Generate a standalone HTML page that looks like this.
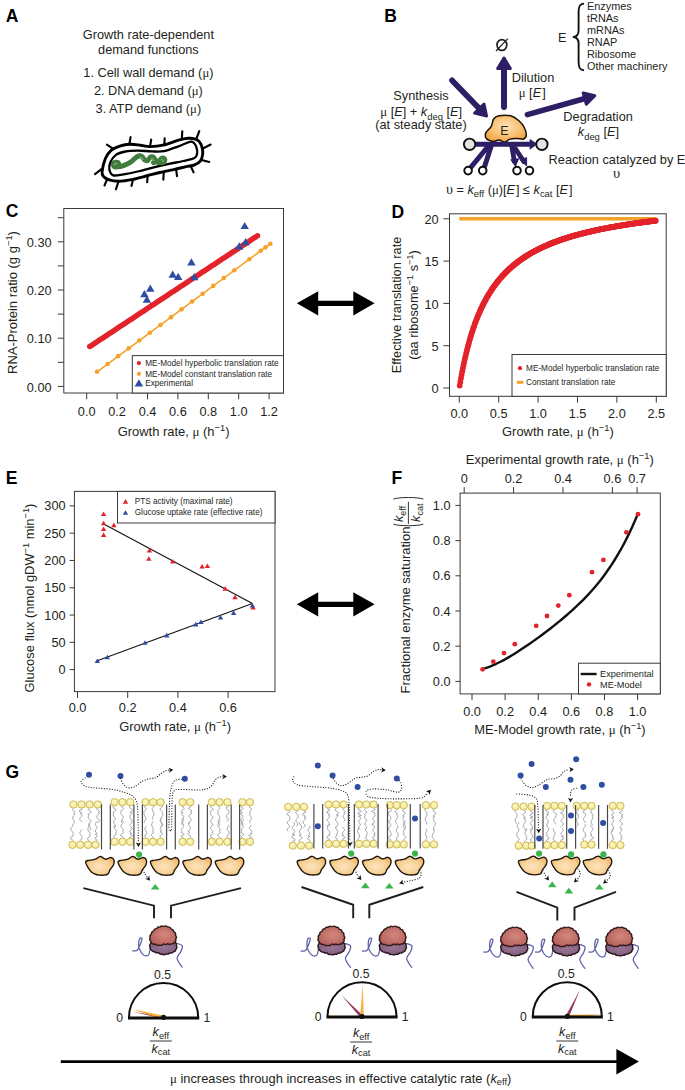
<!DOCTYPE html>
<html><head><meta charset="utf-8"><style>
html,body{margin:0;padding:0;background:#fff;}
svg{display:block;font-family:"Liberation Sans", sans-serif;}
</style></head><body>
<svg width="685" height="1090" viewBox="0 0 685 1090">
<rect width="685" height="1090" fill="#fff"/>
<text x="5.80" y="21.70" font-size="17.5" text-anchor="start" font-weight="bold" font-style="normal" fill="#000" >A</text>
<text x="384.30" y="21.50" font-size="17.5" text-anchor="start" font-weight="bold" font-style="normal" fill="#000" >B</text>
<text x="5.80" y="217.20" font-size="17.5" text-anchor="start" font-weight="bold" font-style="normal" fill="#000" >C</text>
<text x="391.60" y="218.20" font-size="17.5" text-anchor="start" font-weight="bold" font-style="normal" fill="#000" >D</text>
<text x="5.80" y="483.80" font-size="17.5" text-anchor="start" font-weight="bold" font-style="normal" fill="#000" >E</text>
<text x="391.60" y="484.30" font-size="17.5" text-anchor="start" font-weight="bold" font-style="normal" fill="#000" >F</text>
<text x="5.60" y="777.60" font-size="17.5" text-anchor="start" font-weight="bold" font-style="normal" fill="#000" >G</text>
<rect x="63.80" y="208.50" width="219.70" height="184.50" stroke="#3a3a3a" stroke-width="1" fill="none"/>
<line x1="57.80" y1="386.40" x2="63.80" y2="386.40" stroke="#3a3a3a" stroke-width="1" />
<text x="51.60" y="391.60" font-size="12.75" text-anchor="end" font-weight="normal" font-style="normal" fill="#231f20" >0.00</text>
<line x1="57.80" y1="362.30" x2="63.80" y2="362.30" stroke="#3a3a3a" stroke-width="1" />
<line x1="57.80" y1="338.20" x2="63.80" y2="338.20" stroke="#3a3a3a" stroke-width="1" />
<text x="51.60" y="343.40" font-size="12.75" text-anchor="end" font-weight="normal" font-style="normal" fill="#231f20" >0.10</text>
<line x1="57.80" y1="314.10" x2="63.80" y2="314.10" stroke="#3a3a3a" stroke-width="1" />
<line x1="57.80" y1="290.00" x2="63.80" y2="290.00" stroke="#3a3a3a" stroke-width="1" />
<text x="51.60" y="295.20" font-size="12.75" text-anchor="end" font-weight="normal" font-style="normal" fill="#231f20" >0.20</text>
<line x1="57.80" y1="265.90" x2="63.80" y2="265.90" stroke="#3a3a3a" stroke-width="1" />
<line x1="57.80" y1="241.80" x2="63.80" y2="241.80" stroke="#3a3a3a" stroke-width="1" />
<text x="51.60" y="247.00" font-size="12.75" text-anchor="end" font-weight="normal" font-style="normal" fill="#231f20" >0.30</text>
<line x1="57.80" y1="217.70" x2="63.80" y2="217.70" stroke="#3a3a3a" stroke-width="1" />
<line x1="86.70" y1="393.00" x2="86.70" y2="399.30" stroke="#3a3a3a" stroke-width="1" />
<text x="86.70" y="415.50" font-size="12.75" text-anchor="middle" font-weight="normal" font-style="normal" fill="#231f20" >0.0</text>
<line x1="117.10" y1="393.00" x2="117.10" y2="399.30" stroke="#3a3a3a" stroke-width="1" />
<text x="117.10" y="415.50" font-size="12.75" text-anchor="middle" font-weight="normal" font-style="normal" fill="#231f20" >0.2</text>
<line x1="147.50" y1="393.00" x2="147.50" y2="399.30" stroke="#3a3a3a" stroke-width="1" />
<text x="147.50" y="415.50" font-size="12.75" text-anchor="middle" font-weight="normal" font-style="normal" fill="#231f20" >0.4</text>
<line x1="177.90" y1="393.00" x2="177.90" y2="399.30" stroke="#3a3a3a" stroke-width="1" />
<text x="177.90" y="415.50" font-size="12.75" text-anchor="middle" font-weight="normal" font-style="normal" fill="#231f20" >0.6</text>
<line x1="208.30" y1="393.00" x2="208.30" y2="399.30" stroke="#3a3a3a" stroke-width="1" />
<text x="208.30" y="415.50" font-size="12.75" text-anchor="middle" font-weight="normal" font-style="normal" fill="#231f20" >0.8</text>
<line x1="238.70" y1="393.00" x2="238.70" y2="399.30" stroke="#3a3a3a" stroke-width="1" />
<text x="238.70" y="415.50" font-size="12.75" text-anchor="middle" font-weight="normal" font-style="normal" fill="#231f20" >1.0</text>
<line x1="269.10" y1="393.00" x2="269.10" y2="399.30" stroke="#3a3a3a" stroke-width="1" />
<text x="269.10" y="415.50" font-size="12.75" text-anchor="middle" font-weight="normal" font-style="normal" fill="#231f20" >1.2</text>
<text x="173.60" y="436.40" font-size="12.95" text-anchor="middle" font-weight="normal" font-style="normal" fill="#231f20" >Growth rate, <tspan font-family="Liberation Serif">μ</tspan> (h<tspan dy="-4.92" font-size="9.32">−1</tspan><tspan dy="4.92">​</tspan>)</text>
<text x="0.00" y="0.00" font-size="13.0" text-anchor="middle" font-weight="normal" font-style="normal" fill="#231f20" transform="translate(16.6,302.5) rotate(-90)">RNA-Protein ratio (g g<tspan dy="-4.94" font-size="9.36">−1</tspan><tspan dy="4.94">​</tspan>)</text>
<line x1="97.04" y1="371.77" x2="270.32" y2="243.75" stroke="#f3a22a" stroke-width="1.6" />
<circle cx="97.04" cy="371.77" r="2.3" fill="#f3a22a" stroke="none" stroke-width="0"/>
<circle cx="107.60" cy="363.97" r="2.3" fill="#f3a22a" stroke="none" stroke-width="0"/>
<circle cx="118.16" cy="356.16" r="2.3" fill="#f3a22a" stroke="none" stroke-width="0"/>
<circle cx="128.73" cy="348.36" r="2.3" fill="#f3a22a" stroke="none" stroke-width="0"/>
<circle cx="139.29" cy="340.55" r="2.3" fill="#f3a22a" stroke="none" stroke-width="0"/>
<circle cx="149.86" cy="332.75" r="2.3" fill="#f3a22a" stroke="none" stroke-width="0"/>
<circle cx="160.42" cy="324.94" r="2.3" fill="#f3a22a" stroke="none" stroke-width="0"/>
<circle cx="170.98" cy="317.14" r="2.3" fill="#f3a22a" stroke="none" stroke-width="0"/>
<circle cx="181.55" cy="309.33" r="2.3" fill="#f3a22a" stroke="none" stroke-width="0"/>
<circle cx="192.11" cy="301.53" r="2.3" fill="#f3a22a" stroke="none" stroke-width="0"/>
<circle cx="202.68" cy="293.72" r="2.3" fill="#f3a22a" stroke="none" stroke-width="0"/>
<circle cx="213.24" cy="285.92" r="2.3" fill="#f3a22a" stroke="none" stroke-width="0"/>
<circle cx="223.80" cy="278.11" r="2.3" fill="#f3a22a" stroke="none" stroke-width="0"/>
<circle cx="234.37" cy="270.31" r="2.3" fill="#f3a22a" stroke="none" stroke-width="0"/>
<circle cx="249.34" cy="259.24" r="2.3" fill="#f3a22a" stroke="none" stroke-width="0"/>
<circle cx="260.74" cy="250.82" r="2.3" fill="#f3a22a" stroke="none" stroke-width="0"/>
<circle cx="265.45" cy="247.34" r="2.3" fill="#f3a22a" stroke="none" stroke-width="0"/>
<circle cx="270.32" cy="243.75" r="2.3" fill="#f3a22a" stroke="none" stroke-width="0"/>
<circle cx="89.74" cy="346.60" r="2.75" fill="#e3232b" stroke="none" stroke-width="0"/>
<circle cx="91.56" cy="345.40" r="2.75" fill="#e3232b" stroke="none" stroke-width="0"/>
<circle cx="93.39" cy="344.19" r="2.75" fill="#e3232b" stroke="none" stroke-width="0"/>
<circle cx="95.21" cy="342.99" r="2.75" fill="#e3232b" stroke="none" stroke-width="0"/>
<circle cx="97.04" cy="341.78" r="2.75" fill="#e3232b" stroke="none" stroke-width="0"/>
<circle cx="98.86" cy="340.58" r="2.75" fill="#e3232b" stroke="none" stroke-width="0"/>
<circle cx="100.68" cy="339.37" r="2.75" fill="#e3232b" stroke="none" stroke-width="0"/>
<circle cx="102.51" cy="338.16" r="2.75" fill="#e3232b" stroke="none" stroke-width="0"/>
<circle cx="104.33" cy="336.96" r="2.75" fill="#e3232b" stroke="none" stroke-width="0"/>
<circle cx="106.16" cy="335.75" r="2.75" fill="#e3232b" stroke="none" stroke-width="0"/>
<circle cx="107.98" cy="334.55" r="2.75" fill="#e3232b" stroke="none" stroke-width="0"/>
<circle cx="109.80" cy="333.34" r="2.75" fill="#e3232b" stroke="none" stroke-width="0"/>
<circle cx="111.63" cy="332.14" r="2.75" fill="#e3232b" stroke="none" stroke-width="0"/>
<circle cx="113.45" cy="330.93" r="2.75" fill="#e3232b" stroke="none" stroke-width="0"/>
<circle cx="115.28" cy="329.73" r="2.75" fill="#e3232b" stroke="none" stroke-width="0"/>
<circle cx="117.10" cy="328.52" r="2.75" fill="#e3232b" stroke="none" stroke-width="0"/>
<circle cx="118.92" cy="327.32" r="2.75" fill="#e3232b" stroke="none" stroke-width="0"/>
<circle cx="120.75" cy="326.11" r="2.75" fill="#e3232b" stroke="none" stroke-width="0"/>
<circle cx="122.57" cy="324.91" r="2.75" fill="#e3232b" stroke="none" stroke-width="0"/>
<circle cx="124.40" cy="323.70" r="2.75" fill="#e3232b" stroke="none" stroke-width="0"/>
<circle cx="126.22" cy="322.49" r="2.75" fill="#e3232b" stroke="none" stroke-width="0"/>
<circle cx="128.04" cy="321.29" r="2.75" fill="#e3232b" stroke="none" stroke-width="0"/>
<circle cx="129.87" cy="320.08" r="2.75" fill="#e3232b" stroke="none" stroke-width="0"/>
<circle cx="131.69" cy="318.88" r="2.75" fill="#e3232b" stroke="none" stroke-width="0"/>
<circle cx="133.52" cy="317.67" r="2.75" fill="#e3232b" stroke="none" stroke-width="0"/>
<circle cx="135.34" cy="316.47" r="2.75" fill="#e3232b" stroke="none" stroke-width="0"/>
<circle cx="137.16" cy="315.26" r="2.75" fill="#e3232b" stroke="none" stroke-width="0"/>
<circle cx="138.99" cy="314.06" r="2.75" fill="#e3232b" stroke="none" stroke-width="0"/>
<circle cx="140.81" cy="312.85" r="2.75" fill="#e3232b" stroke="none" stroke-width="0"/>
<circle cx="142.64" cy="311.65" r="2.75" fill="#e3232b" stroke="none" stroke-width="0"/>
<circle cx="144.46" cy="310.44" r="2.75" fill="#e3232b" stroke="none" stroke-width="0"/>
<circle cx="146.28" cy="309.24" r="2.75" fill="#e3232b" stroke="none" stroke-width="0"/>
<circle cx="148.11" cy="308.03" r="2.75" fill="#e3232b" stroke="none" stroke-width="0"/>
<circle cx="149.93" cy="306.82" r="2.75" fill="#e3232b" stroke="none" stroke-width="0"/>
<circle cx="151.76" cy="305.62" r="2.75" fill="#e3232b" stroke="none" stroke-width="0"/>
<circle cx="153.58" cy="304.41" r="2.75" fill="#e3232b" stroke="none" stroke-width="0"/>
<circle cx="155.40" cy="303.21" r="2.75" fill="#e3232b" stroke="none" stroke-width="0"/>
<circle cx="157.23" cy="302.00" r="2.75" fill="#e3232b" stroke="none" stroke-width="0"/>
<circle cx="159.05" cy="300.80" r="2.75" fill="#e3232b" stroke="none" stroke-width="0"/>
<circle cx="160.88" cy="299.59" r="2.75" fill="#e3232b" stroke="none" stroke-width="0"/>
<circle cx="162.70" cy="298.39" r="2.75" fill="#e3232b" stroke="none" stroke-width="0"/>
<circle cx="164.52" cy="297.18" r="2.75" fill="#e3232b" stroke="none" stroke-width="0"/>
<circle cx="166.35" cy="295.98" r="2.75" fill="#e3232b" stroke="none" stroke-width="0"/>
<circle cx="168.17" cy="294.77" r="2.75" fill="#e3232b" stroke="none" stroke-width="0"/>
<circle cx="170.00" cy="293.57" r="2.75" fill="#e3232b" stroke="none" stroke-width="0"/>
<circle cx="171.82" cy="292.36" r="2.75" fill="#e3232b" stroke="none" stroke-width="0"/>
<circle cx="173.64" cy="291.15" r="2.75" fill="#e3232b" stroke="none" stroke-width="0"/>
<circle cx="175.47" cy="289.95" r="2.75" fill="#e3232b" stroke="none" stroke-width="0"/>
<circle cx="177.29" cy="288.74" r="2.75" fill="#e3232b" stroke="none" stroke-width="0"/>
<circle cx="179.12" cy="287.54" r="2.75" fill="#e3232b" stroke="none" stroke-width="0"/>
<circle cx="180.94" cy="286.33" r="2.75" fill="#e3232b" stroke="none" stroke-width="0"/>
<circle cx="182.76" cy="285.13" r="2.75" fill="#e3232b" stroke="none" stroke-width="0"/>
<circle cx="184.59" cy="283.92" r="2.75" fill="#e3232b" stroke="none" stroke-width="0"/>
<circle cx="186.41" cy="282.72" r="2.75" fill="#e3232b" stroke="none" stroke-width="0"/>
<circle cx="188.24" cy="281.51" r="2.75" fill="#e3232b" stroke="none" stroke-width="0"/>
<circle cx="190.06" cy="280.31" r="2.75" fill="#e3232b" stroke="none" stroke-width="0"/>
<circle cx="191.88" cy="279.10" r="2.75" fill="#e3232b" stroke="none" stroke-width="0"/>
<circle cx="193.71" cy="277.90" r="2.75" fill="#e3232b" stroke="none" stroke-width="0"/>
<circle cx="195.53" cy="276.69" r="2.75" fill="#e3232b" stroke="none" stroke-width="0"/>
<circle cx="197.36" cy="275.48" r="2.75" fill="#e3232b" stroke="none" stroke-width="0"/>
<circle cx="199.18" cy="274.28" r="2.75" fill="#e3232b" stroke="none" stroke-width="0"/>
<circle cx="201.00" cy="273.07" r="2.75" fill="#e3232b" stroke="none" stroke-width="0"/>
<circle cx="202.83" cy="271.87" r="2.75" fill="#e3232b" stroke="none" stroke-width="0"/>
<circle cx="204.65" cy="270.66" r="2.75" fill="#e3232b" stroke="none" stroke-width="0"/>
<circle cx="206.48" cy="269.46" r="2.75" fill="#e3232b" stroke="none" stroke-width="0"/>
<circle cx="208.30" cy="268.25" r="2.75" fill="#e3232b" stroke="none" stroke-width="0"/>
<circle cx="210.12" cy="267.05" r="2.75" fill="#e3232b" stroke="none" stroke-width="0"/>
<circle cx="211.95" cy="265.84" r="2.75" fill="#e3232b" stroke="none" stroke-width="0"/>
<circle cx="213.77" cy="264.64" r="2.75" fill="#e3232b" stroke="none" stroke-width="0"/>
<circle cx="215.60" cy="263.43" r="2.75" fill="#e3232b" stroke="none" stroke-width="0"/>
<circle cx="217.42" cy="262.23" r="2.75" fill="#e3232b" stroke="none" stroke-width="0"/>
<circle cx="219.24" cy="261.02" r="2.75" fill="#e3232b" stroke="none" stroke-width="0"/>
<circle cx="221.07" cy="259.81" r="2.75" fill="#e3232b" stroke="none" stroke-width="0"/>
<circle cx="222.89" cy="258.61" r="2.75" fill="#e3232b" stroke="none" stroke-width="0"/>
<circle cx="224.72" cy="257.40" r="2.75" fill="#e3232b" stroke="none" stroke-width="0"/>
<circle cx="226.54" cy="256.20" r="2.75" fill="#e3232b" stroke="none" stroke-width="0"/>
<circle cx="228.36" cy="254.99" r="2.75" fill="#e3232b" stroke="none" stroke-width="0"/>
<circle cx="230.19" cy="253.79" r="2.75" fill="#e3232b" stroke="none" stroke-width="0"/>
<circle cx="232.01" cy="252.58" r="2.75" fill="#e3232b" stroke="none" stroke-width="0"/>
<circle cx="233.84" cy="251.38" r="2.75" fill="#e3232b" stroke="none" stroke-width="0"/>
<circle cx="235.66" cy="250.17" r="2.75" fill="#e3232b" stroke="none" stroke-width="0"/>
<circle cx="237.48" cy="248.97" r="2.75" fill="#e3232b" stroke="none" stroke-width="0"/>
<circle cx="239.31" cy="247.76" r="2.75" fill="#e3232b" stroke="none" stroke-width="0"/>
<circle cx="241.13" cy="246.56" r="2.75" fill="#e3232b" stroke="none" stroke-width="0"/>
<circle cx="242.96" cy="245.35" r="2.75" fill="#e3232b" stroke="none" stroke-width="0"/>
<circle cx="244.78" cy="244.14" r="2.75" fill="#e3232b" stroke="none" stroke-width="0"/>
<circle cx="246.60" cy="242.94" r="2.75" fill="#e3232b" stroke="none" stroke-width="0"/>
<circle cx="248.43" cy="241.73" r="2.75" fill="#e3232b" stroke="none" stroke-width="0"/>
<circle cx="250.25" cy="240.53" r="2.75" fill="#e3232b" stroke="none" stroke-width="0"/>
<circle cx="252.08" cy="239.32" r="2.75" fill="#e3232b" stroke="none" stroke-width="0"/>
<circle cx="253.90" cy="238.12" r="2.75" fill="#e3232b" stroke="none" stroke-width="0"/>
<circle cx="255.72" cy="236.91" r="2.75" fill="#e3232b" stroke="none" stroke-width="0"/>
<circle cx="257.55" cy="235.71" r="2.75" fill="#e3232b" stroke="none" stroke-width="0"/>
<path d="M144.40,290.00L148.60,297.20L140.20,297.20Z" fill="#2f4ea3"/>
<path d="M150.30,284.50L154.50,291.70L146.10,291.70Z" fill="#2f4ea3"/>
<path d="M146.90,295.50L151.10,302.70L142.70,302.70Z" fill="#2f4ea3"/>
<path d="M172.70,270.60L176.90,277.80L168.50,277.80Z" fill="#2f4ea3"/>
<path d="M178.20,272.70L182.40,279.90L174.00,279.90Z" fill="#2f4ea3"/>
<path d="M191.40,258.30L195.60,265.50L187.20,265.50Z" fill="#2f4ea3"/>
<path d="M194.30,273.10L198.50,280.30L190.10,280.30Z" fill="#2f4ea3"/>
<path d="M239.20,242.20L243.40,249.40L235.00,249.40Z" fill="#2f4ea3"/>
<path d="M245.60,238.00L249.80,245.20L241.40,245.20Z" fill="#2f4ea3"/>
<path d="M244.70,221.90L248.90,229.10L240.50,229.10Z" fill="#2f4ea3"/>
<rect x="132.3" y="355.6" width="151.20" height="37.40" fill="#fff" stroke="#3a3a3a" stroke-width="1"/>
<circle cx="138.90" cy="363.10" r="2.1" fill="#e3232b" stroke="none" stroke-width="0"/>
<text x="145.20" y="366.00" font-size="8.2" text-anchor="start" font-weight="normal" font-style="normal" fill="#231f20" >ME-Model hyperbolic translation rate</text>
<circle cx="138.90" cy="373.80" r="2.1" fill="#f3a22a" stroke="none" stroke-width="0"/>
<text x="145.20" y="376.70" font-size="8.2" text-anchor="start" font-weight="normal" font-style="normal" fill="#231f20" >ME-Model constant translation rate</text>
<path d="M138.90,379.20L143.20,386.60L134.60,386.60Z" fill="#2f4ea3"/>
<text x="145.20" y="385.80" font-size="8.2" text-anchor="start" font-weight="normal" font-style="normal" fill="#231f20" >Experimental</text>
<rect x="449.50" y="213.80" width="216.70" height="182.50" stroke="#3a3a3a" stroke-width="1" fill="none"/>
<line x1="443.40" y1="388.00" x2="449.50" y2="388.00" stroke="#3a3a3a" stroke-width="1" />
<text x="438.70" y="393.20" font-size="12.75" text-anchor="end" font-weight="normal" font-style="normal" fill="#231f20" >0</text>
<line x1="443.40" y1="345.70" x2="449.50" y2="345.70" stroke="#3a3a3a" stroke-width="1" />
<text x="438.70" y="350.90" font-size="12.75" text-anchor="end" font-weight="normal" font-style="normal" fill="#231f20" >5</text>
<line x1="443.40" y1="303.40" x2="449.50" y2="303.40" stroke="#3a3a3a" stroke-width="1" />
<text x="438.70" y="308.60" font-size="12.75" text-anchor="end" font-weight="normal" font-style="normal" fill="#231f20" >10</text>
<line x1="443.40" y1="261.10" x2="449.50" y2="261.10" stroke="#3a3a3a" stroke-width="1" />
<text x="438.70" y="266.30" font-size="12.75" text-anchor="end" font-weight="normal" font-style="normal" fill="#231f20" >15</text>
<line x1="443.40" y1="218.80" x2="449.50" y2="218.80" stroke="#3a3a3a" stroke-width="1" />
<text x="438.70" y="224.00" font-size="12.75" text-anchor="end" font-weight="normal" font-style="normal" fill="#231f20" >20</text>
<line x1="459.30" y1="396.30" x2="459.30" y2="402.60" stroke="#3a3a3a" stroke-width="1" />
<text x="459.30" y="418.40" font-size="12.75" text-anchor="middle" font-weight="normal" font-style="normal" fill="#231f20" >0.0</text>
<line x1="498.70" y1="396.30" x2="498.70" y2="402.60" stroke="#3a3a3a" stroke-width="1" />
<text x="498.70" y="418.40" font-size="12.75" text-anchor="middle" font-weight="normal" font-style="normal" fill="#231f20" >0.5</text>
<line x1="538.10" y1="396.30" x2="538.10" y2="402.60" stroke="#3a3a3a" stroke-width="1" />
<text x="538.10" y="418.40" font-size="12.75" text-anchor="middle" font-weight="normal" font-style="normal" fill="#231f20" >1.0</text>
<line x1="577.50" y1="396.30" x2="577.50" y2="402.60" stroke="#3a3a3a" stroke-width="1" />
<text x="577.50" y="418.40" font-size="12.75" text-anchor="middle" font-weight="normal" font-style="normal" fill="#231f20" >1.5</text>
<line x1="616.90" y1="396.30" x2="616.90" y2="402.60" stroke="#3a3a3a" stroke-width="1" />
<text x="616.90" y="418.40" font-size="12.75" text-anchor="middle" font-weight="normal" font-style="normal" fill="#231f20" >2.0</text>
<line x1="656.30" y1="396.30" x2="656.30" y2="402.60" stroke="#3a3a3a" stroke-width="1" />
<text x="656.30" y="418.40" font-size="12.75" text-anchor="middle" font-weight="normal" font-style="normal" fill="#231f20" >2.5</text>
<text x="557.90" y="436.20" font-size="12.95" text-anchor="middle" font-weight="normal" font-style="normal" fill="#231f20" >Growth rate, <tspan font-family="Liberation Serif">μ</tspan> (h<tspan dy="-4.92" font-size="9.32">−1</tspan><tspan dy="4.92">​</tspan>)</text>
<text x="0.00" y="0.00" font-size="12.75" text-anchor="middle" font-weight="normal" font-style="normal" fill="#231f20" transform="translate(401.2,305) rotate(-90)">Effective translation rate</text>
<text x="0.00" y="0.00" font-size="12.75" text-anchor="middle" font-weight="normal" font-style="normal" fill="#231f20" transform="translate(418.3,305) rotate(-90)">(aa ribosome<tspan dy="-4.84" font-size="9.18">−1</tspan><tspan dy="4.84">​</tspan> s<tspan dy="-4.84" font-size="9.18">−1</tspan><tspan dy="4.84">​</tspan>)</text>
<line x1="459.30" y1="218.80" x2="656.30" y2="218.80" stroke="#f3a22a" stroke-width="3.6" />
<circle cx="459.69" cy="385.61" r="2.9" fill="#e3232b" stroke="none" stroke-width="0"/>
<circle cx="460.32" cy="381.90" r="2.9" fill="#e3232b" stroke="none" stroke-width="0"/>
<circle cx="460.95" cy="378.33" r="2.9" fill="#e3232b" stroke="none" stroke-width="0"/>
<circle cx="461.59" cy="374.90" r="2.9" fill="#e3232b" stroke="none" stroke-width="0"/>
<circle cx="462.22" cy="371.59" r="2.9" fill="#e3232b" stroke="none" stroke-width="0"/>
<circle cx="462.85" cy="368.40" r="2.9" fill="#e3232b" stroke="none" stroke-width="0"/>
<circle cx="463.48" cy="365.32" r="2.9" fill="#e3232b" stroke="none" stroke-width="0"/>
<circle cx="464.11" cy="362.35" r="2.9" fill="#e3232b" stroke="none" stroke-width="0"/>
<circle cx="464.74" cy="359.48" r="2.9" fill="#e3232b" stroke="none" stroke-width="0"/>
<circle cx="465.37" cy="356.71" r="2.9" fill="#e3232b" stroke="none" stroke-width="0"/>
<circle cx="466.00" cy="354.03" r="2.9" fill="#e3232b" stroke="none" stroke-width="0"/>
<circle cx="466.63" cy="351.43" r="2.9" fill="#e3232b" stroke="none" stroke-width="0"/>
<circle cx="467.26" cy="348.92" r="2.9" fill="#e3232b" stroke="none" stroke-width="0"/>
<circle cx="467.89" cy="346.49" r="2.9" fill="#e3232b" stroke="none" stroke-width="0"/>
<circle cx="468.52" cy="344.13" r="2.9" fill="#e3232b" stroke="none" stroke-width="0"/>
<circle cx="469.15" cy="341.84" r="2.9" fill="#e3232b" stroke="none" stroke-width="0"/>
<circle cx="469.78" cy="339.62" r="2.9" fill="#e3232b" stroke="none" stroke-width="0"/>
<circle cx="470.41" cy="337.47" r="2.9" fill="#e3232b" stroke="none" stroke-width="0"/>
<circle cx="471.04" cy="335.38" r="2.9" fill="#e3232b" stroke="none" stroke-width="0"/>
<circle cx="471.67" cy="333.35" r="2.9" fill="#e3232b" stroke="none" stroke-width="0"/>
<circle cx="472.30" cy="331.37" r="2.9" fill="#e3232b" stroke="none" stroke-width="0"/>
<circle cx="472.93" cy="329.46" r="2.9" fill="#e3232b" stroke="none" stroke-width="0"/>
<circle cx="473.56" cy="327.59" r="2.9" fill="#e3232b" stroke="none" stroke-width="0"/>
<circle cx="474.19" cy="325.78" r="2.9" fill="#e3232b" stroke="none" stroke-width="0"/>
<circle cx="474.82" cy="324.01" r="2.9" fill="#e3232b" stroke="none" stroke-width="0"/>
<circle cx="475.45" cy="322.29" r="2.9" fill="#e3232b" stroke="none" stroke-width="0"/>
<circle cx="476.08" cy="320.62" r="2.9" fill="#e3232b" stroke="none" stroke-width="0"/>
<circle cx="476.71" cy="318.98" r="2.9" fill="#e3232b" stroke="none" stroke-width="0"/>
<circle cx="477.35" cy="317.39" r="2.9" fill="#e3232b" stroke="none" stroke-width="0"/>
<circle cx="477.98" cy="315.84" r="2.9" fill="#e3232b" stroke="none" stroke-width="0"/>
<circle cx="478.61" cy="314.33" r="2.9" fill="#e3232b" stroke="none" stroke-width="0"/>
<circle cx="479.24" cy="312.86" r="2.9" fill="#e3232b" stroke="none" stroke-width="0"/>
<circle cx="479.87" cy="311.42" r="2.9" fill="#e3232b" stroke="none" stroke-width="0"/>
<circle cx="480.50" cy="310.01" r="2.9" fill="#e3232b" stroke="none" stroke-width="0"/>
<circle cx="481.13" cy="308.64" r="2.9" fill="#e3232b" stroke="none" stroke-width="0"/>
<circle cx="481.76" cy="307.30" r="2.9" fill="#e3232b" stroke="none" stroke-width="0"/>
<circle cx="482.39" cy="305.99" r="2.9" fill="#e3232b" stroke="none" stroke-width="0"/>
<circle cx="483.02" cy="304.71" r="2.9" fill="#e3232b" stroke="none" stroke-width="0"/>
<circle cx="483.65" cy="303.46" r="2.9" fill="#e3232b" stroke="none" stroke-width="0"/>
<circle cx="484.28" cy="302.24" r="2.9" fill="#e3232b" stroke="none" stroke-width="0"/>
<circle cx="484.91" cy="301.05" r="2.9" fill="#e3232b" stroke="none" stroke-width="0"/>
<circle cx="485.54" cy="299.88" r="2.9" fill="#e3232b" stroke="none" stroke-width="0"/>
<circle cx="486.17" cy="298.73" r="2.9" fill="#e3232b" stroke="none" stroke-width="0"/>
<circle cx="486.80" cy="297.61" r="2.9" fill="#e3232b" stroke="none" stroke-width="0"/>
<circle cx="487.43" cy="296.52" r="2.9" fill="#e3232b" stroke="none" stroke-width="0"/>
<circle cx="488.06" cy="295.44" r="2.9" fill="#e3232b" stroke="none" stroke-width="0"/>
<circle cx="488.69" cy="294.39" r="2.9" fill="#e3232b" stroke="none" stroke-width="0"/>
<circle cx="489.32" cy="293.36" r="2.9" fill="#e3232b" stroke="none" stroke-width="0"/>
<circle cx="489.95" cy="292.35" r="2.9" fill="#e3232b" stroke="none" stroke-width="0"/>
<circle cx="490.58" cy="291.37" r="2.9" fill="#e3232b" stroke="none" stroke-width="0"/>
<circle cx="491.21" cy="290.40" r="2.9" fill="#e3232b" stroke="none" stroke-width="0"/>
<circle cx="491.84" cy="289.45" r="2.9" fill="#e3232b" stroke="none" stroke-width="0"/>
<circle cx="492.47" cy="288.52" r="2.9" fill="#e3232b" stroke="none" stroke-width="0"/>
<circle cx="493.11" cy="287.60" r="2.9" fill="#e3232b" stroke="none" stroke-width="0"/>
<circle cx="493.74" cy="286.71" r="2.9" fill="#e3232b" stroke="none" stroke-width="0"/>
<circle cx="494.37" cy="285.83" r="2.9" fill="#e3232b" stroke="none" stroke-width="0"/>
<circle cx="495.00" cy="284.97" r="2.9" fill="#e3232b" stroke="none" stroke-width="0"/>
<circle cx="495.63" cy="284.12" r="2.9" fill="#e3232b" stroke="none" stroke-width="0"/>
<circle cx="496.26" cy="283.29" r="2.9" fill="#e3232b" stroke="none" stroke-width="0"/>
<circle cx="496.89" cy="282.47" r="2.9" fill="#e3232b" stroke="none" stroke-width="0"/>
<circle cx="497.52" cy="281.67" r="2.9" fill="#e3232b" stroke="none" stroke-width="0"/>
<circle cx="498.15" cy="280.88" r="2.9" fill="#e3232b" stroke="none" stroke-width="0"/>
<circle cx="498.78" cy="280.11" r="2.9" fill="#e3232b" stroke="none" stroke-width="0"/>
<circle cx="499.41" cy="279.35" r="2.9" fill="#e3232b" stroke="none" stroke-width="0"/>
<circle cx="500.04" cy="278.61" r="2.9" fill="#e3232b" stroke="none" stroke-width="0"/>
<circle cx="500.67" cy="277.87" r="2.9" fill="#e3232b" stroke="none" stroke-width="0"/>
<circle cx="501.30" cy="277.15" r="2.9" fill="#e3232b" stroke="none" stroke-width="0"/>
<circle cx="501.93" cy="276.45" r="2.9" fill="#e3232b" stroke="none" stroke-width="0"/>
<circle cx="502.56" cy="275.75" r="2.9" fill="#e3232b" stroke="none" stroke-width="0"/>
<circle cx="503.19" cy="275.06" r="2.9" fill="#e3232b" stroke="none" stroke-width="0"/>
<circle cx="503.82" cy="274.39" r="2.9" fill="#e3232b" stroke="none" stroke-width="0"/>
<circle cx="504.45" cy="273.73" r="2.9" fill="#e3232b" stroke="none" stroke-width="0"/>
<circle cx="505.08" cy="273.08" r="2.9" fill="#e3232b" stroke="none" stroke-width="0"/>
<circle cx="505.71" cy="272.44" r="2.9" fill="#e3232b" stroke="none" stroke-width="0"/>
<circle cx="506.34" cy="271.81" r="2.9" fill="#e3232b" stroke="none" stroke-width="0"/>
<circle cx="506.97" cy="271.18" r="2.9" fill="#e3232b" stroke="none" stroke-width="0"/>
<circle cx="507.60" cy="270.57" r="2.9" fill="#e3232b" stroke="none" stroke-width="0"/>
<circle cx="508.23" cy="269.97" r="2.9" fill="#e3232b" stroke="none" stroke-width="0"/>
<circle cx="508.87" cy="269.38" r="2.9" fill="#e3232b" stroke="none" stroke-width="0"/>
<circle cx="509.50" cy="268.80" r="2.9" fill="#e3232b" stroke="none" stroke-width="0"/>
<circle cx="510.13" cy="268.22" r="2.9" fill="#e3232b" stroke="none" stroke-width="0"/>
<circle cx="510.76" cy="267.66" r="2.9" fill="#e3232b" stroke="none" stroke-width="0"/>
<circle cx="511.39" cy="267.10" r="2.9" fill="#e3232b" stroke="none" stroke-width="0"/>
<circle cx="512.02" cy="266.55" r="2.9" fill="#e3232b" stroke="none" stroke-width="0"/>
<circle cx="512.65" cy="266.01" r="2.9" fill="#e3232b" stroke="none" stroke-width="0"/>
<circle cx="513.28" cy="265.48" r="2.9" fill="#e3232b" stroke="none" stroke-width="0"/>
<circle cx="513.91" cy="264.96" r="2.9" fill="#e3232b" stroke="none" stroke-width="0"/>
<circle cx="514.54" cy="264.44" r="2.9" fill="#e3232b" stroke="none" stroke-width="0"/>
<circle cx="515.17" cy="263.93" r="2.9" fill="#e3232b" stroke="none" stroke-width="0"/>
<circle cx="515.80" cy="263.43" r="2.9" fill="#e3232b" stroke="none" stroke-width="0"/>
<circle cx="516.43" cy="262.93" r="2.9" fill="#e3232b" stroke="none" stroke-width="0"/>
<circle cx="517.06" cy="262.45" r="2.9" fill="#e3232b" stroke="none" stroke-width="0"/>
<circle cx="517.69" cy="261.96" r="2.9" fill="#e3232b" stroke="none" stroke-width="0"/>
<circle cx="518.32" cy="261.49" r="2.9" fill="#e3232b" stroke="none" stroke-width="0"/>
<circle cx="518.95" cy="261.02" r="2.9" fill="#e3232b" stroke="none" stroke-width="0"/>
<circle cx="519.58" cy="260.56" r="2.9" fill="#e3232b" stroke="none" stroke-width="0"/>
<circle cx="520.21" cy="260.10" r="2.9" fill="#e3232b" stroke="none" stroke-width="0"/>
<circle cx="520.84" cy="259.66" r="2.9" fill="#e3232b" stroke="none" stroke-width="0"/>
<circle cx="521.47" cy="259.21" r="2.9" fill="#e3232b" stroke="none" stroke-width="0"/>
<circle cx="522.10" cy="258.78" r="2.9" fill="#e3232b" stroke="none" stroke-width="0"/>
<circle cx="522.73" cy="258.34" r="2.9" fill="#e3232b" stroke="none" stroke-width="0"/>
<circle cx="523.36" cy="257.92" r="2.9" fill="#e3232b" stroke="none" stroke-width="0"/>
<circle cx="523.99" cy="257.50" r="2.9" fill="#e3232b" stroke="none" stroke-width="0"/>
<circle cx="524.63" cy="257.08" r="2.9" fill="#e3232b" stroke="none" stroke-width="0"/>
<circle cx="525.26" cy="256.68" r="2.9" fill="#e3232b" stroke="none" stroke-width="0"/>
<circle cx="525.89" cy="256.27" r="2.9" fill="#e3232b" stroke="none" stroke-width="0"/>
<circle cx="526.52" cy="255.87" r="2.9" fill="#e3232b" stroke="none" stroke-width="0"/>
<circle cx="527.15" cy="255.48" r="2.9" fill="#e3232b" stroke="none" stroke-width="0"/>
<circle cx="527.78" cy="255.09" r="2.9" fill="#e3232b" stroke="none" stroke-width="0"/>
<circle cx="528.41" cy="254.71" r="2.9" fill="#e3232b" stroke="none" stroke-width="0"/>
<circle cx="529.04" cy="254.33" r="2.9" fill="#e3232b" stroke="none" stroke-width="0"/>
<circle cx="529.67" cy="253.95" r="2.9" fill="#e3232b" stroke="none" stroke-width="0"/>
<circle cx="530.30" cy="253.58" r="2.9" fill="#e3232b" stroke="none" stroke-width="0"/>
<circle cx="530.93" cy="253.22" r="2.9" fill="#e3232b" stroke="none" stroke-width="0"/>
<circle cx="531.56" cy="252.86" r="2.9" fill="#e3232b" stroke="none" stroke-width="0"/>
<circle cx="532.19" cy="252.50" r="2.9" fill="#e3232b" stroke="none" stroke-width="0"/>
<circle cx="532.82" cy="252.15" r="2.9" fill="#e3232b" stroke="none" stroke-width="0"/>
<circle cx="533.45" cy="251.80" r="2.9" fill="#e3232b" stroke="none" stroke-width="0"/>
<circle cx="534.08" cy="251.46" r="2.9" fill="#e3232b" stroke="none" stroke-width="0"/>
<circle cx="534.71" cy="251.12" r="2.9" fill="#e3232b" stroke="none" stroke-width="0"/>
<circle cx="535.34" cy="250.78" r="2.9" fill="#e3232b" stroke="none" stroke-width="0"/>
<circle cx="535.97" cy="250.45" r="2.9" fill="#e3232b" stroke="none" stroke-width="0"/>
<circle cx="536.60" cy="250.12" r="2.9" fill="#e3232b" stroke="none" stroke-width="0"/>
<circle cx="537.23" cy="249.80" r="2.9" fill="#e3232b" stroke="none" stroke-width="0"/>
<circle cx="537.86" cy="249.47" r="2.9" fill="#e3232b" stroke="none" stroke-width="0"/>
<circle cx="538.49" cy="249.16" r="2.9" fill="#e3232b" stroke="none" stroke-width="0"/>
<circle cx="539.12" cy="248.84" r="2.9" fill="#e3232b" stroke="none" stroke-width="0"/>
<circle cx="539.75" cy="248.53" r="2.9" fill="#e3232b" stroke="none" stroke-width="0"/>
<circle cx="540.39" cy="248.23" r="2.9" fill="#e3232b" stroke="none" stroke-width="0"/>
<circle cx="541.02" cy="247.92" r="2.9" fill="#e3232b" stroke="none" stroke-width="0"/>
<circle cx="541.65" cy="247.62" r="2.9" fill="#e3232b" stroke="none" stroke-width="0"/>
<circle cx="542.28" cy="247.33" r="2.9" fill="#e3232b" stroke="none" stroke-width="0"/>
<circle cx="542.91" cy="247.04" r="2.9" fill="#e3232b" stroke="none" stroke-width="0"/>
<circle cx="543.54" cy="246.75" r="2.9" fill="#e3232b" stroke="none" stroke-width="0"/>
<circle cx="544.17" cy="246.46" r="2.9" fill="#e3232b" stroke="none" stroke-width="0"/>
<circle cx="544.80" cy="246.17" r="2.9" fill="#e3232b" stroke="none" stroke-width="0"/>
<circle cx="545.43" cy="245.89" r="2.9" fill="#e3232b" stroke="none" stroke-width="0"/>
<circle cx="546.06" cy="245.62" r="2.9" fill="#e3232b" stroke="none" stroke-width="0"/>
<circle cx="546.69" cy="245.34" r="2.9" fill="#e3232b" stroke="none" stroke-width="0"/>
<circle cx="547.32" cy="245.07" r="2.9" fill="#e3232b" stroke="none" stroke-width="0"/>
<circle cx="547.95" cy="244.80" r="2.9" fill="#e3232b" stroke="none" stroke-width="0"/>
<circle cx="548.58" cy="244.53" r="2.9" fill="#e3232b" stroke="none" stroke-width="0"/>
<circle cx="549.21" cy="244.27" r="2.9" fill="#e3232b" stroke="none" stroke-width="0"/>
<circle cx="549.84" cy="244.01" r="2.9" fill="#e3232b" stroke="none" stroke-width="0"/>
<circle cx="550.47" cy="243.75" r="2.9" fill="#e3232b" stroke="none" stroke-width="0"/>
<circle cx="551.10" cy="243.50" r="2.9" fill="#e3232b" stroke="none" stroke-width="0"/>
<circle cx="551.73" cy="243.24" r="2.9" fill="#e3232b" stroke="none" stroke-width="0"/>
<circle cx="552.36" cy="242.99" r="2.9" fill="#e3232b" stroke="none" stroke-width="0"/>
<circle cx="552.99" cy="242.75" r="2.9" fill="#e3232b" stroke="none" stroke-width="0"/>
<circle cx="553.62" cy="242.50" r="2.9" fill="#e3232b" stroke="none" stroke-width="0"/>
<circle cx="554.25" cy="242.26" r="2.9" fill="#e3232b" stroke="none" stroke-width="0"/>
<circle cx="554.88" cy="242.02" r="2.9" fill="#e3232b" stroke="none" stroke-width="0"/>
<circle cx="555.51" cy="241.78" r="2.9" fill="#e3232b" stroke="none" stroke-width="0"/>
<circle cx="556.15" cy="241.54" r="2.9" fill="#e3232b" stroke="none" stroke-width="0"/>
<circle cx="556.78" cy="241.31" r="2.9" fill="#e3232b" stroke="none" stroke-width="0"/>
<circle cx="557.41" cy="241.08" r="2.9" fill="#e3232b" stroke="none" stroke-width="0"/>
<circle cx="558.04" cy="240.85" r="2.9" fill="#e3232b" stroke="none" stroke-width="0"/>
<circle cx="558.67" cy="240.62" r="2.9" fill="#e3232b" stroke="none" stroke-width="0"/>
<circle cx="559.30" cy="240.40" r="2.9" fill="#e3232b" stroke="none" stroke-width="0"/>
<circle cx="559.93" cy="240.18" r="2.9" fill="#e3232b" stroke="none" stroke-width="0"/>
<circle cx="560.56" cy="239.96" r="2.9" fill="#e3232b" stroke="none" stroke-width="0"/>
<circle cx="561.19" cy="239.74" r="2.9" fill="#e3232b" stroke="none" stroke-width="0"/>
<circle cx="561.82" cy="239.52" r="2.9" fill="#e3232b" stroke="none" stroke-width="0"/>
<circle cx="562.45" cy="239.31" r="2.9" fill="#e3232b" stroke="none" stroke-width="0"/>
<circle cx="563.08" cy="239.10" r="2.9" fill="#e3232b" stroke="none" stroke-width="0"/>
<circle cx="563.71" cy="238.89" r="2.9" fill="#e3232b" stroke="none" stroke-width="0"/>
<circle cx="564.34" cy="238.68" r="2.9" fill="#e3232b" stroke="none" stroke-width="0"/>
<circle cx="564.97" cy="238.47" r="2.9" fill="#e3232b" stroke="none" stroke-width="0"/>
<circle cx="565.60" cy="238.27" r="2.9" fill="#e3232b" stroke="none" stroke-width="0"/>
<circle cx="566.23" cy="238.06" r="2.9" fill="#e3232b" stroke="none" stroke-width="0"/>
<circle cx="566.86" cy="237.86" r="2.9" fill="#e3232b" stroke="none" stroke-width="0"/>
<circle cx="567.49" cy="237.67" r="2.9" fill="#e3232b" stroke="none" stroke-width="0"/>
<circle cx="568.12" cy="237.47" r="2.9" fill="#e3232b" stroke="none" stroke-width="0"/>
<circle cx="568.75" cy="237.27" r="2.9" fill="#e3232b" stroke="none" stroke-width="0"/>
<circle cx="569.38" cy="237.08" r="2.9" fill="#e3232b" stroke="none" stroke-width="0"/>
<circle cx="570.01" cy="236.89" r="2.9" fill="#e3232b" stroke="none" stroke-width="0"/>
<circle cx="570.64" cy="236.70" r="2.9" fill="#e3232b" stroke="none" stroke-width="0"/>
<circle cx="571.27" cy="236.51" r="2.9" fill="#e3232b" stroke="none" stroke-width="0"/>
<circle cx="571.91" cy="236.32" r="2.9" fill="#e3232b" stroke="none" stroke-width="0"/>
<circle cx="572.54" cy="236.14" r="2.9" fill="#e3232b" stroke="none" stroke-width="0"/>
<circle cx="573.17" cy="235.95" r="2.9" fill="#e3232b" stroke="none" stroke-width="0"/>
<circle cx="573.80" cy="235.77" r="2.9" fill="#e3232b" stroke="none" stroke-width="0"/>
<circle cx="574.43" cy="235.59" r="2.9" fill="#e3232b" stroke="none" stroke-width="0"/>
<circle cx="575.06" cy="235.41" r="2.9" fill="#e3232b" stroke="none" stroke-width="0"/>
<circle cx="575.69" cy="235.23" r="2.9" fill="#e3232b" stroke="none" stroke-width="0"/>
<circle cx="576.32" cy="235.06" r="2.9" fill="#e3232b" stroke="none" stroke-width="0"/>
<circle cx="576.95" cy="234.88" r="2.9" fill="#e3232b" stroke="none" stroke-width="0"/>
<circle cx="577.58" cy="234.71" r="2.9" fill="#e3232b" stroke="none" stroke-width="0"/>
<circle cx="578.21" cy="234.54" r="2.9" fill="#e3232b" stroke="none" stroke-width="0"/>
<circle cx="578.84" cy="234.37" r="2.9" fill="#e3232b" stroke="none" stroke-width="0"/>
<circle cx="579.47" cy="234.20" r="2.9" fill="#e3232b" stroke="none" stroke-width="0"/>
<circle cx="580.10" cy="234.03" r="2.9" fill="#e3232b" stroke="none" stroke-width="0"/>
<circle cx="580.73" cy="233.87" r="2.9" fill="#e3232b" stroke="none" stroke-width="0"/>
<circle cx="581.36" cy="233.70" r="2.9" fill="#e3232b" stroke="none" stroke-width="0"/>
<circle cx="581.99" cy="233.54" r="2.9" fill="#e3232b" stroke="none" stroke-width="0"/>
<circle cx="582.62" cy="233.38" r="2.9" fill="#e3232b" stroke="none" stroke-width="0"/>
<circle cx="583.25" cy="233.22" r="2.9" fill="#e3232b" stroke="none" stroke-width="0"/>
<circle cx="583.88" cy="233.06" r="2.9" fill="#e3232b" stroke="none" stroke-width="0"/>
<circle cx="584.51" cy="232.90" r="2.9" fill="#e3232b" stroke="none" stroke-width="0"/>
<circle cx="585.14" cy="232.74" r="2.9" fill="#e3232b" stroke="none" stroke-width="0"/>
<circle cx="585.77" cy="232.59" r="2.9" fill="#e3232b" stroke="none" stroke-width="0"/>
<circle cx="586.40" cy="232.43" r="2.9" fill="#e3232b" stroke="none" stroke-width="0"/>
<circle cx="587.03" cy="232.28" r="2.9" fill="#e3232b" stroke="none" stroke-width="0"/>
<circle cx="587.67" cy="232.13" r="2.9" fill="#e3232b" stroke="none" stroke-width="0"/>
<circle cx="588.30" cy="231.98" r="2.9" fill="#e3232b" stroke="none" stroke-width="0"/>
<circle cx="588.93" cy="231.83" r="2.9" fill="#e3232b" stroke="none" stroke-width="0"/>
<circle cx="589.56" cy="231.68" r="2.9" fill="#e3232b" stroke="none" stroke-width="0"/>
<circle cx="590.19" cy="231.53" r="2.9" fill="#e3232b" stroke="none" stroke-width="0"/>
<circle cx="590.82" cy="231.39" r="2.9" fill="#e3232b" stroke="none" stroke-width="0"/>
<circle cx="591.45" cy="231.24" r="2.9" fill="#e3232b" stroke="none" stroke-width="0"/>
<circle cx="592.08" cy="231.10" r="2.9" fill="#e3232b" stroke="none" stroke-width="0"/>
<circle cx="592.71" cy="230.96" r="2.9" fill="#e3232b" stroke="none" stroke-width="0"/>
<circle cx="593.34" cy="230.81" r="2.9" fill="#e3232b" stroke="none" stroke-width="0"/>
<circle cx="593.97" cy="230.67" r="2.9" fill="#e3232b" stroke="none" stroke-width="0"/>
<circle cx="594.60" cy="230.53" r="2.9" fill="#e3232b" stroke="none" stroke-width="0"/>
<circle cx="595.23" cy="230.40" r="2.9" fill="#e3232b" stroke="none" stroke-width="0"/>
<circle cx="595.86" cy="230.26" r="2.9" fill="#e3232b" stroke="none" stroke-width="0"/>
<circle cx="596.49" cy="230.12" r="2.9" fill="#e3232b" stroke="none" stroke-width="0"/>
<circle cx="597.12" cy="229.99" r="2.9" fill="#e3232b" stroke="none" stroke-width="0"/>
<circle cx="597.75" cy="229.85" r="2.9" fill="#e3232b" stroke="none" stroke-width="0"/>
<circle cx="598.38" cy="229.72" r="2.9" fill="#e3232b" stroke="none" stroke-width="0"/>
<circle cx="599.01" cy="229.59" r="2.9" fill="#e3232b" stroke="none" stroke-width="0"/>
<circle cx="599.64" cy="229.46" r="2.9" fill="#e3232b" stroke="none" stroke-width="0"/>
<circle cx="600.27" cy="229.33" r="2.9" fill="#e3232b" stroke="none" stroke-width="0"/>
<circle cx="600.90" cy="229.20" r="2.9" fill="#e3232b" stroke="none" stroke-width="0"/>
<circle cx="601.53" cy="229.07" r="2.9" fill="#e3232b" stroke="none" stroke-width="0"/>
<circle cx="602.16" cy="228.94" r="2.9" fill="#e3232b" stroke="none" stroke-width="0"/>
<circle cx="602.79" cy="228.81" r="2.9" fill="#e3232b" stroke="none" stroke-width="0"/>
<circle cx="603.43" cy="228.69" r="2.9" fill="#e3232b" stroke="none" stroke-width="0"/>
<circle cx="604.06" cy="228.56" r="2.9" fill="#e3232b" stroke="none" stroke-width="0"/>
<circle cx="604.69" cy="228.44" r="2.9" fill="#e3232b" stroke="none" stroke-width="0"/>
<circle cx="605.32" cy="228.32" r="2.9" fill="#e3232b" stroke="none" stroke-width="0"/>
<circle cx="605.95" cy="228.19" r="2.9" fill="#e3232b" stroke="none" stroke-width="0"/>
<circle cx="606.58" cy="228.07" r="2.9" fill="#e3232b" stroke="none" stroke-width="0"/>
<circle cx="607.21" cy="227.95" r="2.9" fill="#e3232b" stroke="none" stroke-width="0"/>
<circle cx="607.84" cy="227.83" r="2.9" fill="#e3232b" stroke="none" stroke-width="0"/>
<circle cx="608.47" cy="227.71" r="2.9" fill="#e3232b" stroke="none" stroke-width="0"/>
<circle cx="609.10" cy="227.59" r="2.9" fill="#e3232b" stroke="none" stroke-width="0"/>
<circle cx="609.73" cy="227.48" r="2.9" fill="#e3232b" stroke="none" stroke-width="0"/>
<circle cx="610.36" cy="227.36" r="2.9" fill="#e3232b" stroke="none" stroke-width="0"/>
<circle cx="610.99" cy="227.25" r="2.9" fill="#e3232b" stroke="none" stroke-width="0"/>
<circle cx="611.62" cy="227.13" r="2.9" fill="#e3232b" stroke="none" stroke-width="0"/>
<circle cx="612.25" cy="227.02" r="2.9" fill="#e3232b" stroke="none" stroke-width="0"/>
<circle cx="612.88" cy="226.90" r="2.9" fill="#e3232b" stroke="none" stroke-width="0"/>
<circle cx="613.51" cy="226.79" r="2.9" fill="#e3232b" stroke="none" stroke-width="0"/>
<circle cx="614.14" cy="226.68" r="2.9" fill="#e3232b" stroke="none" stroke-width="0"/>
<circle cx="614.77" cy="226.57" r="2.9" fill="#e3232b" stroke="none" stroke-width="0"/>
<circle cx="615.40" cy="226.46" r="2.9" fill="#e3232b" stroke="none" stroke-width="0"/>
<circle cx="616.03" cy="226.35" r="2.9" fill="#e3232b" stroke="none" stroke-width="0"/>
<circle cx="616.66" cy="226.24" r="2.9" fill="#e3232b" stroke="none" stroke-width="0"/>
<circle cx="617.29" cy="226.13" r="2.9" fill="#e3232b" stroke="none" stroke-width="0"/>
<circle cx="617.92" cy="226.02" r="2.9" fill="#e3232b" stroke="none" stroke-width="0"/>
<circle cx="618.55" cy="225.92" r="2.9" fill="#e3232b" stroke="none" stroke-width="0"/>
<circle cx="619.19" cy="225.81" r="2.9" fill="#e3232b" stroke="none" stroke-width="0"/>
<circle cx="619.82" cy="225.71" r="2.9" fill="#e3232b" stroke="none" stroke-width="0"/>
<circle cx="620.45" cy="225.60" r="2.9" fill="#e3232b" stroke="none" stroke-width="0"/>
<circle cx="621.08" cy="225.50" r="2.9" fill="#e3232b" stroke="none" stroke-width="0"/>
<circle cx="621.71" cy="225.40" r="2.9" fill="#e3232b" stroke="none" stroke-width="0"/>
<circle cx="622.34" cy="225.29" r="2.9" fill="#e3232b" stroke="none" stroke-width="0"/>
<circle cx="622.97" cy="225.19" r="2.9" fill="#e3232b" stroke="none" stroke-width="0"/>
<circle cx="623.60" cy="225.09" r="2.9" fill="#e3232b" stroke="none" stroke-width="0"/>
<circle cx="624.23" cy="224.99" r="2.9" fill="#e3232b" stroke="none" stroke-width="0"/>
<circle cx="624.86" cy="224.89" r="2.9" fill="#e3232b" stroke="none" stroke-width="0"/>
<circle cx="625.49" cy="224.79" r="2.9" fill="#e3232b" stroke="none" stroke-width="0"/>
<circle cx="626.12" cy="224.69" r="2.9" fill="#e3232b" stroke="none" stroke-width="0"/>
<circle cx="626.75" cy="224.59" r="2.9" fill="#e3232b" stroke="none" stroke-width="0"/>
<circle cx="627.38" cy="224.50" r="2.9" fill="#e3232b" stroke="none" stroke-width="0"/>
<circle cx="628.01" cy="224.40" r="2.9" fill="#e3232b" stroke="none" stroke-width="0"/>
<circle cx="628.64" cy="224.30" r="2.9" fill="#e3232b" stroke="none" stroke-width="0"/>
<circle cx="629.27" cy="224.21" r="2.9" fill="#e3232b" stroke="none" stroke-width="0"/>
<circle cx="629.90" cy="224.11" r="2.9" fill="#e3232b" stroke="none" stroke-width="0"/>
<circle cx="630.53" cy="224.02" r="2.9" fill="#e3232b" stroke="none" stroke-width="0"/>
<circle cx="631.16" cy="223.93" r="2.9" fill="#e3232b" stroke="none" stroke-width="0"/>
<circle cx="631.79" cy="223.83" r="2.9" fill="#e3232b" stroke="none" stroke-width="0"/>
<circle cx="632.42" cy="223.74" r="2.9" fill="#e3232b" stroke="none" stroke-width="0"/>
<circle cx="633.05" cy="223.65" r="2.9" fill="#e3232b" stroke="none" stroke-width="0"/>
<circle cx="633.68" cy="223.56" r="2.9" fill="#e3232b" stroke="none" stroke-width="0"/>
<circle cx="634.31" cy="223.47" r="2.9" fill="#e3232b" stroke="none" stroke-width="0"/>
<circle cx="634.95" cy="223.37" r="2.9" fill="#e3232b" stroke="none" stroke-width="0"/>
<circle cx="635.58" cy="223.28" r="2.9" fill="#e3232b" stroke="none" stroke-width="0"/>
<circle cx="636.21" cy="223.20" r="2.9" fill="#e3232b" stroke="none" stroke-width="0"/>
<circle cx="636.84" cy="223.11" r="2.9" fill="#e3232b" stroke="none" stroke-width="0"/>
<circle cx="637.47" cy="223.02" r="2.9" fill="#e3232b" stroke="none" stroke-width="0"/>
<circle cx="638.10" cy="222.93" r="2.9" fill="#e3232b" stroke="none" stroke-width="0"/>
<circle cx="638.73" cy="222.84" r="2.9" fill="#e3232b" stroke="none" stroke-width="0"/>
<circle cx="639.36" cy="222.76" r="2.9" fill="#e3232b" stroke="none" stroke-width="0"/>
<circle cx="639.99" cy="222.67" r="2.9" fill="#e3232b" stroke="none" stroke-width="0"/>
<circle cx="640.62" cy="222.59" r="2.9" fill="#e3232b" stroke="none" stroke-width="0"/>
<circle cx="641.25" cy="222.50" r="2.9" fill="#e3232b" stroke="none" stroke-width="0"/>
<circle cx="641.88" cy="222.42" r="2.9" fill="#e3232b" stroke="none" stroke-width="0"/>
<circle cx="642.51" cy="222.33" r="2.9" fill="#e3232b" stroke="none" stroke-width="0"/>
<circle cx="643.14" cy="222.25" r="2.9" fill="#e3232b" stroke="none" stroke-width="0"/>
<circle cx="643.77" cy="222.16" r="2.9" fill="#e3232b" stroke="none" stroke-width="0"/>
<circle cx="644.40" cy="222.08" r="2.9" fill="#e3232b" stroke="none" stroke-width="0"/>
<circle cx="645.03" cy="222.00" r="2.9" fill="#e3232b" stroke="none" stroke-width="0"/>
<circle cx="645.66" cy="221.92" r="2.9" fill="#e3232b" stroke="none" stroke-width="0"/>
<circle cx="646.29" cy="221.84" r="2.9" fill="#e3232b" stroke="none" stroke-width="0"/>
<circle cx="646.92" cy="221.76" r="2.9" fill="#e3232b" stroke="none" stroke-width="0"/>
<circle cx="647.55" cy="221.68" r="2.9" fill="#e3232b" stroke="none" stroke-width="0"/>
<circle cx="648.18" cy="221.60" r="2.9" fill="#e3232b" stroke="none" stroke-width="0"/>
<circle cx="648.81" cy="221.52" r="2.9" fill="#e3232b" stroke="none" stroke-width="0"/>
<circle cx="649.44" cy="221.44" r="2.9" fill="#e3232b" stroke="none" stroke-width="0"/>
<circle cx="650.07" cy="221.36" r="2.9" fill="#e3232b" stroke="none" stroke-width="0"/>
<circle cx="650.71" cy="221.28" r="2.9" fill="#e3232b" stroke="none" stroke-width="0"/>
<circle cx="651.34" cy="221.20" r="2.9" fill="#e3232b" stroke="none" stroke-width="0"/>
<circle cx="651.97" cy="221.13" r="2.9" fill="#e3232b" stroke="none" stroke-width="0"/>
<circle cx="652.60" cy="221.05" r="2.9" fill="#e3232b" stroke="none" stroke-width="0"/>
<circle cx="653.23" cy="220.97" r="2.9" fill="#e3232b" stroke="none" stroke-width="0"/>
<circle cx="653.86" cy="220.90" r="2.9" fill="#e3232b" stroke="none" stroke-width="0"/>
<circle cx="654.49" cy="220.82" r="2.9" fill="#e3232b" stroke="none" stroke-width="0"/>
<circle cx="655.12" cy="220.75" r="2.9" fill="#e3232b" stroke="none" stroke-width="0"/>
<circle cx="655.75" cy="220.67" r="2.9" fill="#e3232b" stroke="none" stroke-width="0"/>
<rect x="512" y="354.5" width="154.20" height="41.80" fill="#fff" stroke="#3a3a3a" stroke-width="1"/>
<circle cx="520.00" cy="368.20" r="2.1" fill="#e3232b" stroke="none" stroke-width="0"/>
<text x="526.10" y="371.10" font-size="8.2" text-anchor="start" font-weight="normal" font-style="normal" fill="#231f20" >ME-Model hyperbolic translation rate</text>
<line x1="516.80" y1="382.30" x2="523.40" y2="382.30" stroke="#f3a22a" stroke-width="3" />
<text x="526.10" y="385.20" font-size="8.2" text-anchor="start" font-weight="normal" font-style="normal" fill="#231f20" >Constant translation rate</text>
<rect x="74.40" y="491.40" width="200.60" height="200.20" stroke="#3a3a3a" stroke-width="1" fill="none"/>
<line x1="69.60" y1="669.60" x2="74.40" y2="669.60" stroke="#3a3a3a" stroke-width="1" />
<text x="65.60" y="674.10" font-size="12.75" text-anchor="end" font-weight="normal" font-style="normal" fill="#231f20" >0</text>
<line x1="69.60" y1="642.32" x2="74.40" y2="642.32" stroke="#3a3a3a" stroke-width="1" />
<text x="65.60" y="646.82" font-size="12.75" text-anchor="end" font-weight="normal" font-style="normal" fill="#231f20" >50</text>
<line x1="69.60" y1="615.03" x2="74.40" y2="615.03" stroke="#3a3a3a" stroke-width="1" />
<text x="65.60" y="619.53" font-size="12.75" text-anchor="end" font-weight="normal" font-style="normal" fill="#231f20" >100</text>
<line x1="69.60" y1="587.75" x2="74.40" y2="587.75" stroke="#3a3a3a" stroke-width="1" />
<text x="65.60" y="592.25" font-size="12.75" text-anchor="end" font-weight="normal" font-style="normal" fill="#231f20" >150</text>
<line x1="69.60" y1="560.46" x2="74.40" y2="560.46" stroke="#3a3a3a" stroke-width="1" />
<text x="65.60" y="564.96" font-size="12.75" text-anchor="end" font-weight="normal" font-style="normal" fill="#231f20" >200</text>
<line x1="69.60" y1="533.18" x2="74.40" y2="533.18" stroke="#3a3a3a" stroke-width="1" />
<text x="65.60" y="537.68" font-size="12.75" text-anchor="end" font-weight="normal" font-style="normal" fill="#231f20" >250</text>
<line x1="69.60" y1="505.89" x2="74.40" y2="505.89" stroke="#3a3a3a" stroke-width="1" />
<text x="65.60" y="510.39" font-size="12.75" text-anchor="end" font-weight="normal" font-style="normal" fill="#231f20" >300</text>
<line x1="77.50" y1="691.60" x2="77.50" y2="697.90" stroke="#3a3a3a" stroke-width="1" />
<text x="77.50" y="711.80" font-size="12.75" text-anchor="middle" font-weight="normal" font-style="normal" fill="#231f20" >0.0</text>
<line x1="127.70" y1="691.60" x2="127.70" y2="697.90" stroke="#3a3a3a" stroke-width="1" />
<text x="127.70" y="711.80" font-size="12.75" text-anchor="middle" font-weight="normal" font-style="normal" fill="#231f20" >0.2</text>
<line x1="177.90" y1="691.60" x2="177.90" y2="697.90" stroke="#3a3a3a" stroke-width="1" />
<text x="177.90" y="711.80" font-size="12.75" text-anchor="middle" font-weight="normal" font-style="normal" fill="#231f20" >0.4</text>
<line x1="228.10" y1="691.60" x2="228.10" y2="697.90" stroke="#3a3a3a" stroke-width="1" />
<text x="228.10" y="711.80" font-size="12.75" text-anchor="middle" font-weight="normal" font-style="normal" fill="#231f20" >0.6</text>
<text x="175.10" y="731.40" font-size="12.95" text-anchor="middle" font-weight="normal" font-style="normal" fill="#231f20" >Growth rate, <tspan font-family="Liberation Serif">μ</tspan> (h<tspan dy="-4.92" font-size="9.32">−1</tspan><tspan dy="4.92">​</tspan>)</text>
<text x="0.00" y="0.00" font-size="12.9" text-anchor="middle" font-weight="normal" font-style="normal" fill="#231f20" transform="translate(33.6,598) rotate(-90)">Glucose flux (nmol gDW<tspan dy="-4.90" font-size="9.29">−1</tspan><tspan dy="4.90">​</tspan> min<tspan dy="-4.90" font-size="9.29">−1</tspan><tspan dy="4.90">​</tspan>)</text>
<line x1="105.10" y1="524.80" x2="252.40" y2="603.60" stroke="#111" stroke-width="1.1" />
<line x1="97.30" y1="660.70" x2="252.40" y2="603.60" stroke="#111" stroke-width="1.1" />
<path d="M103.60,511.50L106.30,516.10L100.90,516.10Z" fill="#e3232b"/>
<path d="M103.60,520.70L106.30,525.30L100.90,525.30Z" fill="#e3232b"/>
<path d="M103.60,526.50L106.30,531.10L100.90,531.10Z" fill="#e3232b"/>
<path d="M103.60,532.30L106.30,536.90L100.90,536.90Z" fill="#e3232b"/>
<path d="M113.90,522.60L116.60,527.20L111.20,527.20Z" fill="#e3232b"/>
<path d="M149.40,547.90L152.10,552.50L146.70,552.50Z" fill="#e3232b"/>
<path d="M148.80,556.20L151.50,560.80L146.10,560.80Z" fill="#e3232b"/>
<path d="M172.70,559.00L175.40,563.60L170.00,563.60Z" fill="#e3232b"/>
<path d="M202.10,564.00L204.80,568.60L199.40,568.60Z" fill="#e3232b"/>
<path d="M207.40,563.40L210.10,568.00L204.70,568.00Z" fill="#e3232b"/>
<path d="M225.20,586.10L227.90,590.70L222.50,590.70Z" fill="#e3232b"/>
<path d="M235.00,594.70L237.70,599.30L232.30,599.30Z" fill="#e3232b"/>
<path d="M253.10,605.00L255.80,609.60L250.40,609.60Z" fill="#e3232b"/>
<path d="M97.30,658.40L100.00,663.00L94.60,663.00Z" fill="#2f4ea3"/>
<path d="M107.30,654.70L110.00,659.30L104.60,659.30Z" fill="#2f4ea3"/>
<path d="M145.00,640.20L147.70,644.80L142.30,644.80Z" fill="#2f4ea3"/>
<path d="M166.80,632.80L169.50,637.40L164.10,637.40Z" fill="#2f4ea3"/>
<path d="M195.70,621.80L198.40,626.40L193.00,626.40Z" fill="#2f4ea3"/>
<path d="M201.00,619.40L203.70,624.00L198.30,624.00Z" fill="#2f4ea3"/>
<path d="M220.50,615.00L223.20,619.60L217.80,619.60Z" fill="#2f4ea3"/>
<path d="M233.60,610.30L236.30,614.90L230.90,614.90Z" fill="#2f4ea3"/>
<path d="M252.40,603.00L255.10,607.60L249.70,607.60Z" fill="#2f4ea3"/>
<rect x="117.5" y="491.4" width="157.50" height="31.60" fill="#fff" stroke="#3a3a3a" stroke-width="1"/>
<path d="M125.50,499.10L128.20,503.70L122.80,503.70Z" fill="#e3232b"/>
<text x="134.70" y="504.30" font-size="8.2" text-anchor="start" font-weight="normal" font-style="normal" fill="#231f20" >PTS activity (maximal rate)</text>
<path d="M125.50,510.20L128.20,514.80L122.80,514.80Z" fill="#2f4ea3"/>
<text x="134.70" y="515.40" font-size="8.2" text-anchor="start" font-weight="normal" font-style="normal" fill="#231f20" >Glucose uptake rate (effective rate)</text>
<rect x="460.10" y="493.10" width="200.20" height="200.80" stroke="#3a3a3a" stroke-width="1" fill="none"/>
<line x1="455.40" y1="681.40" x2="460.10" y2="681.40" stroke="#3a3a3a" stroke-width="1" />
<text x="450.60" y="685.90" font-size="12.75" text-anchor="end" font-weight="normal" font-style="normal" fill="#231f20" >0.0</text>
<line x1="472.00" y1="693.90" x2="472.00" y2="700.20" stroke="#3a3a3a" stroke-width="1" />
<text x="472.00" y="715.50" font-size="12.75" text-anchor="middle" font-weight="normal" font-style="normal" fill="#231f20" >0.0</text>
<line x1="455.40" y1="646.20" x2="460.10" y2="646.20" stroke="#3a3a3a" stroke-width="1" />
<text x="450.60" y="650.70" font-size="12.75" text-anchor="end" font-weight="normal" font-style="normal" fill="#231f20" >0.2</text>
<line x1="505.12" y1="693.90" x2="505.12" y2="700.20" stroke="#3a3a3a" stroke-width="1" />
<text x="505.12" y="715.50" font-size="12.75" text-anchor="middle" font-weight="normal" font-style="normal" fill="#231f20" >0.2</text>
<line x1="455.40" y1="611.00" x2="460.10" y2="611.00" stroke="#3a3a3a" stroke-width="1" />
<text x="450.60" y="615.50" font-size="12.75" text-anchor="end" font-weight="normal" font-style="normal" fill="#231f20" >0.4</text>
<line x1="538.24" y1="693.90" x2="538.24" y2="700.20" stroke="#3a3a3a" stroke-width="1" />
<text x="538.24" y="715.50" font-size="12.75" text-anchor="middle" font-weight="normal" font-style="normal" fill="#231f20" >0.4</text>
<line x1="455.40" y1="575.80" x2="460.10" y2="575.80" stroke="#3a3a3a" stroke-width="1" />
<text x="450.60" y="580.30" font-size="12.75" text-anchor="end" font-weight="normal" font-style="normal" fill="#231f20" >0.6</text>
<line x1="571.36" y1="693.90" x2="571.36" y2="700.20" stroke="#3a3a3a" stroke-width="1" />
<text x="571.36" y="715.50" font-size="12.75" text-anchor="middle" font-weight="normal" font-style="normal" fill="#231f20" >0.6</text>
<line x1="455.40" y1="540.60" x2="460.10" y2="540.60" stroke="#3a3a3a" stroke-width="1" />
<text x="450.60" y="545.10" font-size="12.75" text-anchor="end" font-weight="normal" font-style="normal" fill="#231f20" >0.8</text>
<line x1="604.48" y1="693.90" x2="604.48" y2="700.20" stroke="#3a3a3a" stroke-width="1" />
<text x="604.48" y="715.50" font-size="12.75" text-anchor="middle" font-weight="normal" font-style="normal" fill="#231f20" >0.8</text>
<line x1="455.40" y1="505.40" x2="460.10" y2="505.40" stroke="#3a3a3a" stroke-width="1" />
<text x="450.60" y="509.90" font-size="12.75" text-anchor="end" font-weight="normal" font-style="normal" fill="#231f20" >1.0</text>
<line x1="637.60" y1="693.90" x2="637.60" y2="700.20" stroke="#3a3a3a" stroke-width="1" />
<text x="637.60" y="715.50" font-size="12.75" text-anchor="middle" font-weight="normal" font-style="normal" fill="#231f20" >1.0</text>
<line x1="464.20" y1="493.10" x2="464.20" y2="487.10" stroke="#3a3a3a" stroke-width="1" />
<text x="464.20" y="483.00" font-size="12.75" text-anchor="middle" font-weight="normal" font-style="normal" fill="#231f20" >0</text>
<line x1="513.60" y1="493.10" x2="513.60" y2="487.10" stroke="#3a3a3a" stroke-width="1" />
<text x="513.60" y="483.00" font-size="12.75" text-anchor="middle" font-weight="normal" font-style="normal" fill="#231f20" >0.2</text>
<line x1="563.00" y1="493.10" x2="563.00" y2="487.10" stroke="#3a3a3a" stroke-width="1" />
<text x="563.00" y="483.00" font-size="12.75" text-anchor="middle" font-weight="normal" font-style="normal" fill="#231f20" >0.4</text>
<line x1="612.40" y1="493.10" x2="612.40" y2="487.10" stroke="#3a3a3a" stroke-width="1" />
<text x="612.40" y="483.00" font-size="12.75" text-anchor="middle" font-weight="normal" font-style="normal" fill="#231f20" >0.6</text>
<line x1="637.10" y1="493.10" x2="637.10" y2="487.10" stroke="#3a3a3a" stroke-width="1" />
<text x="637.10" y="483.00" font-size="12.75" text-anchor="middle" font-weight="normal" font-style="normal" fill="#231f20" >0.7</text>
<text x="559.80" y="463.70" font-size="12.95" text-anchor="middle" font-weight="normal" font-style="normal" fill="#231f20" >Experimental growth rate, <tspan font-family="Liberation Serif">μ</tspan> (h<tspan dy="-4.92" font-size="9.32">−1</tspan><tspan dy="4.92">​</tspan>)</text>
<text x="559.90" y="734.10" font-size="12.95" text-anchor="middle" font-weight="normal" font-style="normal" fill="#231f20" >ME-Model growth rate, <tspan font-family="Liberation Serif">μ</tspan> (h<tspan dy="-4.92" font-size="9.32">−1</tspan><tspan dy="4.92">​</tspan>)</text>
<text x="0.00" y="0.00" font-size="13.0" text-anchor="middle" font-weight="normal" font-style="normal" fill="#231f20" transform="translate(410.4,610) rotate(-90)">Fractional enzyme saturation</text>
<g transform="translate(408.6,512.5) rotate(-90)">
<text x="-1.4" y="-5.7" font-size="12.75" fill="#231f20" text-anchor="middle"><tspan font-style="italic">k</tspan><tspan font-size="9.0" dy="3.3">eff</tspan></text>
<line x1="-11.5" y1="-0.2" x2="10.7" y2="-0.2" stroke="#231f20" stroke-width="0.9"/>
<text x="-0.3" y="11.4" font-size="12.75" fill="#231f20" text-anchor="middle"><tspan font-style="italic">k</tspan><tspan font-size="9.0" dy="3.3">cat</tspan></text>
<path d="M-11.7,-15.2 C-13.7,-9 -13.7,8.4 -11.7,14.7 M13.5,-15.2 C15.5,-9 15.5,8.4 13.5,14.7" fill="none" stroke="#231f20" stroke-width="0.95"/>
</g>
<path d="M482.60,668.95 L485.23,668.17 L487.87,667.28 L490.50,666.29 L493.14,665.21 L495.77,664.04 L498.40,662.79 L501.04,661.46 L503.67,660.07 L506.31,658.62 L508.94,657.11 L511.57,655.55 L514.21,653.94 L516.84,652.29 L519.47,650.59 L522.11,648.86 L524.74,647.10 L527.38,645.31 L530.01,643.48 L532.64,641.63 L535.28,639.75 L537.91,637.85 L540.55,635.92 L543.18,633.97 L545.81,631.98 L548.45,629.98 L551.08,627.94 L553.72,625.88 L556.35,623.78 L558.98,621.65 L561.62,619.48 L564.25,617.27 L566.88,615.02 L569.52,612.72 L572.15,610.37 L574.79,607.96 L577.42,605.49 L580.05,602.96 L582.69,600.35 L585.32,597.65 L587.96,594.88 L590.59,592.00 L593.22,589.03 L595.86,585.94 L598.49,582.74 L601.13,579.41 L603.76,575.95 L606.39,572.33 L609.03,568.56 L611.66,564.63 L614.29,560.52 L616.93,556.22 L619.56,551.72 L622.20,547.00 L624.83,542.07 L627.46,536.89 L630.10,531.47 L632.73,525.78 L635.37,519.81 L638.00,513.55" fill="none" stroke="#111" stroke-width="2.4" stroke-linejoin="round"/>
<circle cx="482.60" cy="669.30" r="2.4" fill="#e3232b" stroke="none" stroke-width="0"/>
<circle cx="493.30" cy="661.70" r="2.4" fill="#e3232b" stroke="none" stroke-width="0"/>
<circle cx="504.00" cy="653.10" r="2.4" fill="#e3232b" stroke="none" stroke-width="0"/>
<circle cx="514.80" cy="644.20" r="2.4" fill="#e3232b" stroke="none" stroke-width="0"/>
<circle cx="536.20" cy="625.80" r="2.4" fill="#e3232b" stroke="none" stroke-width="0"/>
<circle cx="547.00" cy="616.00" r="2.4" fill="#e3232b" stroke="none" stroke-width="0"/>
<circle cx="558.30" cy="605.60" r="2.4" fill="#e3232b" stroke="none" stroke-width="0"/>
<circle cx="569.30" cy="595.20" r="2.4" fill="#e3232b" stroke="none" stroke-width="0"/>
<circle cx="592.00" cy="572.20" r="2.4" fill="#e3232b" stroke="none" stroke-width="0"/>
<circle cx="603.40" cy="559.90" r="2.4" fill="#e3232b" stroke="none" stroke-width="0"/>
<circle cx="626.40" cy="532.30" r="2.4" fill="#e3232b" stroke="none" stroke-width="0"/>
<circle cx="638.00" cy="514.20" r="2.4" fill="#e3232b" stroke="none" stroke-width="0"/>
<rect x="578.5" y="663.2" width="81.80" height="30.70" fill="#fff" stroke="#3a3a3a" stroke-width="1"/>
<line x1="580.70" y1="674.00" x2="596.60" y2="674.00" stroke="#111" stroke-width="2.4" />
<text x="600.00" y="677.30" font-size="9.2" text-anchor="start" font-weight="normal" font-style="normal" fill="#231f20" >Experimental</text>
<circle cx="589.00" cy="684.40" r="2.2" fill="#e3232b" stroke="none" stroke-width="0"/>
<text x="600.00" y="687.70" font-size="9.2" text-anchor="start" font-weight="normal" font-style="normal" fill="#231f20" >ME-Model</text>
<path d="M296.8,303.3 L318.2,291.2 L318.2,300.7 L353.3,300.7 L353.3,291.2 L374.6,303.3 L353.3,315.40000000000003 L353.3,305.90000000000003 L318.2,305.90000000000003 L318.2,315.40000000000003 Z" fill="#000"/>
<path d="M296.8,604.3 L318.2,592.1999999999999 L318.2,601.6999999999999 L353.3,601.6999999999999 L353.3,592.1999999999999 L374.6,604.3 L353.3,616.4 L353.3,606.9 L318.2,606.9 L318.2,616.4 Z" fill="#000"/>
<text x="148.40" y="39.30" font-size="12.75" text-anchor="middle" font-weight="normal" font-style="normal" fill="#231f20" >Growth rate-dependent</text>
<text x="148.40" y="54.40" font-size="12.75" text-anchor="middle" font-weight="normal" font-style="normal" fill="#231f20" >demand functions</text>
<text x="148.40" y="76.50" font-size="12.75" text-anchor="middle" font-weight="normal" font-style="normal" fill="#231f20" >1. Cell wall demand (<tspan font-family="Liberation Serif">μ</tspan>)</text>
<text x="148.40" y="94.60" font-size="12.75" text-anchor="middle" font-weight="normal" font-style="normal" fill="#231f20" >2. DNA demand (<tspan font-family="Liberation Serif">μ</tspan>)</text>
<text x="148.40" y="113.00" font-size="12.75" text-anchor="middle" font-weight="normal" font-style="normal" fill="#231f20" >3. ATP demand (<tspan font-family="Liberation Serif">μ</tspan>)</text>
<path d="M102.10,171.70 C102.42,168.70 103.90,162.05 105.40,158.50 C106.90,154.95 108.72,152.47 111.10,150.40 C113.48,148.33 116.53,147.13 119.70,146.10 C122.87,145.07 126.63,144.35 130.10,144.20 C133.57,144.05 137.18,144.80 140.50,145.20 C143.82,145.60 146.05,146.65 150.00,146.60 C153.95,146.55 159.45,145.97 164.20,144.90 C168.95,143.83 174.53,141.30 178.50,140.20 C182.47,139.10 185.32,138.53 188.00,138.30 C190.68,138.07 192.72,138.25 194.60,138.80 C196.48,139.35 198.03,140.10 199.30,141.60 C200.57,143.10 201.63,145.67 202.20,147.80 C202.77,149.93 203.02,152.18 202.70,154.40 C202.38,156.62 201.65,159.37 200.30,161.10 C198.95,162.83 196.97,163.87 194.60,164.80 C192.23,165.73 189.58,165.90 186.10,166.70 C182.62,167.50 178.05,168.63 173.70,169.60 C169.35,170.57 164.28,171.52 160.00,172.50 C155.72,173.48 152.50,174.37 148.00,175.50 C143.50,176.63 137.88,178.35 133.00,179.30 C128.12,180.25 122.67,181.12 118.70,181.20 C114.73,181.28 111.73,180.58 109.20,179.80 C106.67,179.02 104.68,177.85 103.50,176.50 C102.32,175.15 101.78,174.70 102.10,171.70Z" fill="#fff" stroke="#000" stroke-width="2.9"/>
<path d="M109.40,169.80 C108.93,167.63 109.32,164.78 110.40,162.30 C111.48,159.82 113.40,156.70 115.90,154.90 C118.40,153.10 121.77,152.22 125.40,151.50 C129.03,150.78 133.28,150.62 137.70,150.60 C142.12,150.58 147.48,151.32 151.90,151.40 C156.32,151.48 159.77,151.95 164.20,151.10 C168.63,150.25 174.27,147.85 178.50,146.30 C182.73,144.75 187.08,142.42 189.60,141.80 C192.12,141.18 192.48,141.77 193.60,142.60 C194.72,143.43 195.70,145.02 196.30,146.80 C196.90,148.58 197.52,151.43 197.20,153.30 C196.88,155.17 196.73,156.72 194.40,158.00 C192.07,159.28 187.43,160.02 183.20,161.00 C178.97,161.98 174.22,162.77 169.00,163.90 C163.78,165.03 157.12,166.53 151.90,167.80 C146.68,169.07 142.43,170.42 137.70,171.50 C132.97,172.58 127.58,173.67 123.50,174.30 C119.42,174.93 115.55,176.05 113.20,175.30 C110.85,174.55 109.87,171.97 109.40,169.80Z" fill="#fff" stroke="#000" stroke-width="2.3" stroke-linejoin="round"/>
<line x1="106.9" y1="144.7" x2="112.2" y2="148.2" stroke="#000" stroke-width="2.1" stroke-linecap="round"/>
<line x1="130.6" y1="137.1" x2="129.4" y2="143.8" stroke="#000" stroke-width="2.1" stroke-linecap="round"/>
<line x1="151.2" y1="139.5" x2="150.1" y2="146.1" stroke="#000" stroke-width="2.1" stroke-linecap="round"/>
<line x1="164.7" y1="138.3" x2="164.2" y2="145.2" stroke="#000" stroke-width="2.1" stroke-linecap="round"/>
<line x1="182.3" y1="131.2" x2="181.8" y2="139.3" stroke="#000" stroke-width="2.1" stroke-linecap="round"/>
<line x1="199.3" y1="131.2" x2="196.5" y2="138.5" stroke="#000" stroke-width="2.1" stroke-linecap="round"/>
<line x1="210.7" y1="144.5" x2="202.5" y2="148.7" stroke="#000" stroke-width="2.1" stroke-linecap="round"/>
<line x1="209.3" y1="162.0" x2="201.5" y2="160.1" stroke="#000" stroke-width="2.1" stroke-linecap="round"/>
<line x1="193.6" y1="172.4" x2="190.8" y2="166.2" stroke="#000" stroke-width="2.1" stroke-linecap="round"/>
<line x1="177.0" y1="176.2" x2="176.1" y2="169.4" stroke="#000" stroke-width="2.1" stroke-linecap="round"/>
<line x1="163.3" y1="179.6" x2="163.8" y2="172.0" stroke="#000" stroke-width="2.1" stroke-linecap="round"/>
<line x1="147.2" y1="182.2" x2="147.6" y2="176.0" stroke="#000" stroke-width="2.1" stroke-linecap="round"/>
<line x1="131.5" y1="186.0" x2="133.0" y2="179.5" stroke="#000" stroke-width="2.1" stroke-linecap="round"/>
<line x1="115.9" y1="189.3" x2="118.5" y2="181.5" stroke="#000" stroke-width="2.1" stroke-linecap="round"/>
<line x1="104.5" y1="185.5" x2="106.9" y2="179.8" stroke="#000" stroke-width="2.1" stroke-linecap="round"/>
<line x1="95.0" y1="174.1" x2="101.8" y2="168.9" stroke="#000" stroke-width="2.1" stroke-linecap="round"/>
<path d="M116.0,167.0 C112.6,167.2 112.4,162.4 116.0,162.2 C119.4,162.0 119.6,166.2 116.8,166.6 C121.5,167.0 126.5,164.6 131.0,161.8 C134.2,159.6 136.0,156.0 139.8,155.8 C143.4,155.6 143.2,160.6 146.4,160.8 C149.2,161.0 148.6,156.6 152.0,156.8 C155.4,157.0 154.2,161.6 157.6,161.6 C160.6,161.6 160.0,157.4 163.0,158.0 C166.0,158.8 165.0,162.6 161.6,162.8 C158.6,163.0 156.0,161.0 153.6,162.6" fill="none" stroke="#3f7c3d" stroke-width="5.0" stroke-linecap="round" stroke-linejoin="round"/>
<path d="M114.6,164.8 C114.4,163.4 116.0,162.9 117.0,163.6 M140.4,157.2 C141.8,157.4 142.4,158.6 142.8,159.6 M151.8,158.4 C153.2,158.6 153.6,159.8 153.8,160.6 M161.8,159.4 C163.0,159.6 163.4,160.6 163.2,161.4" fill="none" stroke="#a9d4a5" stroke-width="0.9" stroke-linecap="round"/>
<line x1="504.00" y1="107.00" x2="504.00" y2="68.30" stroke="#2d1e66" stroke-width="6.0" stroke-linecap="round"/>
<path d="M504.00,58.08 L510.30,68.50 L497.70,68.50 Z" fill="#2d1e66" stroke="#2d1e66" stroke-width="3.0" stroke-linejoin="round"/>
<line x1="452.10" y1="80.40" x2="479.46" y2="108.75" stroke="#2d1e66" stroke-width="5.8" stroke-linecap="round"/>
<path d="M486.56,116.10 L474.64,113.12 L484.00,104.09 Z" fill="#2d1e66" stroke="#2d1e66" stroke-width="3.0" stroke-linejoin="round"/>
<line x1="527.40" y1="114.60" x2="584.95" y2="98.51" stroke="#2d1e66" stroke-width="5.6" stroke-linecap="round"/>
<path d="M594.80,95.76 L586.35,104.25 L583.17,92.88 Z" fill="#2d1e66" stroke="#2d1e66" stroke-width="3.0" stroke-linejoin="round"/>
<ellipse cx="501.9" cy="45.0" rx="4.9" ry="5.4" fill="none" stroke="#231f20" stroke-width="1.7"/><line x1="496.0" y1="51.0" x2="507.8" y2="38.6" stroke="#231f20" stroke-width="1.2"/>
<defs><radialGradient id="eg" cx="0.5" cy="0.42" r="0.6"><stop offset="0" stop-color="#fde3b5"/><stop offset="0.55" stop-color="#f8c47a"/><stop offset="1" stop-color="#f1a43f"/></radialGradient></defs>
<path d="M486.40,138.50 C485.22,137.03 485.10,134.62 485.90,132.60 C486.70,130.58 489.92,128.67 491.20,126.40 C492.48,124.13 492.33,120.77 493.60,119.00 C494.87,117.23 495.98,116.33 498.80,115.80 C501.62,115.27 507.10,114.93 510.50,115.80 C513.90,116.67 516.90,119.05 519.20,121.00 C521.50,122.95 523.12,125.17 524.30,127.50 C525.48,129.83 526.42,133.08 526.30,135.00 C526.18,136.92 525.27,138.42 523.60,139.00 C521.93,139.58 518.67,138.43 516.30,138.50 C513.93,138.57 511.32,138.78 509.40,139.40 C507.48,140.02 506.53,142.10 504.80,142.20 C503.07,142.30 500.97,140.13 499.00,140.00 C497.03,139.87 495.10,141.65 493.00,141.40 C490.90,141.15 487.58,139.97 486.40,138.50Z" fill="url(#eg)" stroke="#1a1209" stroke-width="1.5"/>
<text x="504.30" y="134.60" font-size="12.4" text-anchor="middle" font-weight="normal" font-style="normal" fill="#2a2218" >E</text>
<path d="M471.2,166.8 L488.4,146.0 M484.6,166.6 L491.2,146.0" stroke="#2d1e66" stroke-width="5.0" stroke-linecap="round"/>
<line x1="476" y1="144.3" x2="531.5" y2="144.3" stroke="#2d1e66" stroke-width="5.0"/>
<path d="M530.2,139.8 L536.2,144.3 L530.2,148.8 Z" fill="#2d1e66" stroke="#2d1e66" stroke-width="1.2" stroke-linejoin="round"/>
<path d="M511.8,146 L514.4,161.5 M513.6,146 L523.9,161.6" stroke="#2d1e66" stroke-width="4.8" stroke-linecap="round"/>
<path d="M510.9,159.8 L515.4,166.2 L518.6,158.8 Z M520.6,159.9 L526.6,166.0 L526.6,157.6 Z" fill="#2d1e66" stroke="#2d1e66" stroke-width="1" stroke-linejoin="round"/>
<circle cx="469.60" cy="144.30" r="5.7" fill="#e4e4e4" stroke="#111" stroke-width="1.9"/>
<circle cx="541.90" cy="144.30" r="5.7" fill="#e4e4e4" stroke="#111" stroke-width="1.9"/>
<circle cx="468.10" cy="170.60" r="3.8" fill="#fff" stroke="#111" stroke-width="2.0"/>
<circle cx="482.70" cy="170.60" r="3.8" fill="#fff" stroke="#111" stroke-width="2.0"/>
<circle cx="517.00" cy="170.60" r="3.8" fill="#fff" stroke="#111" stroke-width="2.0"/>
<circle cx="529.50" cy="170.60" r="3.8" fill="#fff" stroke="#111" stroke-width="2.0"/>
<text x="421.00" y="99.60" font-size="12.75" text-anchor="middle" font-weight="normal" font-style="normal" fill="#231f20" >Synthesis</text>
<text x="421.20" y="115.80" font-size="12.75" text-anchor="middle" font-weight="normal" font-style="normal" fill="#231f20" ><tspan font-family="Liberation Serif">μ</tspan> [<tspan font-style="italic">E</tspan>] + <tspan font-style="italic">k</tspan><tspan dy="3.82" font-size="9.44">deg</tspan><tspan dy="-3.82">​</tspan> [<tspan font-style="italic">E</tspan>]</text>
<text x="421.00" y="129.40" font-size="12.75" text-anchor="middle" font-weight="normal" font-style="normal" fill="#231f20" >(at steady state)</text>
<text x="533.00" y="81.70" font-size="12.75" text-anchor="middle" font-weight="normal" font-style="normal" fill="#231f20" >Dilution</text>
<text x="532.20" y="97.40" font-size="12.75" text-anchor="middle" font-weight="normal" font-style="normal" fill="#231f20" ><tspan font-family="Liberation Serif">μ</tspan> [<tspan font-style="italic">E</tspan><tspan dx="1">]</tspan></text>
<text x="598.10" y="120.50" font-size="12.75" text-anchor="middle" font-weight="normal" font-style="normal" fill="#231f20" >Degradation</text>
<text x="598.40" y="136.00" font-size="12.75" text-anchor="middle" font-weight="normal" font-style="normal" fill="#231f20" ><tspan font-style="italic">k</tspan><tspan dy="3.82" font-size="9.44">deg</tspan><tspan dy="-3.82">​</tspan> [<tspan font-style="italic">E</tspan>]</text>
<text x="548.60" y="163.60" font-size="12.75" text-anchor="start" font-weight="normal" font-style="normal" fill="#231f20" >Reaction catalyzed by E</text>
<text x="616.60" y="178.40" font-size="14.5" text-anchor="middle" font-weight="normal" font-style="normal" fill="#231f20" font-family="Liberation Serif">υ</text>
<text x="509.20" y="193.50" font-size="12.75" text-anchor="middle" font-weight="normal" font-style="normal" fill="#231f20" ><tspan font-family="Liberation Serif" font-size="14">υ</tspan> = <tspan font-style="italic">k</tspan><tspan dy="3.82" font-size="9.44">eff</tspan><tspan dy="-3.82">​</tspan> (<tspan font-family="Liberation Serif">μ</tspan>)[<tspan font-style="italic">E</tspan><tspan dx="0.8">]</tspan> ≤ <tspan font-style="italic">k</tspan><tspan dy="3.82" font-size="9.44">cat</tspan><tspan dy="-3.82">​</tspan> [<tspan font-style="italic">E</tspan><tspan dx="0.8">]</tspan></text>
<text x="562.30" y="42.40" font-size="12.8" text-anchor="middle" font-weight="normal" font-style="normal" fill="#231f20" >E</text>
<path d="M584.0,3.6 C579.6,3.6 578.6,6.5 578.6,12.0 L578.6,30.5 C578.6,34.6 577.4,36.4 573.6,37.0 C577.4,37.6 578.6,39.4 578.6,43.5 L578.6,62.0 C578.6,67.5 579.6,70.2 584.0,70.2" fill="none" stroke="#111" stroke-width="1.9" stroke-linejoin="round"/>
<text x="587.00" y="9.60" font-size="10.9" text-anchor="start" font-weight="normal" font-style="normal" fill="#231f20" >Enzymes</text>
<text x="587.00" y="21.68" font-size="10.9" text-anchor="start" font-weight="normal" font-style="normal" fill="#231f20" >tRNAs</text>
<text x="587.00" y="33.76" font-size="10.9" text-anchor="start" font-weight="normal" font-style="normal" fill="#231f20" >mRNAs</text>
<text x="587.00" y="45.84" font-size="10.9" text-anchor="start" font-weight="normal" font-style="normal" fill="#231f20" >RNAP</text>
<text x="587.00" y="57.92" font-size="10.9" text-anchor="start" font-weight="normal" font-style="normal" fill="#231f20" >Ribosome</text>
<text x="587.00" y="70.00" font-size="10.9" text-anchor="start" font-weight="normal" font-style="normal" fill="#231f20" >Other machinery</text>
<defs><radialGradient id="enzg" cx="0.48" cy="0.55" r="0.62"><stop offset="0" stop-color="#fde5c0"/><stop offset="0.6" stop-color="#f7cf93"/><stop offset="1" stop-color="#eeb061"/></radialGradient><radialGradient id="ribL" cx="0.55" cy="0.45" r="0.6"><stop offset="0" stop-color="#d4877b"/><stop offset="1" stop-color="#b4605d"/></radialGradient><radialGradient id="headg" cx="0.45" cy="0.4" r="0.6"><stop offset="0" stop-color="#fdf8cf"/><stop offset="1" stop-color="#f3e68c"/></radialGradient><radialGradient id="ribS" cx="0.5" cy="0.4" r="0.65"><stop offset="0" stop-color="#9a7596"/><stop offset="1" stop-color="#7f5d7b"/></radialGradient></defs>
<path d="M72.79,808.50 L72.23,809.22 L72.48,809.94 L73.39,810.66 L74.41,811.38 L74.92,812.11 L74.62,812.83 L73.69,813.55 L74.84,814.27 L74.39,814.99 L73.65,815.71 L73.14,816.43 L72.76,817.15 L72.62,817.87 L72.77,818.59 L73.17,819.32 L73.69,820.04 L74.17,820.76 L74.47,821.48 L74.50,822.20 L74.24,822.92 L73.79,823.64 M82.48,808.50 L82.04,809.22 L80.61,809.93 L79.36,810.65 L79.28,811.36 L80.44,812.08 L81.91,812.79 L80.29,813.51 L81.36,814.22 L81.80,814.94 L82.00,815.65 L81.72,816.37 L81.07,817.08 L80.32,817.80 L79.77,818.51 L79.66,819.23 L80.02,819.94 L80.70,820.66 L81.44,821.37 L81.92,822.09 M88.58,808.50 L87.97,809.21 L88.45,809.92 L89.72,810.63 L90.94,811.33 L91.32,812.04 L90.62,812.75 L89.29,813.46 L88.20,814.17 L88.04,814.88 L88.94,815.58 L88.45,816.29 L88.00,817.00 L88.09,817.71 L88.98,818.42 L89.62,819.13 L90.28,819.83 L90.72,820.54 L90.82,821.25 L90.53,821.96 L89.96,822.67 L89.28,823.38 L88.73,824.09 L88.48,824.79 L88.61,825.50 L89.08,826.21 L89.75,826.92 L90.38,827.63 L90.77,828.34 L90.80,829.04 L90.45,829.75 L89.84,830.46 M96.37,808.50 L96.57,809.22 L97.69,809.94 L99.03,810.65 L99.71,811.37 L99.31,812.09 L98.09,812.81 L99.40,813.52 L98.63,814.24 L97.77,814.96 L97.17,815.68 L96.85,816.40 L96.90,817.11 L97.31,817.83 L97.95,818.55 L98.61,819.27 L99.08,819.98 L99.21,820.70 L98.95,821.42 L98.39,822.14 L97.71,822.86 M73.39,840.80 L72.65,840.09 L71.41,839.38 L70.40,838.67 L70.22,837.96 L70.98,837.25 L72.23,836.54 L73.22,835.83 L73.37,835.12 L72.59,834.41 L73.22,833.70 L72.94,832.99 L72.75,832.28 L72.28,831.57 L71.66,830.86 L71.09,830.15 L70.73,829.44 L70.69,828.73 L70.98,828.02 L71.52,827.31 L72.14,826.60 L72.66,825.89 L72.93,825.18 L72.86,824.47 L72.47,823.76 M79.67,840.80 L80.51,840.10 L81.54,839.39 L82.23,838.69 L82.21,837.98 L81.49,837.28 L82.11,836.57 L81.58,835.87 L80.88,835.16 L80.38,834.46 L80.02,833.75 L79.88,833.05 L80.01,832.34 L80.38,831.64 L80.87,830.93 L81.37,830.23 L81.74,829.52 M89.40,840.80 L88.41,840.07 L87.61,839.35 L87.42,838.62 L87.94,837.90 L88.89,837.17 L89.79,836.44 L90.15,835.72 L89.79,834.99 L89.97,834.26 L90.15,833.54 L89.61,832.81 L89.27,832.09 L88.79,831.36 L88.31,830.63 L87.95,829.91 L87.81,829.18 L87.92,828.46 L88.25,827.73 L88.72,827.00 L89.21,826.28 L89.58,825.55 L89.74,824.83 L89.64,824.10 L89.32,823.37 M97.23,840.80 L96.98,840.08 L95.93,839.36 L95.04,838.64 L95.13,837.92 L96.11,837.20 L97.09,836.48 L97.17,835.77 L96.28,835.05 L95.23,834.33 L97.17,833.61 L96.61,832.89 L95.82,832.17 L95.44,831.45 L95.29,830.73 L95.52,830.01 L96.03,829.29 L96.57,828.57 L96.89,827.85 L96.85,827.13 L96.46,826.41 L95.90,825.70 L95.44,824.98 L95.29,824.26 L95.52,823.54 L96.02,822.82 L96.57,822.10 L96.89,821.38" fill="none" stroke="#8a8a94" stroke-width="0.8" stroke-linejoin="round"/>
<circle cx="73.50" cy="804.50" r="3.7" fill="url(#headg)" stroke="#c8b44c" stroke-width="0.9"/>
<circle cx="81.60" cy="804.50" r="3.7" fill="url(#headg)" stroke="#c8b44c" stroke-width="0.9"/>
<circle cx="89.70" cy="804.50" r="3.7" fill="url(#headg)" stroke="#c8b44c" stroke-width="0.9"/>
<circle cx="97.80" cy="804.50" r="3.7" fill="url(#headg)" stroke="#c8b44c" stroke-width="0.9"/>
<circle cx="72.50" cy="844.80" r="3.7" fill="url(#headg)" stroke="#c8b44c" stroke-width="0.9"/>
<circle cx="80.30" cy="844.80" r="3.7" fill="url(#headg)" stroke="#c8b44c" stroke-width="0.9"/>
<circle cx="88.10" cy="844.80" r="3.7" fill="url(#headg)" stroke="#c8b44c" stroke-width="0.9"/>
<circle cx="95.50" cy="844.80" r="3.7" fill="url(#headg)" stroke="#c8b44c" stroke-width="0.9"/>
<path d="M114.65,806.20 L113.37,806.92 L112.98,807.65 L113.79,808.37 L115.15,809.09 L116.00,809.81 L115.67,810.54 L114.41,811.26 L113.22,811.98 L113.04,812.71 L114.01,813.43 L113.50,814.15 L113.00,814.88 L113.09,815.60 L113.98,816.32 L114.65,817.04 L115.26,817.77 L115.56,818.49 L115.44,819.21 L114.95,819.94 L114.27,820.66 L113.68,821.38 L113.42,822.11 L113.60,822.83 L114.13,823.55 L114.81,824.27 L115.37,825.00 L115.57,825.72 L115.35,826.44 L114.79,827.17 L114.11,827.89 M121.12,806.20 L122.17,806.92 L123.28,807.63 L123.77,808.35 L123.35,809.06 L122.27,809.78 L121.18,810.50 L120.75,811.21 L121.23,811.93 L120.96,812.65 L120.75,813.36 L121.38,814.08 L121.82,814.79 L122.40,815.51 L122.93,816.23 L123.26,816.94 L123.29,817.66 L123.00,818.38 L122.49,819.09 L121.90,819.81 L121.43,820.52 L121.21,821.24 L121.31,821.96 L121.70,822.67 M129.67,806.20 L129.29,806.91 L129.64,807.62 L130.58,808.33 L131.70,809.04 L132.50,809.74 L132.65,810.45 L132.07,811.16 L131.02,811.87 L129.96,812.58 L132.07,813.29 L131.36,814.00 L130.57,814.71 L130.20,815.41 L129.88,816.12 L129.80,816.83 L129.98,817.54 L130.37,818.25 L130.90,818.96 L131.45,819.67 L131.89,820.38 L132.14,821.08 L132.14,821.79 L131.89,822.50 L131.44,823.21 L130.89,823.92 L130.37,824.63 L129.97,825.34 M114.70,837.80 L113.69,837.07 L113.42,836.33 L114.01,835.60 L115.18,834.87 L116.35,834.13 L115.44,833.40 L116.25,832.67 L116.31,831.93 L116.42,831.20 L116.21,830.47 L115.75,829.73 L115.15,829.00 L114.55,828.27 L114.11,827.53 L113.94,826.80 L114.06,826.07 L114.47,825.33 M123.70,837.80 L123.01,837.07 L121.71,836.35 L120.61,835.62 L120.41,834.90 L121.23,834.17 L122.55,833.44 L123.55,832.72 L123.61,831.99 L122.92,831.27 L123.55,830.54 L123.21,829.81 L122.94,829.09 L122.40,828.36 L121.73,827.64 L121.17,826.91 L120.88,826.18 L120.95,825.46 L121.37,824.73 L122.00,824.01 L122.64,823.28 L123.09,822.55 L123.21,821.83 L122.96,821.10 L122.41,820.38 M129.08,837.80 L130.09,837.08 L131.85,836.35 L132.66,835.63 L131.74,834.91 L129.97,834.18 L131.40,833.46 L130.14,832.74 L129.73,832.01 L129.66,831.29 L130.20,830.57 L131.06,829.84 L131.83,829.12 L132.12,828.40 L131.79,827.68 L130.99,826.95 L130.14,826.23" fill="none" stroke="#8a8a94" stroke-width="0.8" stroke-linejoin="round"/>
<circle cx="114.60" cy="802.20" r="3.7" fill="url(#headg)" stroke="#c8b44c" stroke-width="0.9"/>
<circle cx="122.50" cy="802.20" r="3.7" fill="url(#headg)" stroke="#c8b44c" stroke-width="0.9"/>
<circle cx="130.30" cy="802.20" r="3.7" fill="url(#headg)" stroke="#c8b44c" stroke-width="0.9"/>
<circle cx="114.60" cy="841.80" r="3.7" fill="url(#headg)" stroke="#c8b44c" stroke-width="0.9"/>
<circle cx="122.50" cy="841.80" r="3.7" fill="url(#headg)" stroke="#c8b44c" stroke-width="0.9"/>
<circle cx="130.30" cy="841.80" r="3.7" fill="url(#headg)" stroke="#c8b44c" stroke-width="0.9"/>
<path d="M143.81,806.20 L144.56,806.93 L145.51,807.65 L146.16,808.38 L146.15,809.10 L145.50,809.83 L144.54,810.55 L143.80,811.28 L143.67,812.01 L144.28,812.73 L143.80,813.46 L144.03,814.18 L144.16,814.91 L144.50,815.64 L144.96,816.36 L145.41,817.09 L145.74,817.81 L145.86,818.54 L145.72,819.26 L145.38,819.99 L144.92,820.72 L144.46,821.44 L144.14,822.17 L144.03,822.89 M154.22,806.20 L153.64,806.91 L152.82,807.61 L152.19,808.32 L152.09,809.02 L152.56,809.73 L153.37,810.43 L152.49,811.14 L153.03,811.84 L153.48,812.55 L153.81,813.25 L153.97,813.96 L153.92,814.66 L153.68,815.37 L153.30,816.07 L152.90,816.78 L152.57,817.48 L152.40,818.19 L152.44,818.89 L152.68,819.60 M162.76,806.20 L162.19,806.92 L161.25,807.64 L160.36,808.36 L159.93,809.09 L160.13,809.81 L160.90,810.53 L161.87,811.25 L162.62,811.97 L162.81,812.69 L162.35,813.42 L162.44,814.14 L162.77,814.86 L162.79,815.58 L162.15,816.30 L161.77,817.02 L161.29,817.75 L160.84,818.47 L160.50,819.19 L160.35,819.91 L160.44,820.63 L160.73,821.35 L161.16,822.08 L161.65,822.80 L162.06,823.52 L162.33,824.24 L162.38,824.96 L162.20,825.68 L161.84,826.41 L161.37,827.13 M146.38,837.80 L145.34,837.07 L144.59,836.34 L144.78,835.61 L145.76,834.88 L146.64,834.15 L145.97,833.42 L146.58,832.68 L146.44,831.95 L146.22,831.22 L145.75,830.49 L145.23,829.76 L144.91,829.03 L144.93,828.30 L145.28,827.57 L145.80,826.84 L146.26,826.11 M153.53,837.80 L153.04,837.08 L152.26,836.37 L151.58,835.65 L151.32,834.93 L151.61,834.21 L152.31,833.50 L153.07,832.78 L153.54,832.06 L152.55,831.35 L153.07,830.63 L153.15,829.91 L153.24,829.19 L153.14,828.48 L152.87,827.76 L152.50,827.04 L152.12,826.33 L151.81,825.61 L151.67,824.89 L151.71,824.17 L151.93,823.46 L152.28,822.74 L152.67,822.02 L153.01,821.31 M161.26,837.80 L160.25,837.10 L159.87,836.40 L160.37,835.70 L161.43,835.00 L162.36,834.30 L162.56,833.59 L161.91,832.89 L160.82,832.19 L160.00,831.49 L161.91,830.79 L161.15,830.09 L160.42,829.39 L160.34,828.69 L160.30,827.99 L160.57,827.29 L161.06,826.58 L161.60,825.88 L162.02,825.18 L162.19,824.48 L162.05,823.78 L161.64,823.08 L161.10,822.38 L160.60,821.68 L160.31,820.98 L160.32,820.28 L160.63,819.57 L161.13,818.87 L161.67,818.17" fill="none" stroke="#8a8a94" stroke-width="0.8" stroke-linejoin="round"/>
<circle cx="145.50" cy="802.20" r="3.7" fill="url(#headg)" stroke="#c8b44c" stroke-width="0.9"/>
<circle cx="153.00" cy="802.20" r="3.7" fill="url(#headg)" stroke="#c8b44c" stroke-width="0.9"/>
<circle cx="160.60" cy="802.20" r="3.7" fill="url(#headg)" stroke="#c8b44c" stroke-width="0.9"/>
<circle cx="145.50" cy="841.80" r="3.7" fill="url(#headg)" stroke="#c8b44c" stroke-width="0.9"/>
<circle cx="153.00" cy="841.80" r="3.7" fill="url(#headg)" stroke="#c8b44c" stroke-width="0.9"/>
<circle cx="160.60" cy="841.80" r="3.7" fill="url(#headg)" stroke="#c8b44c" stroke-width="0.9"/>
<path d="M181.86,806.20 L182.98,806.92 L183.97,807.65 L184.22,808.37 L183.60,809.09 L182.47,809.81 L181.51,810.54 L181.29,811.26 L181.95,811.98 L183.09,812.71 L181.29,813.43 L181.68,814.15 L182.49,814.87 L183.07,815.60 L183.54,816.32 L183.78,817.04 L183.71,817.77 L183.35,818.49 L182.81,819.21 L182.25,819.93 L181.85,820.66 L181.71,821.38 L181.89,822.10 L182.33,822.83 L182.89,823.55 L183.42,824.27 L183.74,824.99 M191.65,806.20 L190.73,806.90 L189.31,807.61 L188.50,808.31 L188.96,809.01 L190.31,809.71 L191.49,810.42 L191.56,811.12 L190.46,811.82 L191.65,812.52 L191.56,813.23 L190.87,813.93 L189.94,814.63 L189.30,815.33 L188.98,816.04 L189.11,816.74 L189.63,817.44 L190.34,818.14 L190.95,818.85 L191.21,819.55 L191.02,820.25 L190.46,820.95 L189.74,821.66 L189.17,822.36 L188.97,823.06 L189.22,823.76 M183.53,837.80 L182.06,837.09 L181.16,836.39 L181.75,835.68 L183.23,834.97 L184.11,834.26 L183.51,833.56 L182.03,832.85 L181.16,832.14 L181.77,831.44 L182.03,830.73 L181.27,830.02 L181.23,829.31 L182.12,828.61 L182.86,827.90 L183.48,827.19 L183.66,826.49 L183.31,825.78 L182.61,825.07 L181.92,824.36 L181.60,823.66 L181.81,822.95 L182.45,822.24 L183.19,821.54 L183.63,820.83 L183.56,820.12 L183.01,819.41 L182.27,818.71 L181.71,818.00 M189.97,837.80 L190.82,837.09 L190.88,836.39 L190.12,835.68 L188.98,834.98 L188.09,834.27 L187.96,833.57 L188.66,832.86 L189.80,832.16 L188.09,831.45 L188.66,830.75 L189.45,830.04 L189.99,829.34 L190.38,828.63 L190.50,827.93 L190.32,827.22 L189.88,826.52 L189.32,825.81 L188.79,825.11 L188.44,824.40 L188.37,823.70 L188.61,822.99 L189.08,822.29 L189.65,821.58" fill="none" stroke="#8a8a94" stroke-width="0.8" stroke-linejoin="round"/>
<circle cx="182.60" cy="802.20" r="3.7" fill="url(#headg)" stroke="#c8b44c" stroke-width="0.9"/>
<circle cx="190.20" cy="802.20" r="3.7" fill="url(#headg)" stroke="#c8b44c" stroke-width="0.9"/>
<circle cx="182.60" cy="841.80" r="3.7" fill="url(#headg)" stroke="#c8b44c" stroke-width="0.9"/>
<circle cx="190.20" cy="841.80" r="3.7" fill="url(#headg)" stroke="#c8b44c" stroke-width="0.9"/>
<path d="M210.34,806.20 L210.31,806.92 L211.34,807.63 L212.67,808.35 L213.32,809.07 L212.80,809.79 L211.50,810.50 L210.38,811.22 L210.27,811.94 L211.26,812.65 L210.38,813.37 L210.18,814.09 L210.92,814.81 L211.50,815.52 L212.17,816.24 L212.69,816.96 L212.85,817.67 L212.59,818.39 L212.02,819.11 L211.35,819.83 L210.82,820.54 L210.64,821.26 L210.88,821.98 L211.44,822.69 L212.12,823.41 L212.65,824.13 L212.85,824.85 M218.28,806.20 L219.12,806.90 L219.80,807.60 L219.96,808.30 L219.51,809.01 L218.70,809.71 L217.96,810.41 L217.69,811.11 L218.04,811.81 L218.82,812.51 L217.69,813.22 L217.88,813.92 L218.32,814.62 L218.89,815.32 L219.28,816.02 L219.55,816.72 L219.63,817.42 L219.50,818.13 L219.18,818.83 L218.77,819.53 L218.38,820.23 L218.11,820.93 L218.04,821.63 L218.18,822.33 L218.51,823.04 L218.92,823.74 L219.31,824.44 L219.57,825.14 L219.63,825.84 M228.57,806.20 L227.39,806.93 L226.17,807.65 L225.85,808.38 L226.69,809.11 L228.03,809.83 L228.82,810.56 L228.45,811.29 L228.63,812.01 L228.84,812.74 L228.11,813.47 L227.53,814.19 L226.87,814.92 L226.39,815.65 L226.28,816.37 L226.60,817.10 L227.20,817.83 L227.86,818.55 L228.30,819.28 L228.36,820.01 L228.01,820.73 L227.39,821.46 M212.76,837.80 L211.52,837.07 L210.34,836.35 L210.15,835.62 L211.12,834.89 L212.46,834.16 L213.11,833.44 L212.34,832.71 L212.98,831.98 L212.62,831.26 L212.26,830.53 L211.63,829.80 L210.98,829.08 L210.58,828.35 L210.59,827.62 L211.00,826.89 L211.66,826.17 L212.28,825.44 L212.63,824.71 L212.55,823.99 M220.28,837.80 L219.60,837.08 L218.51,836.36 L217.60,835.65 L217.36,834.93 L217.92,834.21 L218.97,833.49 L219.96,832.77 L220.34,832.06 L219.30,831.34 L219.96,830.62 L220.31,829.90 L219.84,829.18 L219.54,828.47 L219.05,827.75 L218.50,827.03 L218.05,826.31 L217.81,825.59 L217.85,824.88 L218.16,824.16 L218.65,823.44 L219.20,822.72 L219.65,822.00 L219.88,821.29 L219.83,820.57 L219.51,819.85 M228.53,837.80 L227.34,837.08 L226.63,836.36 L227.02,835.63 L228.17,834.91 L229.07,834.19 L228.93,833.47 L229.02,832.74 L229.12,832.02 L228.44,831.30 L227.88,830.58 L227.32,829.85 L227.02,829.13 L227.10,828.41 L227.53,827.69 L228.13,826.96 L228.61,826.24 L228.77,825.52 L228.54,824.80" fill="none" stroke="#8a8a94" stroke-width="0.8" stroke-linejoin="round"/>
<circle cx="211.80" cy="802.20" r="3.7" fill="url(#headg)" stroke="#c8b44c" stroke-width="0.9"/>
<circle cx="219.60" cy="802.20" r="3.7" fill="url(#headg)" stroke="#c8b44c" stroke-width="0.9"/>
<circle cx="227.40" cy="802.20" r="3.7" fill="url(#headg)" stroke="#c8b44c" stroke-width="0.9"/>
<circle cx="211.80" cy="841.80" r="3.7" fill="url(#headg)" stroke="#c8b44c" stroke-width="0.9"/>
<circle cx="219.60" cy="841.80" r="3.7" fill="url(#headg)" stroke="#c8b44c" stroke-width="0.9"/>
<circle cx="227.40" cy="841.80" r="3.7" fill="url(#headg)" stroke="#c8b44c" stroke-width="0.9"/>
<path d="M240.59,806.20 L241.36,806.91 L242.51,807.63 L243.17,808.34 L242.86,809.06 L241.80,809.77 L240.79,810.49 L240.58,811.20 L241.33,811.91 L242.48,812.63 L240.58,813.34 L241.03,814.06 L241.79,814.77 L242.37,815.48 L242.73,816.20 L242.76,816.91 L242.45,817.63 L241.92,818.34 L241.37,819.06 L241.00,819.77 L240.96,820.48 L241.26,821.20 L241.79,821.91 L242.35,822.63 L242.72,823.34 L242.77,824.05 L242.47,824.77 L241.94,825.48 M249.73,806.20 L249.35,806.91 L249.86,807.61 L250.89,808.32 L251.68,809.02 L251.66,809.73 L250.84,810.44 L249.82,811.14 L249.35,811.85 L250.52,812.55 L249.82,813.26 L249.75,813.97 L249.76,814.67 L250.07,815.38 L250.56,816.09 L251.05,816.79 L251.37,817.50 L251.39,818.20 L251.11,818.91 L250.62,819.62 L250.12,820.32 L249.78,821.03 L249.74,821.73 L250.00,822.44 L250.47,823.15 M242.38,837.80 L241.35,837.10 L241.28,836.40 L242.22,835.69 L243.34,834.99 L243.65,834.29 L242.86,833.59 L241.69,832.88 L241.16,832.18 L241.76,831.48 L241.69,830.78 L241.21,830.07 L241.28,829.37 L242.03,828.67 L242.62,827.97 L243.12,827.26 L243.30,826.56 L243.08,825.86 L242.56,825.16 L241.98,824.45 L241.60,823.75 L241.59,823.05 L241.96,822.35 L242.54,821.65 L243.06,820.94 L243.30,820.24 L243.14,819.54 L242.65,818.84 M252.17,837.80 L251.32,837.09 L249.77,836.39 L248.83,835.68 L249.29,834.97 L250.76,834.27 L252.01,833.56 L250.60,832.85 L251.62,832.15 L251.66,831.44 L251.53,830.73 L250.95,830.03 L250.18,829.32 L249.54,828.62 L249.31,827.91 L249.59,827.20 L250.25,826.50 L251.02,825.79 L251.56,825.08" fill="none" stroke="#8a8a94" stroke-width="0.8" stroke-linejoin="round"/>
<circle cx="242.50" cy="802.20" r="3.7" fill="url(#headg)" stroke="#c8b44c" stroke-width="0.9"/>
<circle cx="250.00" cy="802.20" r="3.7" fill="url(#headg)" stroke="#c8b44c" stroke-width="0.9"/>
<circle cx="242.50" cy="841.80" r="3.7" fill="url(#headg)" stroke="#c8b44c" stroke-width="0.9"/>
<circle cx="250.00" cy="841.80" r="3.7" fill="url(#headg)" stroke="#c8b44c" stroke-width="0.9"/>
<line x1="101.50" y1="804.50" x2="101.50" y2="849.50" stroke="#4a4a4a" stroke-width="1.2" />
<line x1="110.30" y1="804.50" x2="110.30" y2="849.50" stroke="#4a4a4a" stroke-width="1.2" />
<line x1="133.90" y1="804.50" x2="133.90" y2="849.50" stroke="#4a4a4a" stroke-width="1.2" />
<line x1="142.40" y1="804.50" x2="142.40" y2="849.50" stroke="#4a4a4a" stroke-width="1.2" />
<line x1="166.60" y1="804.50" x2="166.60" y2="849.50" stroke="#4a4a4a" stroke-width="1.2" />
<line x1="175.30" y1="804.50" x2="175.30" y2="849.50" stroke="#4a4a4a" stroke-width="1.2" />
<line x1="198.70" y1="804.50" x2="198.70" y2="849.50" stroke="#4a4a4a" stroke-width="1.2" />
<line x1="207.40" y1="804.50" x2="207.40" y2="849.50" stroke="#4a4a4a" stroke-width="1.2" />
<line x1="231.20" y1="804.50" x2="231.20" y2="849.50" stroke="#4a4a4a" stroke-width="1.2" />
<line x1="239.60" y1="804.50" x2="239.60" y2="849.50" stroke="#4a4a4a" stroke-width="1.2" />
<path d="M85.70,861.50 C86.05,860.88 87.17,860.67 88.30,860.40 C89.43,860.13 91.18,860.17 92.50,859.90 C93.82,859.63 95.15,859.28 96.20,858.80 C97.25,858.32 98.05,857.38 98.80,857.00 C99.55,856.62 100.08,856.45 100.70,856.50 C101.32,856.55 101.93,856.95 102.50,857.30 C103.07,857.65 103.48,858.30 104.10,858.60 C104.72,858.90 105.50,859.15 106.20,859.10 C106.90,859.05 107.57,858.57 108.30,858.30 C109.03,858.03 109.82,857.45 110.60,857.50 C111.38,857.55 112.42,858.03 113.00,858.60 C113.58,859.17 113.97,859.98 114.10,860.90 C114.23,861.82 114.15,863.05 113.80,864.10 C113.45,865.15 112.65,866.23 112.00,867.20 C111.35,868.17 110.38,869.10 109.90,869.90 C109.42,870.70 109.47,871.30 109.10,872.00 C108.73,872.70 108.53,873.58 107.70,874.10 C106.87,874.62 105.50,874.93 104.10,875.10 C102.70,875.27 100.80,875.27 99.30,875.10 C97.80,874.93 96.50,874.72 95.10,874.10 C93.70,873.48 92.12,872.55 90.90,871.40 C89.68,870.25 88.58,868.42 87.80,867.20 C87.02,865.98 86.55,865.05 86.20,864.10 C85.85,863.15 85.35,862.12 85.70,861.50Z" fill="url(#enzg)" stroke="#1b140c" stroke-width="1.35" stroke-linejoin="round"/>
<path d="M118.10,861.50 C118.45,860.88 119.57,860.67 120.70,860.40 C121.83,860.13 123.58,860.17 124.90,859.90 C126.22,859.63 127.55,859.28 128.60,858.80 C129.65,858.32 130.45,857.38 131.20,857.00 C131.95,856.62 132.48,856.45 133.10,856.50 C133.72,856.55 134.33,856.95 134.90,857.30 C135.47,857.65 135.88,858.30 136.50,858.60 C137.12,858.90 137.90,859.15 138.60,859.10 C139.30,859.05 139.97,858.57 140.70,858.30 C141.43,858.03 142.22,857.45 143.00,857.50 C143.78,857.55 144.82,858.03 145.40,858.60 C145.98,859.17 146.37,859.98 146.50,860.90 C146.63,861.82 146.55,863.05 146.20,864.10 C145.85,865.15 145.05,866.23 144.40,867.20 C143.75,868.17 142.78,869.10 142.30,869.90 C141.82,870.70 141.87,871.30 141.50,872.00 C141.13,872.70 140.93,873.58 140.10,874.10 C139.27,874.62 137.90,874.93 136.50,875.10 C135.10,875.27 133.20,875.27 131.70,875.10 C130.20,874.93 128.90,874.72 127.50,874.10 C126.10,873.48 124.52,872.55 123.30,871.40 C122.08,870.25 120.98,868.42 120.20,867.20 C119.42,865.98 118.95,865.05 118.60,864.10 C118.25,863.15 117.75,862.12 118.10,861.50Z" fill="url(#enzg)" stroke="#1b140c" stroke-width="1.35" stroke-linejoin="round"/>
<path d="M150.50,861.50 C150.85,860.88 151.97,860.67 153.10,860.40 C154.23,860.13 155.98,860.17 157.30,859.90 C158.62,859.63 159.95,859.28 161.00,858.80 C162.05,858.32 162.85,857.38 163.60,857.00 C164.35,856.62 164.88,856.45 165.50,856.50 C166.12,856.55 166.73,856.95 167.30,857.30 C167.87,857.65 168.28,858.30 168.90,858.60 C169.52,858.90 170.30,859.15 171.00,859.10 C171.70,859.05 172.37,858.57 173.10,858.30 C173.83,858.03 174.62,857.45 175.40,857.50 C176.18,857.55 177.22,858.03 177.80,858.60 C178.38,859.17 178.77,859.98 178.90,860.90 C179.03,861.82 178.95,863.05 178.60,864.10 C178.25,865.15 177.45,866.23 176.80,867.20 C176.15,868.17 175.18,869.10 174.70,869.90 C174.22,870.70 174.27,871.30 173.90,872.00 C173.53,872.70 173.33,873.58 172.50,874.10 C171.67,874.62 170.30,874.93 168.90,875.10 C167.50,875.27 165.60,875.27 164.10,875.10 C162.60,874.93 161.30,874.72 159.90,874.10 C158.50,873.48 156.92,872.55 155.70,871.40 C154.48,870.25 153.38,868.42 152.60,867.20 C151.82,865.98 151.35,865.05 151.00,864.10 C150.65,863.15 150.15,862.12 150.50,861.50Z" fill="url(#enzg)" stroke="#1b140c" stroke-width="1.35" stroke-linejoin="round"/>
<path d="M182.90,861.50 C183.25,860.88 184.37,860.67 185.50,860.40 C186.63,860.13 188.38,860.17 189.70,859.90 C191.02,859.63 192.35,859.28 193.40,858.80 C194.45,858.32 195.25,857.38 196.00,857.00 C196.75,856.62 197.28,856.45 197.90,856.50 C198.52,856.55 199.13,856.95 199.70,857.30 C200.27,857.65 200.68,858.30 201.30,858.60 C201.92,858.90 202.70,859.15 203.40,859.10 C204.10,859.05 204.77,858.57 205.50,858.30 C206.23,858.03 207.02,857.45 207.80,857.50 C208.58,857.55 209.62,858.03 210.20,858.60 C210.78,859.17 211.17,859.98 211.30,860.90 C211.43,861.82 211.35,863.05 211.00,864.10 C210.65,865.15 209.85,866.23 209.20,867.20 C208.55,868.17 207.58,869.10 207.10,869.90 C206.62,870.70 206.67,871.30 206.30,872.00 C205.93,872.70 205.73,873.58 204.90,874.10 C204.07,874.62 202.70,874.93 201.30,875.10 C199.90,875.27 198.00,875.27 196.50,875.10 C195.00,874.93 193.70,874.72 192.30,874.10 C190.90,873.48 189.32,872.55 188.10,871.40 C186.88,870.25 185.78,868.42 185.00,867.20 C184.22,865.98 183.75,865.05 183.40,864.10 C183.05,863.15 182.55,862.12 182.90,861.50Z" fill="url(#enzg)" stroke="#1b140c" stroke-width="1.35" stroke-linejoin="round"/>
<path d="M215.30,861.50 C215.65,860.88 216.77,860.67 217.90,860.40 C219.03,860.13 220.78,860.17 222.10,859.90 C223.42,859.63 224.75,859.28 225.80,858.80 C226.85,858.32 227.65,857.38 228.40,857.00 C229.15,856.62 229.68,856.45 230.30,856.50 C230.92,856.55 231.53,856.95 232.10,857.30 C232.67,857.65 233.08,858.30 233.70,858.60 C234.32,858.90 235.10,859.15 235.80,859.10 C236.50,859.05 237.17,858.57 237.90,858.30 C238.63,858.03 239.42,857.45 240.20,857.50 C240.98,857.55 242.02,858.03 242.60,858.60 C243.18,859.17 243.57,859.98 243.70,860.90 C243.83,861.82 243.75,863.05 243.40,864.10 C243.05,865.15 242.25,866.23 241.60,867.20 C240.95,868.17 239.98,869.10 239.50,869.90 C239.02,870.70 239.07,871.30 238.70,872.00 C238.33,872.70 238.13,873.58 237.30,874.10 C236.47,874.62 235.10,874.93 233.70,875.10 C232.30,875.27 230.40,875.27 228.90,875.10 C227.40,874.93 226.10,874.72 224.70,874.10 C223.30,873.48 221.72,872.55 220.50,871.40 C219.28,870.25 218.18,868.42 217.40,867.20 C216.62,865.98 216.15,865.05 215.80,864.10 C215.45,863.15 214.95,862.12 215.30,861.50Z" fill="url(#enzg)" stroke="#1b140c" stroke-width="1.35" stroke-linejoin="round"/>
<circle cx="89.00" cy="774.70" r="3.0" fill="#2f4ea3" stroke="none" stroke-width="0"/>
<circle cx="120.50" cy="775.90" r="3.0" fill="#2f4ea3" stroke="none" stroke-width="0"/>
<circle cx="184.80" cy="778.70" r="3.0" fill="#2f4ea3" stroke="none" stroke-width="0"/>
<path d="M85.50,777.60 C84.78,778.25 81.35,780.12 81.20,781.50 C81.05,782.88 82.52,784.85 84.60,785.90 C86.68,786.95 89.07,787.22 93.70,787.80 C98.33,788.38 107.35,788.63 112.40,789.40 C117.45,790.17 120.82,791.43 124.00,792.40 C127.18,793.37 129.47,793.78 131.50,795.20 C133.53,796.62 135.15,798.20 136.20,800.90 C137.25,803.60 137.47,806.55 137.80,811.40 C138.13,816.25 138.10,824.90 138.20,830.00 C138.30,835.10 138.37,840.00 138.40,842.00" fill="none" stroke="#1a1a1a" stroke-width="1.05" stroke-dasharray="1.1 1.5" stroke-linecap="butt"/>
<path d="M138.40,847.00 L135.80,842.40 L138.40,843.60 L141.00,842.40 Z" fill="#111"/>
<path d="M120.50,778.20 C120.90,779.07 121.72,781.83 122.90,783.40 C124.08,784.97 125.65,787.05 127.60,787.60 C129.55,788.15 132.08,787.80 134.60,786.70 C137.12,785.60 140.18,782.33 142.70,781.00 C145.22,779.67 147.55,779.23 149.70,778.70 C151.85,778.17 153.83,778.55 155.60,777.80 C157.37,777.05 158.73,775.33 160.30,774.20 C161.87,773.07 163.47,771.68 165.00,771.00 C166.53,770.32 168.75,770.25 169.50,770.10" fill="none" stroke="#1a1a1a" stroke-width="1.05" stroke-dasharray="1.1 1.5" stroke-linecap="butt"/>
<path d="M173.30,769.80 L168.96,772.82 L169.92,770.12 L168.48,767.64 Z" fill="#111"/>
<path d="M182.00,779.20 C180.90,779.37 177.08,779.12 175.40,780.20 C173.72,781.28 172.83,782.83 171.90,785.70 C170.97,788.57 170.28,790.40 169.80,797.40 C169.32,804.40 168.90,822.17 169.00,827.70 C169.10,833.23 169.97,830.60 170.40,830.60 C170.83,830.60 171.30,833.23 171.60,827.70 C171.90,822.17 171.72,803.58 172.20,797.40 C172.68,791.22 173.18,791.93 174.50,790.60 C175.82,789.27 175.67,789.52 180.10,789.40 C184.53,789.28 196.03,790.32 201.10,789.90 C206.17,789.48 208.15,788.57 210.50,786.90 C212.85,785.23 213.65,781.55 215.20,779.90 C216.75,778.25 218.50,777.55 219.80,777.00 C221.10,776.45 222.47,776.67 223.00,776.60" fill="none" stroke="#1a1a1a" stroke-width="1.05" stroke-dasharray="1.1 1.5" stroke-linecap="butt"/>
<path d="M226.90,776.40 L222.39,779.15 L223.50,776.52 L222.21,773.96 Z" fill="#111"/>
<circle cx="139.10" cy="854.60" r="3.1" fill="#3bb54a" stroke="none" stroke-width="0"/>
<path d="M142.60,869.60 C143.00,870.33 144.17,872.63 145.00,874.00 C145.83,875.37 147.17,877.17 147.60,877.80" fill="none" stroke="#1a1a1a" stroke-width="1.05" stroke-dasharray="1.1 1.5" stroke-linecap="butt"/>
<path d="M150.00,880.80 L145.10,878.83 L147.88,878.15 L149.16,875.58 Z" fill="#111"/>
<path d="M155.20,884.00 L159.50,889.60 L150.90,889.60 Z" fill="#3bb54a"/>
<path d="M83.4,888.2 L154.0,905.7 L154.0,918.2 M241.0,888.2 L171.0,905.7 L171.0,918.2" fill="none" stroke="#1e1e1e" stroke-width="1.9"/>
<path d="M132.70,950.80 C133.47,950.72 136.05,951.35 137.30,950.30 C138.55,949.25 139.42,946.47 140.20,944.50 C140.98,942.53 142.10,939.48 142.00,938.50 C141.90,937.52 140.17,937.68 139.60,938.60 C139.03,939.52 138.65,942.32 138.60,944.00 C138.55,945.68 138.50,946.88 139.30,948.70 C140.10,950.52 141.87,953.87 143.40,954.90 C144.93,955.93 147.32,956.10 148.50,954.90 C149.68,953.70 150.17,948.90 150.50,947.70" fill="none" stroke="#5d60a8" stroke-width="1.25" stroke-linecap="round"/>
<path d="M175.60,943.10 C176.70,943.53 181.35,944.25 182.20,945.70 C183.05,947.15 181.55,949.77 180.70,951.80 C179.85,953.83 177.35,956.03 177.10,957.90 C176.85,959.77 178.35,961.47 179.20,963.00 C180.05,964.53 181.70,966.42 182.20,967.10" fill="none" stroke="#5d60a8" stroke-width="1.25" stroke-linecap="round"/>
<path d="M150.70,943.40 C150.47,943.82 149.82,944.52 149.72,945.15 C149.62,945.79 150.01,946.58 150.10,947.20 C150.19,947.82 149.97,948.31 150.25,948.85 C150.53,949.38 151.37,949.97 151.80,950.40 C152.23,950.83 152.27,951.16 152.84,951.42 C153.40,951.69 154.61,951.77 155.20,952.00 C155.79,952.23 155.80,952.68 156.38,952.81 C156.97,952.95 158.07,952.58 158.70,952.80 C159.33,953.02 159.57,953.90 160.16,954.14 C160.74,954.37 161.50,954.09 162.20,954.20 C162.90,954.31 163.67,954.82 164.34,954.79 C165.00,954.75 165.53,954.13 166.20,954.00 C166.87,953.87 167.80,954.19 168.37,954.02 C168.93,953.86 168.99,953.20 169.60,953.00 C170.21,952.80 171.42,953.00 172.02,952.83 C172.62,952.66 172.66,952.33 173.20,952.00 C173.74,951.67 174.78,951.29 175.23,950.86 C175.68,950.43 175.63,949.96 175.90,949.40 C176.17,948.84 176.77,948.11 176.85,947.47 C176.93,946.84 176.46,946.20 176.40,945.60 C176.34,945.00 176.67,944.40 176.47,943.90 C176.27,943.40 175.66,942.84 175.20,942.60 C174.74,942.36 174.42,942.38 173.72,942.43 C173.02,942.48 171.66,942.90 171.00,942.90 C170.34,942.90 170.34,942.42 169.74,942.40 C169.14,942.39 168.04,942.83 167.40,942.80 C166.76,942.77 166.52,942.21 165.92,942.23 C165.32,942.24 164.52,942.88 163.80,942.90 C163.08,942.92 162.26,942.32 161.58,942.37 C160.90,942.42 160.43,943.19 159.70,943.20 C158.97,943.21 157.86,942.51 157.20,942.41 C156.53,942.31 156.29,942.65 155.70,942.60 C155.11,942.55 154.14,942.16 153.66,942.13 C153.17,942.09 153.22,942.32 152.80,942.40 C152.38,942.48 151.46,942.44 151.11,942.61 C150.76,942.78 150.93,942.98 150.70,943.40Z" fill="url(#ribS)" stroke="#2a161c" stroke-width="1.45" stroke-linejoin="round"/>
<path d="M163.30,926.40 C162.57,926.41 162.01,925.84 161.43,925.96 C160.84,926.08 160.40,926.91 159.80,927.10 C159.20,927.29 158.37,926.87 157.85,927.11 C157.33,927.34 157.25,928.13 156.70,928.50 C156.15,928.87 155.04,928.87 154.52,929.30 C154.01,929.74 154.06,930.60 153.60,931.10 C153.14,931.60 152.11,931.82 151.74,932.30 C151.37,932.78 151.70,933.42 151.40,934.00 C151.10,934.58 150.17,935.19 149.95,935.79 C149.73,936.39 150.15,936.95 150.10,937.60 C150.05,938.25 149.56,939.08 149.68,939.71 C149.80,940.35 150.56,940.87 150.80,941.40 C151.04,941.93 150.77,942.53 151.11,942.90 C151.44,943.27 152.38,943.34 152.80,943.60 C153.22,943.86 153.17,944.34 153.66,944.44 C154.14,944.54 155.10,944.04 155.70,944.20 C156.30,944.36 156.62,945.22 157.28,945.38 C157.95,945.55 158.97,945.21 159.70,945.20 C160.43,945.19 160.95,945.56 161.63,945.34 C162.32,945.12 163.10,944.02 163.80,943.90 C164.50,943.78 165.25,944.63 165.85,944.61 C166.45,944.59 166.76,943.82 167.40,943.80 C168.04,943.78 169.10,944.46 169.70,944.48 C170.30,944.49 170.41,944.02 171.00,943.90 C171.59,943.78 172.71,943.95 173.24,943.73 C173.77,943.52 173.78,943.04 174.20,942.60 C174.62,942.16 175.48,941.70 175.74,941.10 C176.01,940.50 175.67,939.65 175.80,939.00 C175.93,938.35 176.53,937.80 176.50,937.17 C176.46,936.54 175.77,935.85 175.60,935.20 C175.43,934.55 175.78,933.86 175.48,933.28 C175.18,932.70 174.20,932.26 173.80,931.70 C173.40,931.14 173.55,930.39 173.09,929.94 C172.62,929.49 171.52,929.43 171.00,929.00 C170.48,928.57 170.47,927.71 169.95,927.38 C169.44,927.04 168.59,927.24 167.90,927.00 C167.21,926.76 166.58,926.03 165.82,925.93 C165.05,925.83 164.03,926.39 163.30,926.40Z" fill="url(#ribL)" stroke="#33191a" stroke-width="1.45" stroke-linejoin="round"/>
<path d="M129.00,1017.60 A34.6,34.6 0 0 1 198.20,1017.60" fill="none" stroke="#0d0d0d" stroke-width="2.0"/>
<path d="M163.82,1016.42 L132.60,1011.80 L163.38,1018.78 Z" fill="#9b3a5c"/>
<path d="M164.09,1015.77 L133.20,1009.40 L163.11,1019.43 Z" fill="#f3a22a"/>
<path d="M163.80,1016.93 L134.20,1008.60 L163.40,1018.27 Z" fill="#f6c64a"/>
<line x1="128.00" y1="1017.90" x2="199.20" y2="1017.90" stroke="#0d0d0d" stroke-width="3.0" />
<circle cx="163.60" cy="1017.30" r="2.6" fill="#111" stroke="none" stroke-width="0"/>
<text x="162.60" y="978.80" font-size="12.2" text-anchor="middle" font-weight="normal" font-style="normal" fill="#231f20" >0.5</text>
<text x="119.60" y="1022.00" font-size="12.2" text-anchor="middle" font-weight="normal" font-style="normal" fill="#231f20" >0</text>
<text x="206.80" y="1022.00" font-size="12.2" text-anchor="middle" font-weight="normal" font-style="normal" fill="#231f20" >1</text>
<text x="160.80" y="1036.00" font-size="12.6" text-anchor="middle" fill="#231f20"><tspan font-style="italic">k</tspan><tspan font-size="9.2" dy="2.6">eff</tspan></text>
<line x1="149.80" y1="1041.00" x2="171.80" y2="1041.00" stroke="#231f20" stroke-width="0.9" />
<text x="160.80" y="1052.60" font-size="12.6" text-anchor="middle" fill="#231f20"><tspan font-style="italic">k</tspan><tspan font-size="9.2" dy="2.6">cat</tspan></text>
<path d="M289.60,810.90 L290.08,811.62 L289.31,812.35 L287.87,813.07 L286.85,813.80 L287.03,814.52 L288.26,815.24 L289.63,815.97 L290.08,816.69 L289.28,817.41 L289.63,818.14 L290.08,818.86 L289.89,819.59 L288.93,820.31 L288.21,821.03 L287.58,821.76 L287.27,822.48 L287.41,823.20 L287.94,823.93 L288.66,824.65 L289.29,825.38 L289.58,826.10 L289.44,826.82 L288.90,827.55 L288.18,828.27 L287.56,828.99 L287.27,829.72 L287.42,830.44 L287.97,831.17 M297.64,810.90 L296.56,811.61 L295.70,812.32 L295.70,813.03 L296.56,813.74 L297.64,814.45 L298.16,815.16 L297.74,815.87 L298.06,816.58 L298.13,817.29 L297.48,818.00 L296.97,818.71 L296.44,819.42 L296.06,820.13 L295.98,820.84 L296.23,821.56 L296.72,822.27 L297.27,822.98 L297.66,823.69 L297.77,824.40 L297.54,825.11 L297.06,825.82 L296.51,826.53 M304.00,810.90 L305.45,811.63 L305.52,812.36 L304.15,813.09 L302.60,813.82 L302.30,814.55 L303.52,815.28 L305.14,816.01 L305.67,816.74 L304.04,817.47 L305.14,818.19 L305.17,818.92 L304.98,819.65 L304.31,820.38 L303.47,821.11 L302.86,821.84 L302.77,822.57 L303.23,823.30 L304.03,824.03 L304.80,824.76 L305.17,825.49 L304.97,826.22 L304.29,826.95 L303.45,827.68 M292.42,841.60 L293.90,840.88 L295.04,840.16 L295.03,839.43 L293.90,838.71 L292.42,837.99 L291.63,837.27 L292.08,836.55 L293.46,835.83 L294.80,835.10 L292.08,834.38 L293.00,833.66 L294.06,832.94 L294.45,832.22 L294.66,831.49 L294.44,830.77 L293.85,830.05 L293.10,829.33 L292.47,828.61 L292.16,827.89 L292.30,827.16 L292.83,826.44 L293.56,825.72 L294.24,825.00 L294.62,824.28 L294.58,823.55 L294.13,822.83 L293.42,822.11 M299.35,841.60 L298.93,840.88 L299.32,840.17 L300.32,839.45 L301.44,838.73 L302.12,838.02 L302.02,837.30 L301.19,836.58 L300.05,835.87 L299.16,835.15 L301.19,834.43 L300.39,833.72 L299.63,833.00 L299.54,832.29 L299.42,831.57 L299.59,830.85 L299.99,830.14 L300.54,829.42 L301.09,828.70 L301.51,827.99 L301.69,827.27 L301.59,826.55 L301.23,825.84 L300.71,825.12 L300.14,824.40 L299.68,823.69 L299.44,822.97 L299.48,822.25 M309.39,841.60 L310.17,840.89 L309.87,840.18 L308.74,839.46 L307.71,838.75 L307.63,838.04 L308.56,837.33 L309.74,836.61 L308.10,835.90 L308.93,835.19 L309.47,834.48 L309.78,833.76 L309.70,833.05 L309.27,832.34 L308.67,831.63 L308.15,830.92 L307.93,830.20 L308.09,829.49 L308.58,828.78 L309.19,828.07 L309.66,827.35 L309.79,826.64 L309.54,825.93" fill="none" stroke="#8a8a94" stroke-width="0.8" stroke-linejoin="round"/>
<circle cx="288.20" cy="806.90" r="3.7" fill="url(#headg)" stroke="#c8b44c" stroke-width="0.9"/>
<circle cx="296.40" cy="806.90" r="3.7" fill="url(#headg)" stroke="#c8b44c" stroke-width="0.9"/>
<circle cx="304.10" cy="806.90" r="3.7" fill="url(#headg)" stroke="#c8b44c" stroke-width="0.9"/>
<circle cx="292.80" cy="845.60" r="3.7" fill="url(#headg)" stroke="#c8b44c" stroke-width="0.9"/>
<circle cx="301.00" cy="845.60" r="3.7" fill="url(#headg)" stroke="#c8b44c" stroke-width="0.9"/>
<circle cx="309.20" cy="845.60" r="3.7" fill="url(#headg)" stroke="#c8b44c" stroke-width="0.9"/>
<path d="M326.99,808.50 L328.53,809.20 L329.81,809.91 L329.59,810.61 L328.09,811.32 L326.75,812.02 L326.87,812.72 L328.32,813.43 L329.72,814.13 L329.71,814.83 L328.32,815.54 L329.40,816.24 L329.42,816.95 L329.21,817.65 L328.53,818.35 L327.71,819.06 L327.17,819.76 L327.16,820.46 L327.70,821.17 L328.51,821.87 L329.20,822.58 L329.42,823.28 L329.07,823.98 L328.32,824.69 L327.54,825.39 L327.11,826.09 L327.25,826.80 M336.23,808.50 L335.31,809.21 L335.07,809.93 L335.63,810.64 L336.74,811.35 L337.86,812.06 L338.47,812.78 L338.29,813.49 L337.40,814.20 L336.22,814.91 L338.29,815.63 L337.72,816.34 L336.93,817.05 L336.31,817.77 L335.84,818.48 L335.59,819.19 L335.62,819.90 L335.92,820.62 L336.43,821.33 L337.01,822.04 L337.54,822.75 L337.89,823.47 L337.98,824.18 L337.79,824.89 L337.36,825.61 L336.79,826.32 L336.22,827.03 L335.78,827.74 M342.99,808.50 L342.69,809.23 L343.36,809.96 L344.45,810.69 L345.10,811.42 L344.77,812.14 L343.75,812.87 L344.85,813.60 L344.20,814.33 L343.56,815.06 L343.15,815.79 L343.05,816.52 L343.28,817.25 L343.77,817.97 L344.31,818.70 L344.67,819.43 L344.72,820.16 L344.43,820.89 L343.93,821.62 M330.02,839.80 L328.99,839.09 L327.65,838.37 L326.78,837.66 L326.91,836.94 L327.95,836.23 L329.29,835.51 L330.15,834.80 L328.77,834.08 L329.63,833.37 L329.64,832.65 L329.65,831.94 L329.31,831.22 L328.71,830.51 L328.05,829.79 L327.50,829.08 L327.24,828.36 L327.34,827.65 L327.78,826.93 L328.41,826.22 L329.07,825.50 L329.54,824.79 L329.69,824.08 M337.91,839.80 L337.07,839.06 L336.01,838.33 L335.32,837.59 L335.37,836.85 L336.14,836.11 L337.20,835.38 L336.04,834.64 L336.78,833.90 L337.25,833.16 L337.59,832.43 L337.68,831.69 L337.50,830.95 L337.09,830.21 L336.57,829.48 L336.08,828.74 L335.75,828.00 L335.68,827.27 L335.88,826.53 M341.88,839.80 L342.66,839.09 L344.20,838.38 L345.19,837.67 L344.77,836.96 L343.30,836.25 L342.05,835.54 L343.46,834.83 L342.44,834.12 L342.40,833.41 L342.54,832.70 L343.12,831.99 L343.89,831.28 L344.52,830.57 L344.72,829.86 L344.41,829.15 L343.73,828.44 L342.96,827.73 L342.46,827.02" fill="none" stroke="#8a8a94" stroke-width="0.8" stroke-linejoin="round"/>
<circle cx="328.60" cy="804.50" r="3.7" fill="url(#headg)" stroke="#c8b44c" stroke-width="0.9"/>
<circle cx="336.10" cy="804.50" r="3.7" fill="url(#headg)" stroke="#c8b44c" stroke-width="0.9"/>
<circle cx="343.50" cy="804.50" r="3.7" fill="url(#headg)" stroke="#c8b44c" stroke-width="0.9"/>
<circle cx="328.60" cy="843.80" r="3.7" fill="url(#headg)" stroke="#c8b44c" stroke-width="0.9"/>
<circle cx="336.10" cy="843.80" r="3.7" fill="url(#headg)" stroke="#c8b44c" stroke-width="0.9"/>
<circle cx="343.50" cy="843.80" r="3.7" fill="url(#headg)" stroke="#c8b44c" stroke-width="0.9"/>
<path d="M358.50,808.50 L357.82,809.21 L358.84,809.92 L360.52,810.63 L361.15,811.34 L360.09,812.05 L358.42,812.76 L357.84,813.47 L358.94,814.18 L360.60,814.89 L361.13,815.60 L358.47,816.31 L359.64,817.02 L360.72,817.73 L360.66,818.44 L360.36,819.15 L359.60,819.86 L358.78,820.57 L358.34,821.28 L358.49,821.99 L359.17,822.70 L360.02,823.41 L360.59,824.12 L360.58,824.83 L360.01,825.54 L359.16,826.25 L358.49,826.96 L358.34,827.67 L358.79,828.38 L359.61,829.09 L360.37,829.80 M365.65,808.50 L364.63,809.22 L364.45,809.93 L365.25,810.65 L366.39,811.36 L366.97,812.08 L366.52,812.80 L365.40,813.51 L364.50,814.23 L364.55,814.94 L365.50,815.66 L364.69,816.38 L364.39,817.09 L364.61,817.81 L365.39,818.52 L365.96,819.24 L366.42,819.96 L366.58,820.67 L366.37,821.39 L365.88,822.10 L365.31,822.82 L364.89,823.54 L364.79,824.25 L365.05,824.97 L365.56,825.68 L366.13,826.40 L366.51,827.12 L366.56,827.83 L366.25,828.55 L365.71,829.26 M374.09,808.50 L375.17,809.20 L374.64,809.90 L373.03,810.60 L371.94,811.30 L372.47,812.00 L374.08,812.70 L375.17,813.40 L374.64,814.10 L374.54,814.80 L375.17,815.50 L374.55,816.20 L373.90,816.90 L373.08,817.60 L372.50,818.30 L372.47,819.00 L372.99,819.70 L373.80,820.40 L374.49,821.11 L374.70,821.81 L374.32,822.51 L373.55,823.21 L372.78,823.91 L372.41,824.61 L372.63,825.31 M357.35,839.80 L357.87,839.09 L358.63,838.37 L359.29,837.66 L359.55,836.94 L359.29,836.23 L359.54,835.51 L359.34,834.80 L358.77,834.09 L358.40,833.37 L358.04,832.66 L357.75,831.94 L357.60,831.23 L357.64,830.52 L357.84,829.80 L358.17,829.09 L358.55,828.37 L358.90,827.66 M367.54,839.80 L366.54,839.06 L365.43,838.33 L365.11,837.59 L365.82,836.86 L367.01,836.12 L366.05,835.38 L366.90,834.65 L367.20,833.91 L367.32,833.18 L367.07,832.44 L366.55,831.70 L365.96,830.97 L365.56,830.23 L365.50,829.50 L365.81,828.76 L366.37,828.02 M374.98,839.80 L374.04,839.10 L372.85,838.40 L372.39,837.70 L373.05,837.00 L374.27,836.30 L375.06,835.59 L374.75,834.89 L373.61,834.19 L375.09,833.49 L374.75,832.79 L373.92,832.09 L373.31,831.39 L372.88,830.69 L372.82,829.99 L373.14,829.29 L373.71,828.59 L374.30,827.88 L374.65,827.18 L374.62,826.48 L374.22,825.78 L373.61,825.08 L373.06,824.38 L372.80,823.68 L372.93,822.98" fill="none" stroke="#8a8a94" stroke-width="0.8" stroke-linejoin="round"/>
<circle cx="359.00" cy="804.50" r="3.7" fill="url(#headg)" stroke="#c8b44c" stroke-width="0.9"/>
<circle cx="366.40" cy="804.50" r="3.7" fill="url(#headg)" stroke="#c8b44c" stroke-width="0.9"/>
<circle cx="373.60" cy="804.50" r="3.7" fill="url(#headg)" stroke="#c8b44c" stroke-width="0.9"/>
<circle cx="359.00" cy="843.80" r="3.7" fill="url(#headg)" stroke="#c8b44c" stroke-width="0.9"/>
<circle cx="366.40" cy="843.80" r="3.7" fill="url(#headg)" stroke="#c8b44c" stroke-width="0.9"/>
<circle cx="373.60" cy="843.80" r="3.7" fill="url(#headg)" stroke="#c8b44c" stroke-width="0.9"/>
<path d="M390.63,809.20 L391.45,809.91 L391.18,810.61 L390.00,811.32 L388.75,812.02 L388.29,812.73 L388.96,813.43 L388.29,814.14 L388.57,814.85 L389.49,815.55 L390.16,816.26 L390.73,816.96 L391.00,817.67 L390.88,818.37 L390.40,819.08 L389.75,819.79 L389.14,820.49 L388.80,821.20 L388.84,821.90 L389.26,822.61 L389.90,823.31 M397.75,809.20 L396.76,809.93 L395.69,810.66 L395.10,811.39 L395.31,812.12 L396.22,812.85 L397.33,813.58 L396.11,814.31 L396.90,815.04 L397.30,815.77 L397.61,816.50 L397.64,817.23 L397.39,817.96 L396.93,818.69 L396.38,819.42 L395.88,820.16 L395.58,820.89 L395.56,821.62 L395.81,822.35 L396.27,823.08 L396.83,823.81 M404.23,809.20 L403.07,809.92 L402.60,810.64 L403.15,811.37 L404.33,812.09 L405.26,812.81 L405.26,813.53 L404.33,814.25 L403.15,814.97 L402.60,815.70 L404.33,816.42 L403.47,817.14 L402.81,817.86 L403.02,818.58 L403.23,819.31 L403.73,820.03 L404.33,820.75 L404.80,821.47 L404.98,822.19 L404.79,822.91 L404.30,823.64 L403.70,824.36 L403.21,825.08 L403.02,825.80 L403.19,826.52 L403.66,827.25 L404.26,827.97 L404.76,828.69 L404.98,829.41 M391.25,840.40 L390.83,839.68 L389.62,838.96 L388.45,838.23 L388.11,837.51 L388.83,836.79 L390.13,836.07 L391.12,835.35 L391.12,834.62 L390.50,833.90 L391.12,833.18 L390.77,832.46 L390.47,831.74 L389.90,831.02 L389.25,830.29 L388.75,829.57 L388.56,828.85 L388.76,828.13 L389.27,827.41 L389.92,826.68 L390.48,825.96 L390.77,825.24 L390.68,824.52 L390.24,823.80 L389.60,823.07 M397.75,840.40 L396.80,839.68 L396.07,838.96 L396.07,838.24 L396.80,837.52 L397.75,836.80 L398.25,836.08 L397.96,835.37 L398.14,834.65 L398.25,833.93 L397.71,833.21 L397.30,832.49 L396.82,831.77 L396.45,831.05 L396.31,830.33 L396.45,829.61 L396.83,828.89 L397.31,828.17 L397.72,827.45 L397.91,826.74 L397.82,826.02 L397.48,825.30 L397.01,824.58 M403.14,840.40 L403.48,839.70 L404.28,839.00 L405.18,838.30 L405.77,837.60 L405.79,836.90 L405.21,836.20 L404.31,835.50 L403.50,834.79 L403.14,834.09 L404.31,833.39 L403.71,832.69 L403.29,831.99 L403.55,831.29 L403.66,830.59 L403.96,829.89 L404.39,829.19 L404.84,828.49 L405.21,827.79 L405.42,827.09 L405.42,826.39 L405.22,825.69 L404.84,824.99 L404.39,824.29 L403.96,823.58 L403.66,822.88 L403.55,822.18 L403.65,821.48" fill="none" stroke="#8a8a94" stroke-width="0.8" stroke-linejoin="round"/>
<circle cx="389.80" cy="805.20" r="3.7" fill="url(#headg)" stroke="#c8b44c" stroke-width="0.9"/>
<circle cx="396.80" cy="805.20" r="3.7" fill="url(#headg)" stroke="#c8b44c" stroke-width="0.9"/>
<circle cx="403.80" cy="805.20" r="3.7" fill="url(#headg)" stroke="#c8b44c" stroke-width="0.9"/>
<circle cx="389.80" cy="844.40" r="3.7" fill="url(#headg)" stroke="#c8b44c" stroke-width="0.9"/>
<circle cx="396.80" cy="844.40" r="3.7" fill="url(#headg)" stroke="#c8b44c" stroke-width="0.9"/>
<circle cx="403.80" cy="844.40" r="3.7" fill="url(#headg)" stroke="#c8b44c" stroke-width="0.9"/>
<path d="M425.07,809.20 L424.76,809.93 L425.07,810.66 L425.84,811.39 L426.67,812.13 L427.11,812.86 L426.94,813.59 L426.24,814.32 L427.08,815.05 L426.77,815.78 L426.15,816.51 L425.73,817.25 L425.36,817.98 L425.14,818.71 L425.14,819.44 L425.35,820.17 L425.71,820.90 L426.14,821.63 L426.51,822.37 L426.74,823.10 L426.75,823.83 L426.55,824.56 M434.09,809.20 L433.15,809.92 L432.93,810.65 L433.55,811.37 L434.67,812.09 L435.69,812.82 L436.03,813.54 L435.52,814.27 L434.43,814.99 L433.36,815.71 L432.90,816.44 L434.79,817.16 L433.97,817.88 L433.28,818.61 L433.39,819.33 L433.44,820.05 L433.77,820.78 L434.29,821.50 L434.86,822.23 L435.33,822.95 L435.55,823.67 L435.48,824.40 L435.13,825.12 L434.60,825.84 L434.03,826.57 L433.58,827.29 L433.38,828.02 L433.47,828.74 L433.84,829.46 L434.38,830.19 M425.04,840.40 L425.46,839.70 L426.47,839.00 L427.19,838.30 L427.01,837.59 L426.07,836.89 L426.86,836.19 L426.18,835.49 L425.68,834.79 L425.39,834.09 L425.44,833.38 L425.80,832.68 L426.31,831.98 L426.74,831.28 L426.91,830.58 L426.74,829.88 L426.30,829.17 L425.79,828.47 M434.38,840.40 L434.49,839.69 L434.06,838.98 L433.29,838.26 L432.55,837.55 L432.19,836.84 L432.44,836.13 L432.20,835.41 L432.57,834.70 L432.78,833.99 L433.12,833.28 L433.52,832.56 L433.88,831.85 L434.11,831.14 L434.16,830.43 L434.02,829.71 L433.71,829.00" fill="none" stroke="#8a8a94" stroke-width="0.8" stroke-linejoin="round"/>
<circle cx="426.00" cy="805.20" r="3.7" fill="url(#headg)" stroke="#c8b44c" stroke-width="0.9"/>
<circle cx="434.00" cy="805.20" r="3.7" fill="url(#headg)" stroke="#c8b44c" stroke-width="0.9"/>
<circle cx="426.00" cy="844.40" r="3.7" fill="url(#headg)" stroke="#c8b44c" stroke-width="0.9"/>
<circle cx="434.00" cy="844.40" r="3.7" fill="url(#headg)" stroke="#c8b44c" stroke-width="0.9"/>
<line x1="313.90" y1="804.00" x2="313.90" y2="848.40" stroke="#4a4a4a" stroke-width="1.2" />
<line x1="322.70" y1="804.00" x2="322.70" y2="848.40" stroke="#4a4a4a" stroke-width="1.2" />
<line x1="348.40" y1="804.00" x2="348.40" y2="848.40" stroke="#4a4a4a" stroke-width="1.2" />
<line x1="354.30" y1="804.00" x2="354.30" y2="848.40" stroke="#4a4a4a" stroke-width="1.2" />
<line x1="378.10" y1="804.00" x2="378.10" y2="848.40" stroke="#4a4a4a" stroke-width="1.2" />
<line x1="387.50" y1="804.00" x2="387.50" y2="848.40" stroke="#4a4a4a" stroke-width="1.2" />
<line x1="410.30" y1="804.00" x2="410.30" y2="848.40" stroke="#4a4a4a" stroke-width="1.2" />
<line x1="420.20" y1="804.00" x2="420.20" y2="848.40" stroke="#4a4a4a" stroke-width="1.2" />
<path d="M297.20,861.30 C297.55,860.68 298.67,860.47 299.80,860.20 C300.93,859.93 302.68,859.97 304.00,859.70 C305.32,859.43 306.65,859.08 307.70,858.60 C308.75,858.12 309.55,857.18 310.30,856.80 C311.05,856.42 311.58,856.25 312.20,856.30 C312.82,856.35 313.43,856.75 314.00,857.10 C314.57,857.45 314.98,858.10 315.60,858.40 C316.22,858.70 317.00,858.95 317.70,858.90 C318.40,858.85 319.07,858.37 319.80,858.10 C320.53,857.83 321.32,857.25 322.10,857.30 C322.88,857.35 323.92,857.83 324.50,858.40 C325.08,858.97 325.47,859.78 325.60,860.70 C325.73,861.62 325.65,862.85 325.30,863.90 C324.95,864.95 324.15,866.03 323.50,867.00 C322.85,867.97 321.88,868.90 321.40,869.70 C320.92,870.50 320.97,871.10 320.60,871.80 C320.23,872.50 320.03,873.38 319.20,873.90 C318.37,874.42 317.00,874.73 315.60,874.90 C314.20,875.07 312.30,875.07 310.80,874.90 C309.30,874.73 308.00,874.52 306.60,873.90 C305.20,873.28 303.62,872.35 302.40,871.20 C301.18,870.05 300.08,868.22 299.30,867.00 C298.52,865.78 298.05,864.85 297.70,863.90 C297.35,862.95 296.85,861.92 297.20,861.30Z" fill="url(#enzg)" stroke="#1b140c" stroke-width="1.35" stroke-linejoin="round"/>
<path d="M329.90,861.30 C330.25,860.68 331.37,860.47 332.50,860.20 C333.63,859.93 335.38,859.97 336.70,859.70 C338.02,859.43 339.35,859.08 340.40,858.60 C341.45,858.12 342.25,857.18 343.00,856.80 C343.75,856.42 344.28,856.25 344.90,856.30 C345.52,856.35 346.13,856.75 346.70,857.10 C347.27,857.45 347.68,858.10 348.30,858.40 C348.92,858.70 349.70,858.95 350.40,858.90 C351.10,858.85 351.77,858.37 352.50,858.10 C353.23,857.83 354.02,857.25 354.80,857.30 C355.58,857.35 356.62,857.83 357.20,858.40 C357.78,858.97 358.17,859.78 358.30,860.70 C358.43,861.62 358.35,862.85 358.00,863.90 C357.65,864.95 356.85,866.03 356.20,867.00 C355.55,867.97 354.58,868.90 354.10,869.70 C353.62,870.50 353.67,871.10 353.30,871.80 C352.93,872.50 352.73,873.38 351.90,873.90 C351.07,874.42 349.70,874.73 348.30,874.90 C346.90,875.07 345.00,875.07 343.50,874.90 C342.00,874.73 340.70,874.52 339.30,873.90 C337.90,873.28 336.32,872.35 335.10,871.20 C333.88,870.05 332.78,868.22 332.00,867.00 C331.22,865.78 330.75,864.85 330.40,863.90 C330.05,862.95 329.55,861.92 329.90,861.30Z" fill="url(#enzg)" stroke="#1b140c" stroke-width="1.35" stroke-linejoin="round"/>
<path d="M362.60,861.30 C362.95,860.68 364.07,860.47 365.20,860.20 C366.33,859.93 368.08,859.97 369.40,859.70 C370.72,859.43 372.05,859.08 373.10,858.60 C374.15,858.12 374.95,857.18 375.70,856.80 C376.45,856.42 376.98,856.25 377.60,856.30 C378.22,856.35 378.83,856.75 379.40,857.10 C379.97,857.45 380.38,858.10 381.00,858.40 C381.62,858.70 382.40,858.95 383.10,858.90 C383.80,858.85 384.47,858.37 385.20,858.10 C385.93,857.83 386.72,857.25 387.50,857.30 C388.28,857.35 389.32,857.83 389.90,858.40 C390.48,858.97 390.87,859.78 391.00,860.70 C391.13,861.62 391.05,862.85 390.70,863.90 C390.35,864.95 389.55,866.03 388.90,867.00 C388.25,867.97 387.28,868.90 386.80,869.70 C386.32,870.50 386.37,871.10 386.00,871.80 C385.63,872.50 385.43,873.38 384.60,873.90 C383.77,874.42 382.40,874.73 381.00,874.90 C379.60,875.07 377.70,875.07 376.20,874.90 C374.70,874.73 373.40,874.52 372.00,873.90 C370.60,873.28 369.02,872.35 367.80,871.20 C366.58,870.05 365.48,868.22 364.70,867.00 C363.92,865.78 363.45,864.85 363.10,863.90 C362.75,862.95 362.25,861.92 362.60,861.30Z" fill="url(#enzg)" stroke="#1b140c" stroke-width="1.35" stroke-linejoin="round"/>
<path d="M395.30,861.30 C395.65,860.68 396.77,860.47 397.90,860.20 C399.03,859.93 400.78,859.97 402.10,859.70 C403.42,859.43 404.75,859.08 405.80,858.60 C406.85,858.12 407.65,857.18 408.40,856.80 C409.15,856.42 409.68,856.25 410.30,856.30 C410.92,856.35 411.53,856.75 412.10,857.10 C412.67,857.45 413.08,858.10 413.70,858.40 C414.32,858.70 415.10,858.95 415.80,858.90 C416.50,858.85 417.17,858.37 417.90,858.10 C418.63,857.83 419.42,857.25 420.20,857.30 C420.98,857.35 422.02,857.83 422.60,858.40 C423.18,858.97 423.57,859.78 423.70,860.70 C423.83,861.62 423.75,862.85 423.40,863.90 C423.05,864.95 422.25,866.03 421.60,867.00 C420.95,867.97 419.98,868.90 419.50,869.70 C419.02,870.50 419.07,871.10 418.70,871.80 C418.33,872.50 418.13,873.38 417.30,873.90 C416.47,874.42 415.10,874.73 413.70,874.90 C412.30,875.07 410.40,875.07 408.90,874.90 C407.40,874.73 406.10,874.52 404.70,873.90 C403.30,873.28 401.72,872.35 400.50,871.20 C399.28,870.05 398.18,868.22 397.40,867.00 C396.62,865.78 396.15,864.85 395.80,863.90 C395.45,862.95 394.95,861.92 395.30,861.30Z" fill="url(#enzg)" stroke="#1b140c" stroke-width="1.35" stroke-linejoin="round"/>
<circle cx="317.80" cy="765.50" r="3.0" fill="#2f4ea3" stroke="none" stroke-width="0"/>
<circle cx="332.60" cy="775.60" r="3.0" fill="#2f4ea3" stroke="none" stroke-width="0"/>
<circle cx="357.60" cy="787.00" r="3.0" fill="#2f4ea3" stroke="none" stroke-width="0"/>
<circle cx="396.80" cy="778.40" r="3.0" fill="#2f4ea3" stroke="none" stroke-width="0"/>
<circle cx="317.80" cy="826.20" r="3.0" fill="#2f4ea3" stroke="none" stroke-width="0"/>
<circle cx="415.00" cy="818.50" r="3.0" fill="#2f4ea3" stroke="none" stroke-width="0"/>
<path d="M294.00,776.50 C293.77,777.20 292.02,779.30 292.60,780.70 C293.18,782.10 294.53,783.93 297.50,784.90 C300.47,785.87 305.53,786.03 310.40,786.50 C315.27,786.97 322.03,787.18 326.70,787.70 C331.37,788.22 335.08,788.63 338.40,789.60 C341.72,790.57 344.85,791.48 346.60,793.50 C348.35,795.52 348.42,797.28 348.90,801.70 C349.38,806.12 349.35,813.62 349.50,820.00 C349.65,826.38 349.75,836.67 349.80,840.00" fill="none" stroke="#1a1a1a" stroke-width="1.05" stroke-dasharray="1.1 1.5" stroke-linecap="butt"/>
<path d="M350.10,846.40 L347.44,841.84 L350.05,843.00 L352.64,841.77 Z" fill="#111"/>
<path d="M333.40,778.20 C333.65,778.67 333.87,779.80 334.90,781.00 C335.93,782.20 337.65,784.87 339.60,785.40 C341.55,785.93 344.07,785.37 346.60,784.20 C349.13,783.03 352.27,779.57 354.80,778.40 C357.33,777.23 359.67,777.60 361.80,777.20 C363.93,776.80 365.67,776.97 367.60,776.00 C369.53,775.03 371.65,772.47 373.40,771.40 C375.15,770.33 376.73,769.87 378.10,769.60 C379.47,769.33 381.02,769.77 381.60,769.80" fill="none" stroke="#1a1a1a" stroke-width="1.05" stroke-dasharray="1.1 1.5" stroke-linecap="butt"/>
<path d="M385.80,770.20 L381.03,772.48 L382.41,769.97 L381.39,767.29 Z" fill="#111"/>
<path d="M399.00,780.40 C399.27,780.70 400.17,780.83 400.60,782.20 C401.03,783.57 402.03,786.93 401.60,788.60 C401.17,790.27 400.35,791.97 398.00,792.20 C395.65,792.43 391.60,790.55 387.50,790.00 C383.40,789.45 376.92,788.70 373.40,788.90 C369.88,789.10 367.33,789.95 366.40,791.20 C365.47,792.45 365.85,795.23 367.80,796.40 C369.75,797.57 373.27,797.78 378.10,798.20 C382.93,798.62 389.78,798.90 396.80,798.90 C403.82,798.90 415.40,798.85 420.20,798.20 C425.00,797.55 424.33,795.87 425.60,795.00 C426.87,794.13 427.43,793.33 427.80,793.00" fill="none" stroke="#1a1a1a" stroke-width="1.05" stroke-dasharray="1.1 1.5" stroke-linecap="butt"/>
<path d="M431.00,789.80 L429.59,794.89 L428.60,792.20 L425.91,791.21 Z" fill="#111"/>
<circle cx="351.20" cy="853.60" r="3.1" fill="#3bb54a" stroke="none" stroke-width="0"/>
<circle cx="415.00" cy="853.60" r="3.1" fill="#3bb54a" stroke="none" stroke-width="0"/>
<path d="M354.80,869.40 C355.13,870.17 356.10,872.73 356.80,874.00 C357.50,875.27 358.63,876.50 359.00,877.00" fill="none" stroke="#1a1a1a" stroke-width="1.05" stroke-dasharray="1.1 1.5" stroke-linecap="butt"/>
<path d="M361.40,880.00 L356.45,878.16 L359.21,877.40 L360.43,874.81 Z" fill="#111"/>
<path d="M420.00,869.80 C420.17,870.60 421.17,873.17 421.00,874.60 C420.83,876.03 420.83,877.37 419.00,878.40 C417.17,879.43 412.58,880.20 410.00,880.80 C407.42,881.40 404.58,881.80 403.50,882.00" fill="none" stroke="#1a1a1a" stroke-width="1.05" stroke-dasharray="1.1 1.5" stroke-linecap="butt"/>
<path d="M399.20,883.40 L402.87,879.60 L402.46,882.43 L404.35,884.59 Z" fill="#111"/>
<path d="M365.30,882.60 L369.60,888.20 L361.00,888.20 Z" fill="#3bb54a"/>
<path d="M389.30,883.00 L393.60,888.60 L385.00,888.60 Z" fill="#3bb54a"/>
<path d="M301.5,887.0 L353.2,904.8 L353.2,918.2 M423.3,887.0 L369.3,904.8 L369.3,918.2" fill="none" stroke="#1e1e1e" stroke-width="1.9"/>
<path d="M301.00,951.00 C301.77,950.92 304.35,951.55 305.60,950.50 C306.85,949.45 307.72,946.67 308.50,944.70 C309.28,942.73 310.40,939.68 310.30,938.70 C310.20,937.72 308.47,937.88 307.90,938.80 C307.33,939.72 306.95,942.52 306.90,944.20 C306.85,945.88 306.80,947.08 307.60,948.90 C308.40,950.72 310.17,954.07 311.70,955.10 C313.23,956.13 315.62,956.30 316.80,955.10 C317.98,953.90 318.47,949.10 318.80,947.90" fill="none" stroke="#5d60a8" stroke-width="1.25" stroke-linecap="round"/>
<path d="M343.90,943.30 C345.00,943.73 349.65,944.45 350.50,945.90 C351.35,947.35 349.85,949.97 349.00,952.00 C348.15,954.03 345.65,956.23 345.40,958.10 C345.15,959.97 346.65,961.67 347.50,963.20 C348.35,964.73 350.00,966.62 350.50,967.30" fill="none" stroke="#5d60a8" stroke-width="1.25" stroke-linecap="round"/>
<path d="M319.00,943.60 C318.77,944.02 318.12,944.72 318.02,945.35 C317.92,945.99 318.31,946.78 318.40,947.40 C318.49,948.02 318.27,948.51 318.55,949.05 C318.83,949.58 319.67,950.17 320.10,950.60 C320.53,951.03 320.57,951.36 321.14,951.62 C321.70,951.89 322.91,951.97 323.50,952.20 C324.09,952.43 324.10,952.88 324.68,953.01 C325.27,953.15 326.37,952.78 327.00,953.00 C327.63,953.22 327.87,954.10 328.46,954.34 C329.04,954.57 329.80,954.29 330.50,954.40 C331.20,954.51 331.97,955.02 332.64,954.99 C333.30,954.95 333.83,954.33 334.50,954.20 C335.17,954.07 336.10,954.39 336.67,954.22 C337.23,954.06 337.29,953.40 337.90,953.20 C338.51,953.00 339.72,953.20 340.32,953.03 C340.92,952.86 340.96,952.53 341.50,952.20 C342.04,951.87 343.08,951.49 343.53,951.06 C343.98,950.63 343.93,950.16 344.20,949.60 C344.47,949.04 345.07,948.31 345.15,947.67 C345.23,947.04 344.76,946.40 344.70,945.80 C344.64,945.20 344.97,944.60 344.77,944.10 C344.57,943.60 343.96,943.04 343.50,942.80 C343.04,942.56 342.72,942.58 342.02,942.63 C341.32,942.68 339.96,943.10 339.30,943.10 C338.64,943.10 338.64,942.62 338.04,942.60 C337.44,942.59 336.34,943.03 335.70,943.00 C335.06,942.97 334.82,942.41 334.22,942.43 C333.62,942.44 332.82,943.08 332.10,943.10 C331.38,943.12 330.56,942.52 329.88,942.57 C329.20,942.62 328.73,943.39 328.00,943.40 C327.27,943.41 326.16,942.71 325.50,942.61 C324.83,942.51 324.59,942.85 324.00,942.80 C323.41,942.75 322.44,942.36 321.96,942.33 C321.47,942.29 321.52,942.52 321.10,942.60 C320.68,942.68 319.76,942.64 319.41,942.81 C319.06,942.98 319.23,943.18 319.00,943.60Z" fill="url(#ribS)" stroke="#2a161c" stroke-width="1.45" stroke-linejoin="round"/>
<path d="M331.60,926.60 C330.87,926.61 330.31,926.04 329.73,926.16 C329.14,926.28 328.70,927.11 328.10,927.30 C327.50,927.49 326.67,927.07 326.15,927.31 C325.63,927.54 325.55,928.33 325.00,928.70 C324.45,929.07 323.34,929.07 322.82,929.50 C322.31,929.94 322.36,930.80 321.90,931.30 C321.44,931.80 320.41,932.02 320.04,932.50 C319.67,932.98 320.00,933.62 319.70,934.20 C319.40,934.78 318.47,935.39 318.25,935.99 C318.03,936.59 318.45,937.15 318.40,937.80 C318.35,938.45 317.86,939.28 317.98,939.91 C318.10,940.55 318.86,941.07 319.10,941.60 C319.34,942.13 319.07,942.73 319.41,943.10 C319.74,943.47 320.68,943.54 321.10,943.80 C321.52,944.06 321.47,944.54 321.96,944.64 C322.44,944.74 323.40,944.24 324.00,944.40 C324.60,944.56 324.92,945.42 325.58,945.58 C326.25,945.75 327.27,945.41 328.00,945.40 C328.73,945.39 329.25,945.76 329.93,945.54 C330.62,945.32 331.40,944.22 332.10,944.10 C332.80,943.98 333.55,944.83 334.15,944.81 C334.75,944.79 335.06,944.02 335.70,944.00 C336.34,943.98 337.40,944.66 338.00,944.68 C338.60,944.69 338.71,944.22 339.30,944.10 C339.89,943.98 341.01,944.15 341.54,943.93 C342.07,943.72 342.08,943.24 342.50,942.80 C342.92,942.36 343.78,941.90 344.04,941.30 C344.31,940.70 343.97,939.85 344.10,939.20 C344.23,938.55 344.83,938.00 344.80,937.37 C344.76,936.74 344.07,936.05 343.90,935.40 C343.73,934.75 344.08,934.06 343.78,933.48 C343.48,932.90 342.50,932.46 342.10,931.90 C341.70,931.34 341.85,930.59 341.39,930.14 C340.92,929.69 339.82,929.63 339.30,929.20 C338.78,928.77 338.77,927.91 338.25,927.58 C337.74,927.24 336.89,927.44 336.20,927.20 C335.51,926.96 334.88,926.23 334.12,926.13 C333.35,926.03 332.33,926.59 331.60,926.60Z" fill="url(#ribL)" stroke="#33191a" stroke-width="1.45" stroke-linejoin="round"/>
<path d="M362.30,951.00 C363.07,950.92 365.65,951.55 366.90,950.50 C368.15,949.45 369.02,946.67 369.80,944.70 C370.58,942.73 371.70,939.68 371.60,938.70 C371.50,937.72 369.77,937.88 369.20,938.80 C368.63,939.72 368.25,942.52 368.20,944.20 C368.15,945.88 368.10,947.08 368.90,948.90 C369.70,950.72 371.47,954.07 373.00,955.10 C374.53,956.13 376.92,956.30 378.10,955.10 C379.28,953.90 379.77,949.10 380.10,947.90" fill="none" stroke="#5d60a8" stroke-width="1.25" stroke-linecap="round"/>
<path d="M405.20,943.30 C406.30,943.73 410.95,944.45 411.80,945.90 C412.65,947.35 411.15,949.97 410.30,952.00 C409.45,954.03 406.95,956.23 406.70,958.10 C406.45,959.97 407.95,961.67 408.80,963.20 C409.65,964.73 411.30,966.62 411.80,967.30" fill="none" stroke="#5d60a8" stroke-width="1.25" stroke-linecap="round"/>
<path d="M380.30,943.60 C380.07,944.02 379.42,944.72 379.32,945.35 C379.22,945.99 379.61,946.78 379.70,947.40 C379.79,948.02 379.57,948.51 379.85,949.05 C380.13,949.58 380.97,950.17 381.40,950.60 C381.83,951.03 381.87,951.36 382.44,951.62 C383.00,951.89 384.21,951.97 384.80,952.20 C385.39,952.43 385.40,952.88 385.98,953.01 C386.57,953.15 387.67,952.78 388.30,953.00 C388.93,953.22 389.17,954.10 389.76,954.34 C390.34,954.57 391.10,954.29 391.80,954.40 C392.50,954.51 393.27,955.02 393.94,954.99 C394.60,954.95 395.13,954.33 395.80,954.20 C396.47,954.07 397.40,954.39 397.97,954.22 C398.53,954.06 398.59,953.40 399.20,953.20 C399.81,953.00 401.02,953.20 401.62,953.03 C402.22,952.86 402.26,952.53 402.80,952.20 C403.34,951.87 404.38,951.49 404.83,951.06 C405.28,950.63 405.23,950.16 405.50,949.60 C405.77,949.04 406.37,948.31 406.45,947.67 C406.53,947.04 406.06,946.40 406.00,945.80 C405.94,945.20 406.27,944.60 406.07,944.10 C405.87,943.60 405.26,943.04 404.80,942.80 C404.34,942.56 404.02,942.58 403.32,942.63 C402.62,942.68 401.26,943.10 400.60,943.10 C399.94,943.10 399.94,942.62 399.34,942.60 C398.74,942.59 397.64,943.03 397.00,943.00 C396.36,942.97 396.12,942.41 395.52,942.43 C394.92,942.44 394.12,943.08 393.40,943.10 C392.68,943.12 391.86,942.52 391.18,942.57 C390.50,942.62 390.03,943.39 389.30,943.40 C388.57,943.41 387.46,942.71 386.80,942.61 C386.13,942.51 385.89,942.85 385.30,942.80 C384.71,942.75 383.74,942.36 383.26,942.33 C382.77,942.29 382.82,942.52 382.40,942.60 C381.98,942.68 381.06,942.64 380.71,942.81 C380.36,942.98 380.53,943.18 380.30,943.60Z" fill="url(#ribS)" stroke="#2a161c" stroke-width="1.45" stroke-linejoin="round"/>
<path d="M392.90,926.60 C392.17,926.61 391.61,926.04 391.03,926.16 C390.44,926.28 390.00,927.11 389.40,927.30 C388.80,927.49 387.97,927.07 387.45,927.31 C386.93,927.54 386.85,928.33 386.30,928.70 C385.75,929.07 384.64,929.07 384.12,929.50 C383.61,929.94 383.66,930.80 383.20,931.30 C382.74,931.80 381.71,932.02 381.34,932.50 C380.97,932.98 381.30,933.62 381.00,934.20 C380.70,934.78 379.77,935.39 379.55,935.99 C379.33,936.59 379.75,937.15 379.70,937.80 C379.65,938.45 379.16,939.28 379.28,939.91 C379.40,940.55 380.16,941.07 380.40,941.60 C380.64,942.13 380.37,942.73 380.71,943.10 C381.04,943.47 381.98,943.54 382.40,943.80 C382.82,944.06 382.77,944.54 383.26,944.64 C383.74,944.74 384.70,944.24 385.30,944.40 C385.90,944.56 386.22,945.42 386.88,945.58 C387.55,945.75 388.57,945.41 389.30,945.40 C390.03,945.39 390.55,945.76 391.23,945.54 C391.92,945.32 392.70,944.22 393.40,944.10 C394.10,943.98 394.85,944.83 395.45,944.81 C396.05,944.79 396.36,944.02 397.00,944.00 C397.64,943.98 398.70,944.66 399.30,944.68 C399.90,944.69 400.01,944.22 400.60,944.10 C401.19,943.98 402.31,944.15 402.84,943.93 C403.37,943.72 403.38,943.24 403.80,942.80 C404.22,942.36 405.08,941.90 405.34,941.30 C405.61,940.70 405.27,939.85 405.40,939.20 C405.53,938.55 406.13,938.00 406.10,937.37 C406.06,936.74 405.37,936.05 405.20,935.40 C405.03,934.75 405.38,934.06 405.08,933.48 C404.78,932.90 403.80,932.46 403.40,931.90 C403.00,931.34 403.15,930.59 402.69,930.14 C402.22,929.69 401.12,929.63 400.60,929.20 C400.08,928.77 400.07,927.91 399.55,927.58 C399.04,927.24 398.19,927.44 397.50,927.20 C396.81,926.96 396.18,926.23 395.42,926.13 C394.65,926.03 393.63,926.59 392.90,926.60Z" fill="url(#ribL)" stroke="#33191a" stroke-width="1.45" stroke-linejoin="round"/>
<path d="M327.50,1016.80 A34.5,34.5 0 0 1 396.50,1016.80" fill="none" stroke="#0d0d0d" stroke-width="2.0"/>
<path d="M363.23,1015.63 L341.50,995.30 L360.77,1017.97 Z" fill="#9b3a5c"/>
<path d="M363.80,1016.85 L362.80,985.00 L360.20,1016.75 Z" fill="#f3a22a"/>
<path d="M362.60,1016.82 L363.20,985.50 L361.40,1016.78 Z" fill="#f6c64a"/>
<line x1="326.50" y1="1017.10" x2="397.50" y2="1017.10" stroke="#0d0d0d" stroke-width="3.0" />
<circle cx="362.00" cy="1016.50" r="2.6" fill="#111" stroke="none" stroke-width="0"/>
<text x="361.00" y="978.00" font-size="12.2" text-anchor="middle" font-weight="normal" font-style="normal" fill="#231f20" >0.5</text>
<text x="318.10" y="1021.20" font-size="12.2" text-anchor="middle" font-weight="normal" font-style="normal" fill="#231f20" >0</text>
<text x="405.10" y="1021.20" font-size="12.2" text-anchor="middle" font-weight="normal" font-style="normal" fill="#231f20" >1</text>
<text x="361.10" y="1037.00" font-size="12.6" text-anchor="middle" fill="#231f20"><tspan font-style="italic">k</tspan><tspan font-size="9.2" dy="2.6">eff</tspan></text>
<line x1="350.10" y1="1042.00" x2="372.10" y2="1042.00" stroke="#231f20" stroke-width="0.9" />
<text x="361.10" y="1053.60" font-size="12.6" text-anchor="middle" fill="#231f20"><tspan font-style="italic">k</tspan><tspan font-size="9.2" dy="2.6">cat</tspan></text>
<path d="M515.02,810.60 L514.76,811.33 L515.12,812.07 L515.91,812.80 L516.71,813.54 L517.12,814.27 L516.92,815.00 L517.11,815.74 L517.08,816.47 L516.51,817.21 L516.14,817.94 L515.72,818.67 L515.35,819.41 L515.14,820.14 L515.14,820.88 L515.35,821.61 L515.71,822.34 L516.14,823.08 L516.51,823.81 M524.65,810.60 L525.54,811.31 L525.82,812.02 L525.36,812.72 L524.38,813.43 L523.37,814.14 L522.84,814.85 L523.05,815.55 L523.90,816.26 L524.96,816.97 L525.70,817.68 L523.60,818.39 L524.33,819.09 L525.06,819.80 L525.22,820.51 L525.38,821.22 L525.27,821.92 L524.93,822.63 L524.44,823.34 L523.91,824.05 L523.50,824.76 L523.28,825.46 L523.33,826.17 L523.63,826.88 L524.10,827.59 L524.63,828.29 L525.08,829.00 L525.34,829.71 L525.35,830.42 L525.10,831.13 M530.06,810.60 L530.48,811.31 L531.96,812.02 L533.12,812.73 L532.90,813.44 L531.50,814.15 L530.21,814.87 L530.22,815.58 L531.52,816.29 L532.91,817.00 L530.22,817.71 L531.05,818.42 L532.15,819.13 L532.58,819.84 L532.72,820.55 L532.34,821.26 L531.62,821.98 L530.90,822.69 L530.51,823.40 L530.65,824.11 L531.25,824.82 L532.02,825.53 L532.60,826.24 L532.72,826.95 L532.32,827.66 L531.59,828.37 L530.87,829.08 L530.51,829.80 L530.67,830.51 M516.71,841.70 L517.36,840.98 L518.39,840.26 L519.19,839.54 L519.24,838.82 L518.53,838.11 L517.48,837.39 L516.76,836.67 L516.80,835.95 L517.59,835.23 L516.76,834.51 L516.70,833.79 L517.05,833.07 L517.78,832.35 L518.30,831.64 L518.73,830.92 L518.92,830.20 L518.83,829.48 L518.48,828.76 L517.98,828.04 L517.48,827.32 L517.15,826.60 L517.08,825.88 L517.30,825.16 L517.74,824.45 L518.26,823.73 L518.69,823.01 L518.92,822.29 M524.54,841.70 L524.75,840.97 L525.60,840.24 L526.56,839.50 L527.05,838.77 L526.77,838.04 L525.88,837.31 L526.83,836.57 L526.27,835.84 L525.63,835.11 L525.19,834.38 L524.93,833.65 L524.93,832.91 L525.20,832.18 L525.66,831.45 L526.15,830.72 L526.53,829.99 L526.68,829.25 L526.55,828.52 M532.40,841.70 L531.22,840.97 L530.32,840.25 L530.38,839.52 L531.37,838.79 L532.52,838.06 L532.96,837.34 L532.42,836.61 L532.91,835.88 L532.50,835.16 L532.13,834.43 L531.55,833.70 L530.99,832.97 L530.66,832.25 L530.69,831.52 L531.07,830.79 L531.65,830.07 L532.20,829.34 L532.52,828.61 L532.48,827.88 L532.09,827.16" fill="none" stroke="#8a8a94" stroke-width="0.8" stroke-linejoin="round"/>
<circle cx="515.40" cy="806.60" r="3.7" fill="url(#headg)" stroke="#c8b44c" stroke-width="0.9"/>
<circle cx="523.60" cy="806.60" r="3.7" fill="url(#headg)" stroke="#c8b44c" stroke-width="0.9"/>
<circle cx="531.60" cy="806.60" r="3.7" fill="url(#headg)" stroke="#c8b44c" stroke-width="0.9"/>
<circle cx="518.70" cy="845.70" r="3.7" fill="url(#headg)" stroke="#c8b44c" stroke-width="0.9"/>
<circle cx="526.30" cy="845.70" r="3.7" fill="url(#headg)" stroke="#c8b44c" stroke-width="0.9"/>
<circle cx="531.80" cy="845.70" r="3.7" fill="url(#headg)" stroke="#c8b44c" stroke-width="0.9"/>
<path d="M545.37,809.90 L545.68,810.62 L547.00,811.35 L548.40,812.07 L548.87,812.79 L548.07,813.52 L546.58,814.24 L548.20,814.97 L547.20,815.69 L546.44,816.41 L545.95,817.14 L545.88,817.86 L546.25,818.58 L546.92,819.31 L547.66,820.03 L548.20,820.75 L548.34,821.48 L548.03,822.20 L547.39,822.93 L546.64,823.65 M554.87,809.90 L553.71,810.62 L553.18,811.34 L553.58,812.07 L554.68,812.79 L555.85,813.51 L556.43,814.23 L555.75,814.96 L556.30,815.68 L555.94,816.40 L555.69,817.12 L555.20,817.85 L554.59,818.57 L554.04,819.29 L553.71,820.01 L553.70,820.73 L554.01,821.46 L554.54,822.18 L555.15,822.90 L555.66,823.62 L555.93,824.35 M563.07,809.90 L563.86,810.62 L563.07,811.35 L561.43,812.07 L560.42,812.79 L560.97,813.52 L562.58,814.24 L563.77,814.96 L563.47,815.68 L563.05,816.41 L563.77,817.13 L563.25,817.85 L562.70,818.58 L561.88,819.30 L561.18,820.02 L560.92,820.75 L561.22,821.47 L561.95,822.19 L562.76,822.92 L563.27,823.64 L563.26,824.36 L562.72,825.08 L561.90,825.81 L561.19,826.53 L560.92,827.25 M546.42,841.10 L546.45,840.39 L547.36,839.68 L548.54,838.97 L549.21,838.26 L548.91,837.55 L547.84,836.84 L546.73,836.13 L546.31,835.43 L547.47,834.72 L546.73,834.01 L546.33,833.30 L546.82,832.59 L547.21,831.88 L547.78,831.17 L548.35,830.46 L548.72,829.75 L548.77,829.04 L548.48,828.33 L547.95,827.62 L547.36,826.91 L546.90,826.20 L546.74,825.49 L546.93,824.79 L547.40,824.08 L547.99,823.37 M555.30,841.10 L554.69,840.40 L553.74,839.69 L553.02,838.99 L552.95,838.28 L553.57,837.58 L554.51,836.88 L553.48,836.17 L554.13,835.47 L554.58,834.76 L554.90,834.06 L554.99,833.35 L554.83,832.65 L554.46,831.95 L553.99,831.24 L553.56,830.54 L553.30,829.83 L553.28,829.13 L553.52,828.43 M560.64,841.10 L560.61,840.37 L561.86,839.65 L563.39,838.92 L563.97,838.19 L563.13,837.46 L561.56,836.74 L563.27,836.01 L562.20,835.28 L561.45,834.55 L561.01,833.83 L561.06,833.10 L561.57,832.37 L562.34,831.65 L563.06,830.92 L563.43,830.19 L563.30,829.46 L562.73,828.74 L561.94,828.01" fill="none" stroke="#8a8a94" stroke-width="0.8" stroke-linejoin="round"/>
<circle cx="547.10" cy="805.90" r="3.7" fill="url(#headg)" stroke="#c8b44c" stroke-width="0.9"/>
<circle cx="554.50" cy="805.90" r="3.7" fill="url(#headg)" stroke="#c8b44c" stroke-width="0.9"/>
<circle cx="561.90" cy="805.90" r="3.7" fill="url(#headg)" stroke="#c8b44c" stroke-width="0.9"/>
<circle cx="547.10" cy="845.10" r="3.7" fill="url(#headg)" stroke="#c8b44c" stroke-width="0.9"/>
<circle cx="554.50" cy="845.10" r="3.7" fill="url(#headg)" stroke="#c8b44c" stroke-width="0.9"/>
<circle cx="561.90" cy="845.10" r="3.7" fill="url(#headg)" stroke="#c8b44c" stroke-width="0.9"/>
<path d="M578.72,809.90 L578.44,810.63 L577.20,811.35 L576.01,812.08 L575.85,812.81 L576.86,813.53 L578.20,814.26 L578.77,814.99 L578.11,815.72 L578.49,816.44 L578.77,817.17 L578.08,817.90 L577.49,818.62 L576.81,819.35 L576.32,820.08 L576.23,820.80 L576.57,821.53 L577.20,822.26 L577.86,822.98 L578.27,823.71 L578.26,824.44 L577.84,825.16 L577.17,825.89 L576.55,826.62 M585.40,809.90 L584.24,810.63 L583.10,811.37 L583.03,812.10 L584.09,812.84 L585.31,813.57 L585.58,814.30 L585.22,815.04 L585.63,815.77 L585.06,816.50 L584.53,817.24 L583.88,817.97 L583.41,818.71 L583.34,819.44 L583.70,820.17 L584.33,820.91 L584.93,821.64 L585.22,822.37 L585.06,823.11 M592.25,809.90 L591.45,810.62 L590.87,811.35 L590.77,812.07 L591.20,812.79 L591.96,813.51 L592.72,814.24 L593.12,814.96 L592.44,815.68 L592.89,816.40 L592.77,817.13 L592.74,817.85 L592.54,818.57 L592.20,819.29 L591.80,820.02 L591.43,820.74 L591.18,821.46 L591.10,822.19 L591.21,822.91 L591.48,823.63 L591.86,824.35 L592.25,825.08 L592.58,825.80 M583.91,840.60 L582.91,839.89 L582.57,839.17 L583.07,838.46 L584.15,837.75 L585.29,837.04 L585.90,836.32 L585.70,835.61 L584.77,834.90 L585.93,834.19 L585.70,833.47 L584.85,832.76 L584.28,832.05 L583.71,831.34 L583.27,830.62 L583.07,829.91 L583.17,829.20 L583.54,828.48 L584.08,827.77 L584.67,827.06 L585.15,826.35 L585.40,825.63 L585.37,824.92 L585.06,824.21 M590.23,840.60 L590.43,839.87 L591.67,839.14 L593.04,838.41 L593.55,837.68 L592.81,836.95 L591.37,836.22 L590.28,835.49 L591.96,834.76 L590.96,834.03 L590.76,833.30 L590.69,832.57 L591.06,831.84 L591.73,831.11 L592.44,830.38 L592.93,829.65 L593.02,828.92 L592.68,828.19 L592.03,827.46 L591.31,826.73 L590.80,826.00 L590.67,825.27" fill="none" stroke="#8a8a94" stroke-width="0.8" stroke-linejoin="round"/>
<circle cx="576.70" cy="805.90" r="3.7" fill="url(#headg)" stroke="#c8b44c" stroke-width="0.9"/>
<circle cx="584.30" cy="805.90" r="3.7" fill="url(#headg)" stroke="#c8b44c" stroke-width="0.9"/>
<circle cx="591.50" cy="805.90" r="3.7" fill="url(#headg)" stroke="#c8b44c" stroke-width="0.9"/>
<circle cx="584.30" cy="844.60" r="3.7" fill="url(#headg)" stroke="#c8b44c" stroke-width="0.9"/>
<circle cx="591.50" cy="844.60" r="3.7" fill="url(#headg)" stroke="#c8b44c" stroke-width="0.9"/>
<path d="M611.59,809.90 L611.67,810.62 L612.65,811.34 L613.71,812.06 L613.97,812.79 L613.21,813.51 L612.06,814.23 L611.49,814.95 L611.97,815.67 L613.10,816.39 L613.94,817.11 L611.72,817.84 L612.39,818.56 L613.21,819.28 L613.51,820.00 L613.62,820.72 L613.36,821.44 L612.84,822.16 L612.28,822.89 L611.92,823.61 L611.91,824.33 L612.26,825.05 L612.81,825.77 L613.34,826.49 L613.62,827.21 L613.52,827.94 L613.10,828.66 L612.52,829.38 L612.05,830.10 L611.87,830.82 L612.06,831.54 M622.67,809.90 L622.63,810.61 L621.39,811.31 L619.95,812.02 L619.45,812.73 L620.30,813.43 L621.81,814.14 L622.79,814.85 L622.44,815.55 L621.05,816.26 L622.79,816.97 L622.69,817.67 L621.96,818.38 L620.97,819.09 L620.29,819.79 L619.96,820.50 L620.10,821.21 L620.66,821.91 L621.42,822.62 L622.06,823.33 L622.32,824.03 L622.10,824.74 L621.49,825.45 L620.73,826.15 L620.14,826.86 L619.95,827.56 L620.24,828.27 L620.89,828.98 M611.07,841.10 L612.01,840.40 L613.08,839.70 L613.79,839.00 L613.80,838.29 L613.11,837.59 L612.03,836.89 L613.20,836.19 L612.48,835.49 L611.89,834.79 L611.45,834.09 L611.21,833.38 L611.23,832.68 L611.50,831.98 L611.95,831.28 L612.49,830.58 L612.99,829.88 L613.32,829.18 L613.41,828.47 L613.24,827.77 M619.74,841.10 L619.86,840.36 L620.80,839.62 L621.88,838.88 L622.30,838.15 L621.75,837.41 L620.64,836.67 L621.84,835.93 L621.10,835.19 L620.52,834.45 L620.14,833.71 L620.08,832.98 L620.36,832.24 L620.87,831.50 L621.42,830.76 L621.81,830.02 L621.90,829.28 L621.64,828.54 L621.14,827.80" fill="none" stroke="#8a8a94" stroke-width="0.8" stroke-linejoin="round"/>
<circle cx="612.80" cy="805.90" r="3.7" fill="url(#headg)" stroke="#c8b44c" stroke-width="0.9"/>
<circle cx="620.40" cy="805.90" r="3.7" fill="url(#headg)" stroke="#c8b44c" stroke-width="0.9"/>
<circle cx="612.80" cy="845.10" r="3.7" fill="url(#headg)" stroke="#c8b44c" stroke-width="0.9"/>
<circle cx="620.40" cy="845.10" r="3.7" fill="url(#headg)" stroke="#c8b44c" stroke-width="0.9"/>
<line x1="534.80" y1="805.00" x2="534.80" y2="848.80" stroke="#4a4a4a" stroke-width="1.2" />
<line x1="543.00" y1="805.00" x2="543.00" y2="848.80" stroke="#4a4a4a" stroke-width="1.2" />
<line x1="566.70" y1="805.00" x2="566.70" y2="848.80" stroke="#4a4a4a" stroke-width="1.2" />
<line x1="575.60" y1="805.00" x2="575.60" y2="848.80" stroke="#4a4a4a" stroke-width="1.2" />
<line x1="598.60" y1="805.00" x2="598.60" y2="848.80" stroke="#4a4a4a" stroke-width="1.2" />
<line x1="607.50" y1="805.00" x2="607.50" y2="848.80" stroke="#4a4a4a" stroke-width="1.2" />
<path d="M518.50,861.10 C518.85,860.48 519.97,860.27 521.10,860.00 C522.23,859.73 523.98,859.77 525.30,859.50 C526.62,859.23 527.95,858.88 529.00,858.40 C530.05,857.92 530.85,856.98 531.60,856.60 C532.35,856.22 532.88,856.05 533.50,856.10 C534.12,856.15 534.73,856.55 535.30,856.90 C535.87,857.25 536.28,857.90 536.90,858.20 C537.52,858.50 538.30,858.75 539.00,858.70 C539.70,858.65 540.37,858.17 541.10,857.90 C541.83,857.63 542.62,857.05 543.40,857.10 C544.18,857.15 545.22,857.63 545.80,858.20 C546.38,858.77 546.77,859.58 546.90,860.50 C547.03,861.42 546.95,862.65 546.60,863.70 C546.25,864.75 545.45,865.83 544.80,866.80 C544.15,867.77 543.18,868.70 542.70,869.50 C542.22,870.30 542.27,870.90 541.90,871.60 C541.53,872.30 541.33,873.18 540.50,873.70 C539.67,874.22 538.30,874.53 536.90,874.70 C535.50,874.87 533.60,874.87 532.10,874.70 C530.60,874.53 529.30,874.32 527.90,873.70 C526.50,873.08 524.92,872.15 523.70,871.00 C522.48,869.85 521.38,868.02 520.60,866.80 C519.82,865.58 519.35,864.65 519.00,863.70 C518.65,862.75 518.15,861.72 518.50,861.10Z" fill="url(#enzg)" stroke="#1b140c" stroke-width="1.35" stroke-linejoin="round"/>
<path d="M551.40,861.10 C551.75,860.48 552.87,860.27 554.00,860.00 C555.13,859.73 556.88,859.77 558.20,859.50 C559.52,859.23 560.85,858.88 561.90,858.40 C562.95,857.92 563.75,856.98 564.50,856.60 C565.25,856.22 565.78,856.05 566.40,856.10 C567.02,856.15 567.63,856.55 568.20,856.90 C568.77,857.25 569.18,857.90 569.80,858.20 C570.42,858.50 571.20,858.75 571.90,858.70 C572.60,858.65 573.27,858.17 574.00,857.90 C574.73,857.63 575.52,857.05 576.30,857.10 C577.08,857.15 578.12,857.63 578.70,858.20 C579.28,858.77 579.67,859.58 579.80,860.50 C579.93,861.42 579.85,862.65 579.50,863.70 C579.15,864.75 578.35,865.83 577.70,866.80 C577.05,867.77 576.08,868.70 575.60,869.50 C575.12,870.30 575.17,870.90 574.80,871.60 C574.43,872.30 574.23,873.18 573.40,873.70 C572.57,874.22 571.20,874.53 569.80,874.70 C568.40,874.87 566.50,874.87 565.00,874.70 C563.50,874.53 562.20,874.32 560.80,873.70 C559.40,873.08 557.82,872.15 556.60,871.00 C555.38,869.85 554.28,868.02 553.50,866.80 C552.72,865.58 552.25,864.65 551.90,863.70 C551.55,862.75 551.05,861.72 551.40,861.10Z" fill="url(#enzg)" stroke="#1b140c" stroke-width="1.35" stroke-linejoin="round"/>
<path d="M583.30,861.10 C583.65,860.48 584.77,860.27 585.90,860.00 C587.03,859.73 588.78,859.77 590.10,859.50 C591.42,859.23 592.75,858.88 593.80,858.40 C594.85,857.92 595.65,856.98 596.40,856.60 C597.15,856.22 597.68,856.05 598.30,856.10 C598.92,856.15 599.53,856.55 600.10,856.90 C600.67,857.25 601.08,857.90 601.70,858.20 C602.32,858.50 603.10,858.75 603.80,858.70 C604.50,858.65 605.17,858.17 605.90,857.90 C606.63,857.63 607.42,857.05 608.20,857.10 C608.98,857.15 610.02,857.63 610.60,858.20 C611.18,858.77 611.57,859.58 611.70,860.50 C611.83,861.42 611.75,862.65 611.40,863.70 C611.05,864.75 610.25,865.83 609.60,866.80 C608.95,867.77 607.98,868.70 607.50,869.50 C607.02,870.30 607.07,870.90 606.70,871.60 C606.33,872.30 606.13,873.18 605.30,873.70 C604.47,874.22 603.10,874.53 601.70,874.70 C600.30,874.87 598.40,874.87 596.90,874.70 C595.40,874.53 594.10,874.32 592.70,873.70 C591.30,873.08 589.72,872.15 588.50,871.00 C587.28,869.85 586.18,868.02 585.40,866.80 C584.62,865.58 584.15,864.65 583.80,863.70 C583.45,862.75 582.95,861.72 583.30,861.10Z" fill="url(#enzg)" stroke="#1b140c" stroke-width="1.35" stroke-linejoin="round"/>
<circle cx="531.60" cy="764.10" r="3.0" fill="#2f4ea3" stroke="none" stroke-width="0"/>
<circle cx="520.60" cy="775.50" r="3.0" fill="#2f4ea3" stroke="none" stroke-width="0"/>
<circle cx="576.20" cy="759.20" r="3.0" fill="#2f4ea3" stroke="none" stroke-width="0"/>
<circle cx="570.50" cy="779.70" r="3.0" fill="#2f4ea3" stroke="none" stroke-width="0"/>
<circle cx="545.80" cy="786.90" r="3.0" fill="#2f4ea3" stroke="none" stroke-width="0"/>
<circle cx="583.40" cy="786.90" r="3.0" fill="#2f4ea3" stroke="none" stroke-width="0"/>
<circle cx="601.80" cy="784.80" r="3.0" fill="#2f4ea3" stroke="none" stroke-width="0"/>
<circle cx="571.00" cy="815.40" r="3.0" fill="#2f4ea3" stroke="none" stroke-width="0"/>
<circle cx="571.00" cy="830.90" r="3.0" fill="#2f4ea3" stroke="none" stroke-width="0"/>
<circle cx="603.10" cy="823.00" r="3.0" fill="#2f4ea3" stroke="none" stroke-width="0"/>
<circle cx="539.20" cy="838.50" r="3.0" fill="#2f4ea3" stroke="none" stroke-width="0"/>
<path d="M520.80,778.60 C521.02,778.93 521.25,779.47 522.10,780.60 C522.95,781.73 524.32,784.23 525.90,785.40 C527.48,786.57 529.55,787.60 531.60,787.60 C533.65,787.60 535.67,786.72 538.20,785.40 C540.73,784.08 544.12,780.82 546.80,779.70 C549.48,778.58 552.10,779.33 554.30,778.70 C556.50,778.07 558.42,777.08 560.00,775.90 C561.58,774.72 562.50,772.62 563.80,771.60 C565.10,770.58 567.13,770.10 567.80,769.80" fill="none" stroke="#1a1a1a" stroke-width="1.05" stroke-dasharray="1.1 1.5" stroke-linecap="butt"/>
<path d="M573.90,769.20 L569.59,772.25 L570.52,769.54 L569.06,767.08 Z" fill="#111"/>
<path d="M516.40,793.90 C518.62,794.12 526.38,794.40 529.70,795.20 C533.02,796.00 534.95,796.87 536.30,798.70 C537.65,800.53 537.47,802.65 537.80,806.20 C538.13,809.75 538.17,816.37 538.30,820.00 C538.43,823.63 538.55,826.67 538.60,828.00" fill="none" stroke="#1a1a1a" stroke-width="1.05" stroke-dasharray="1.1 1.5" stroke-linecap="butt"/>
<path d="M538.80,833.20 L536.13,828.64 L538.75,829.80 L541.33,828.56 Z" fill="#111"/>
<path d="M577.10,788.20 C576.32,788.40 573.48,788.60 572.40,789.40 C571.32,790.20 570.92,791.73 570.60,793.00 C570.28,794.27 570.52,796.33 570.50,797.00" fill="none" stroke="#1a1a1a" stroke-width="1.05" stroke-dasharray="1.1 1.5" stroke-linecap="butt"/>
<path d="M570.50,802.40 L567.90,797.80 L570.50,799.00 L573.10,797.80 Z" fill="#111"/>
<circle cx="539.10" cy="853.60" r="3.1" fill="#3bb54a" stroke="none" stroke-width="0"/>
<circle cx="571.10" cy="854.40" r="3.1" fill="#3bb54a" stroke="none" stroke-width="0"/>
<circle cx="603.40" cy="854.40" r="3.1" fill="#3bb54a" stroke="none" stroke-width="0"/>
<path d="M542.80,870.30 C543.17,871.00 544.33,873.28 545.00,874.50 C545.67,875.72 546.50,877.08 546.80,877.60" fill="none" stroke="#1a1a1a" stroke-width="1.05" stroke-dasharray="1.1 1.5" stroke-linecap="butt"/>
<path d="M549.00,880.60 L544.14,878.52 L546.94,877.90 L548.28,875.37 Z" fill="#111"/>
<path d="M577.80,868.70 C578.20,869.42 580.00,871.55 580.20,873.00 C580.40,874.45 579.57,876.30 579.00,877.40 C578.43,878.50 577.17,879.23 576.80,879.60" fill="none" stroke="#1a1a1a" stroke-width="1.05" stroke-dasharray="1.1 1.5" stroke-linecap="butt"/>
<path d="M574.00,882.60 L575.28,877.47 L576.34,880.13 L579.05,881.05 Z" fill="#111"/>
<path d="M608.00,870.30 C608.37,871.02 610.03,873.22 610.20,874.60 C610.37,875.98 609.67,877.57 609.00,878.60 C608.33,879.63 606.67,880.43 606.20,880.80" fill="none" stroke="#1a1a1a" stroke-width="1.05" stroke-dasharray="1.1 1.5" stroke-linecap="butt"/>
<path d="M603.00,883.40 L605.16,878.58 L605.74,881.38 L608.25,882.76 Z" fill="#111"/>
<path d="M552.20,881.60 L556.50,887.20 L547.90,887.20 Z" fill="#3bb54a"/>
<path d="M568.90,887.80 L573.20,893.40 L564.60,893.40 Z" fill="#3bb54a"/>
<path d="M599.30,884.00 L603.60,889.60 L595.00,889.60 Z" fill="#3bb54a"/>
<path d="M516.5,891.9 L557.3,907.6 L557.3,920.4 M616.0,891.9 L574.5,907.6 L574.5,920.4" fill="none" stroke="#1e1e1e" stroke-width="1.9"/>
<path d="M483.70,952.00 C484.47,951.92 487.05,952.55 488.30,951.50 C489.55,950.45 490.42,947.67 491.20,945.70 C491.98,943.73 493.10,940.68 493.00,939.70 C492.90,938.72 491.17,938.88 490.60,939.80 C490.03,940.72 489.65,943.52 489.60,945.20 C489.55,946.88 489.50,948.08 490.30,949.90 C491.10,951.72 492.87,955.07 494.40,956.10 C495.93,957.13 498.32,957.30 499.50,956.10 C500.68,954.90 501.17,950.10 501.50,948.90" fill="none" stroke="#5d60a8" stroke-width="1.25" stroke-linecap="round"/>
<path d="M526.60,944.30 C527.70,944.73 532.35,945.45 533.20,946.90 C534.05,948.35 532.55,950.97 531.70,953.00 C530.85,955.03 528.35,957.23 528.10,959.10 C527.85,960.97 529.35,962.67 530.20,964.20 C531.05,965.73 532.70,967.62 533.20,968.30" fill="none" stroke="#5d60a8" stroke-width="1.25" stroke-linecap="round"/>
<path d="M501.70,944.60 C501.47,945.02 500.82,945.72 500.72,946.35 C500.62,946.99 501.01,947.78 501.10,948.40 C501.19,949.02 500.97,949.51 501.25,950.05 C501.53,950.58 502.37,951.17 502.80,951.60 C503.23,952.03 503.27,952.36 503.84,952.62 C504.40,952.89 505.61,952.97 506.20,953.20 C506.79,953.43 506.80,953.88 507.38,954.01 C507.97,954.15 509.07,953.78 509.70,954.00 C510.33,954.22 510.57,955.10 511.16,955.34 C511.74,955.57 512.50,955.29 513.20,955.40 C513.90,955.51 514.67,956.02 515.34,955.99 C516.00,955.95 516.53,955.33 517.20,955.20 C517.87,955.07 518.80,955.39 519.37,955.22 C519.93,955.06 519.99,954.40 520.60,954.20 C521.21,954.00 522.42,954.20 523.02,954.03 C523.62,953.86 523.66,953.53 524.20,953.20 C524.74,952.87 525.78,952.49 526.23,952.06 C526.68,951.63 526.63,951.16 526.90,950.60 C527.17,950.04 527.77,949.31 527.85,948.67 C527.93,948.04 527.46,947.40 527.40,946.80 C527.34,946.20 527.67,945.60 527.47,945.10 C527.27,944.60 526.66,944.04 526.20,943.80 C525.74,943.56 525.42,943.58 524.72,943.63 C524.02,943.68 522.66,944.10 522.00,944.10 C521.34,944.10 521.34,943.62 520.74,943.60 C520.14,943.59 519.04,944.03 518.40,944.00 C517.76,943.97 517.52,943.41 516.92,943.43 C516.32,943.44 515.52,944.08 514.80,944.10 C514.08,944.12 513.26,943.52 512.58,943.57 C511.90,943.62 511.43,944.39 510.70,944.40 C509.97,944.41 508.86,943.71 508.20,943.61 C507.53,943.51 507.29,943.85 506.70,943.80 C506.11,943.75 505.14,943.36 504.66,943.33 C504.17,943.29 504.22,943.52 503.80,943.60 C503.38,943.68 502.46,943.64 502.11,943.81 C501.76,943.98 501.93,944.18 501.70,944.60Z" fill="url(#ribS)" stroke="#2a161c" stroke-width="1.45" stroke-linejoin="round"/>
<path d="M514.30,927.60 C513.57,927.61 513.01,927.04 512.43,927.16 C511.84,927.28 511.40,928.11 510.80,928.30 C510.20,928.49 509.37,928.07 508.85,928.31 C508.33,928.54 508.25,929.33 507.70,929.70 C507.15,930.07 506.04,930.07 505.52,930.50 C505.01,930.94 505.06,931.80 504.60,932.30 C504.14,932.80 503.11,933.02 502.74,933.50 C502.37,933.98 502.70,934.62 502.40,935.20 C502.10,935.78 501.17,936.39 500.95,936.99 C500.73,937.59 501.15,938.15 501.10,938.80 C501.05,939.45 500.56,940.28 500.68,940.91 C500.80,941.55 501.56,942.07 501.80,942.60 C502.04,943.13 501.77,943.73 502.11,944.10 C502.44,944.47 503.38,944.54 503.80,944.80 C504.22,945.06 504.17,945.54 504.66,945.64 C505.14,945.74 506.10,945.24 506.70,945.40 C507.30,945.56 507.62,946.42 508.28,946.58 C508.95,946.75 509.97,946.41 510.70,946.40 C511.43,946.39 511.95,946.76 512.63,946.54 C513.32,946.32 514.10,945.22 514.80,945.10 C515.50,944.98 516.25,945.83 516.85,945.81 C517.45,945.79 517.76,945.02 518.40,945.00 C519.04,944.98 520.10,945.66 520.70,945.68 C521.30,945.69 521.41,945.22 522.00,945.10 C522.59,944.98 523.71,945.15 524.24,944.93 C524.77,944.72 524.78,944.24 525.20,943.80 C525.62,943.36 526.48,942.90 526.74,942.30 C527.01,941.70 526.67,940.85 526.80,940.20 C526.93,939.55 527.53,939.00 527.50,938.37 C527.46,937.74 526.77,937.05 526.60,936.40 C526.43,935.75 526.78,935.06 526.48,934.48 C526.18,933.90 525.20,933.46 524.80,932.90 C524.40,932.34 524.55,931.59 524.09,931.14 C523.62,930.69 522.52,930.63 522.00,930.20 C521.48,929.77 521.47,928.91 520.95,928.58 C520.44,928.24 519.59,928.44 518.90,928.20 C518.21,927.96 517.58,927.23 516.82,927.13 C516.05,927.03 515.03,927.59 514.30,927.60Z" fill="url(#ribL)" stroke="#33191a" stroke-width="1.45" stroke-linejoin="round"/>
<path d="M535.40,952.00 C536.17,951.92 538.75,952.55 540.00,951.50 C541.25,950.45 542.12,947.67 542.90,945.70 C543.68,943.73 544.80,940.68 544.70,939.70 C544.60,938.72 542.87,938.88 542.30,939.80 C541.73,940.72 541.35,943.52 541.30,945.20 C541.25,946.88 541.20,948.08 542.00,949.90 C542.80,951.72 544.57,955.07 546.10,956.10 C547.63,957.13 550.02,957.30 551.20,956.10 C552.38,954.90 552.87,950.10 553.20,948.90" fill="none" stroke="#5d60a8" stroke-width="1.25" stroke-linecap="round"/>
<path d="M578.30,944.30 C579.40,944.73 584.05,945.45 584.90,946.90 C585.75,948.35 584.25,950.97 583.40,953.00 C582.55,955.03 580.05,957.23 579.80,959.10 C579.55,960.97 581.05,962.67 581.90,964.20 C582.75,965.73 584.40,967.62 584.90,968.30" fill="none" stroke="#5d60a8" stroke-width="1.25" stroke-linecap="round"/>
<path d="M553.40,944.60 C553.17,945.02 552.52,945.72 552.42,946.35 C552.32,946.99 552.71,947.78 552.80,948.40 C552.89,949.02 552.67,949.51 552.95,950.05 C553.23,950.58 554.07,951.17 554.50,951.60 C554.93,952.03 554.97,952.36 555.54,952.62 C556.10,952.89 557.31,952.97 557.90,953.20 C558.49,953.43 558.50,953.88 559.08,954.01 C559.67,954.15 560.77,953.78 561.40,954.00 C562.03,954.22 562.27,955.10 562.86,955.34 C563.44,955.57 564.20,955.29 564.90,955.40 C565.60,955.51 566.37,956.02 567.04,955.99 C567.70,955.95 568.23,955.33 568.90,955.20 C569.57,955.07 570.50,955.39 571.07,955.22 C571.63,955.06 571.69,954.40 572.30,954.20 C572.91,954.00 574.12,954.20 574.72,954.03 C575.32,953.86 575.36,953.53 575.90,953.20 C576.44,952.87 577.48,952.49 577.93,952.06 C578.38,951.63 578.33,951.16 578.60,950.60 C578.87,950.04 579.47,949.31 579.55,948.67 C579.63,948.04 579.16,947.40 579.10,946.80 C579.04,946.20 579.37,945.60 579.17,945.10 C578.97,944.60 578.36,944.04 577.90,943.80 C577.44,943.56 577.12,943.58 576.42,943.63 C575.72,943.68 574.36,944.10 573.70,944.10 C573.04,944.10 573.04,943.62 572.44,943.60 C571.84,943.59 570.74,944.03 570.10,944.00 C569.46,943.97 569.22,943.41 568.62,943.43 C568.02,943.44 567.22,944.08 566.50,944.10 C565.78,944.12 564.96,943.52 564.28,943.57 C563.60,943.62 563.13,944.39 562.40,944.40 C561.67,944.41 560.56,943.71 559.90,943.61 C559.23,943.51 558.99,943.85 558.40,943.80 C557.81,943.75 556.84,943.36 556.36,943.33 C555.87,943.29 555.92,943.52 555.50,943.60 C555.08,943.68 554.16,943.64 553.81,943.81 C553.46,943.98 553.63,944.18 553.40,944.60Z" fill="url(#ribS)" stroke="#2a161c" stroke-width="1.45" stroke-linejoin="round"/>
<path d="M566.00,927.60 C565.27,927.61 564.71,927.04 564.13,927.16 C563.54,927.28 563.10,928.11 562.50,928.30 C561.90,928.49 561.07,928.07 560.55,928.31 C560.03,928.54 559.95,929.33 559.40,929.70 C558.85,930.07 557.74,930.07 557.22,930.50 C556.71,930.94 556.76,931.80 556.30,932.30 C555.84,932.80 554.81,933.02 554.44,933.50 C554.07,933.98 554.40,934.62 554.10,935.20 C553.80,935.78 552.87,936.39 552.65,936.99 C552.43,937.59 552.85,938.15 552.80,938.80 C552.75,939.45 552.26,940.28 552.38,940.91 C552.50,941.55 553.26,942.07 553.50,942.60 C553.74,943.13 553.47,943.73 553.81,944.10 C554.14,944.47 555.08,944.54 555.50,944.80 C555.92,945.06 555.87,945.54 556.36,945.64 C556.84,945.74 557.80,945.24 558.40,945.40 C559.00,945.56 559.32,946.42 559.98,946.58 C560.65,946.75 561.67,946.41 562.40,946.40 C563.13,946.39 563.65,946.76 564.33,946.54 C565.02,946.32 565.80,945.22 566.50,945.10 C567.20,944.98 567.95,945.83 568.55,945.81 C569.15,945.79 569.46,945.02 570.10,945.00 C570.74,944.98 571.80,945.66 572.40,945.68 C573.00,945.69 573.11,945.22 573.70,945.10 C574.29,944.98 575.41,945.15 575.94,944.93 C576.47,944.72 576.48,944.24 576.90,943.80 C577.32,943.36 578.18,942.90 578.44,942.30 C578.71,941.70 578.37,940.85 578.50,940.20 C578.63,939.55 579.23,939.00 579.20,938.37 C579.16,937.74 578.47,937.05 578.30,936.40 C578.13,935.75 578.48,935.06 578.18,934.48 C577.88,933.90 576.90,933.46 576.50,932.90 C576.10,932.34 576.25,931.59 575.79,931.14 C575.32,930.69 574.22,930.63 573.70,930.20 C573.18,929.77 573.17,928.91 572.65,928.58 C572.14,928.24 571.29,928.44 570.60,928.20 C569.91,927.96 569.28,927.23 568.52,927.13 C567.75,927.03 566.73,927.59 566.00,927.60Z" fill="url(#ribL)" stroke="#33191a" stroke-width="1.45" stroke-linejoin="round"/>
<path d="M588.80,952.00 C589.57,951.92 592.15,952.55 593.40,951.50 C594.65,950.45 595.52,947.67 596.30,945.70 C597.08,943.73 598.20,940.68 598.10,939.70 C598.00,938.72 596.27,938.88 595.70,939.80 C595.13,940.72 594.75,943.52 594.70,945.20 C594.65,946.88 594.60,948.08 595.40,949.90 C596.20,951.72 597.97,955.07 599.50,956.10 C601.03,957.13 603.42,957.30 604.60,956.10 C605.78,954.90 606.27,950.10 606.60,948.90" fill="none" stroke="#5d60a8" stroke-width="1.25" stroke-linecap="round"/>
<path d="M631.70,944.30 C632.80,944.73 637.45,945.45 638.30,946.90 C639.15,948.35 637.65,950.97 636.80,953.00 C635.95,955.03 633.45,957.23 633.20,959.10 C632.95,960.97 634.45,962.67 635.30,964.20 C636.15,965.73 637.80,967.62 638.30,968.30" fill="none" stroke="#5d60a8" stroke-width="1.25" stroke-linecap="round"/>
<path d="M606.80,944.60 C606.57,945.02 605.92,945.72 605.82,946.35 C605.72,946.99 606.11,947.78 606.20,948.40 C606.29,949.02 606.07,949.51 606.35,950.05 C606.63,950.58 607.47,951.17 607.90,951.60 C608.33,952.03 608.37,952.36 608.94,952.62 C609.50,952.89 610.71,952.97 611.30,953.20 C611.89,953.43 611.90,953.88 612.48,954.01 C613.07,954.15 614.17,953.78 614.80,954.00 C615.43,954.22 615.67,955.10 616.26,955.34 C616.84,955.57 617.60,955.29 618.30,955.40 C619.00,955.51 619.77,956.02 620.44,955.99 C621.10,955.95 621.63,955.33 622.30,955.20 C622.97,955.07 623.90,955.39 624.47,955.22 C625.03,955.06 625.09,954.40 625.70,954.20 C626.31,954.00 627.52,954.20 628.12,954.03 C628.72,953.86 628.76,953.53 629.30,953.20 C629.84,952.87 630.88,952.49 631.33,952.06 C631.78,951.63 631.73,951.16 632.00,950.60 C632.27,950.04 632.87,949.31 632.95,948.67 C633.03,948.04 632.56,947.40 632.50,946.80 C632.44,946.20 632.77,945.60 632.57,945.10 C632.37,944.60 631.76,944.04 631.30,943.80 C630.84,943.56 630.52,943.58 629.82,943.63 C629.12,943.68 627.76,944.10 627.10,944.10 C626.44,944.10 626.44,943.62 625.84,943.60 C625.24,943.59 624.14,944.03 623.50,944.00 C622.86,943.97 622.62,943.41 622.02,943.43 C621.42,943.44 620.62,944.08 619.90,944.10 C619.18,944.12 618.36,943.52 617.68,943.57 C617.00,943.62 616.53,944.39 615.80,944.40 C615.07,944.41 613.96,943.71 613.30,943.61 C612.63,943.51 612.39,943.85 611.80,943.80 C611.21,943.75 610.24,943.36 609.76,943.33 C609.27,943.29 609.32,943.52 608.90,943.60 C608.48,943.68 607.56,943.64 607.21,943.81 C606.86,943.98 607.03,944.18 606.80,944.60Z" fill="url(#ribS)" stroke="#2a161c" stroke-width="1.45" stroke-linejoin="round"/>
<path d="M619.40,927.60 C618.67,927.61 618.11,927.04 617.53,927.16 C616.94,927.28 616.50,928.11 615.90,928.30 C615.30,928.49 614.47,928.07 613.95,928.31 C613.43,928.54 613.35,929.33 612.80,929.70 C612.25,930.07 611.14,930.07 610.62,930.50 C610.11,930.94 610.16,931.80 609.70,932.30 C609.24,932.80 608.21,933.02 607.84,933.50 C607.47,933.98 607.80,934.62 607.50,935.20 C607.20,935.78 606.27,936.39 606.05,936.99 C605.83,937.59 606.25,938.15 606.20,938.80 C606.15,939.45 605.66,940.28 605.78,940.91 C605.90,941.55 606.66,942.07 606.90,942.60 C607.14,943.13 606.87,943.73 607.21,944.10 C607.54,944.47 608.48,944.54 608.90,944.80 C609.32,945.06 609.27,945.54 609.76,945.64 C610.24,945.74 611.20,945.24 611.80,945.40 C612.40,945.56 612.72,946.42 613.38,946.58 C614.05,946.75 615.07,946.41 615.80,946.40 C616.53,946.39 617.05,946.76 617.73,946.54 C618.42,946.32 619.20,945.22 619.90,945.10 C620.60,944.98 621.35,945.83 621.95,945.81 C622.55,945.79 622.86,945.02 623.50,945.00 C624.14,944.98 625.20,945.66 625.80,945.68 C626.40,945.69 626.51,945.22 627.10,945.10 C627.69,944.98 628.81,945.15 629.34,944.93 C629.87,944.72 629.88,944.24 630.30,943.80 C630.72,943.36 631.58,942.90 631.84,942.30 C632.11,941.70 631.77,940.85 631.90,940.20 C632.03,939.55 632.63,939.00 632.60,938.37 C632.56,937.74 631.87,937.05 631.70,936.40 C631.53,935.75 631.88,935.06 631.58,934.48 C631.28,933.90 630.30,933.46 629.90,932.90 C629.50,932.34 629.65,931.59 629.19,931.14 C628.72,930.69 627.62,930.63 627.10,930.20 C626.58,929.77 626.57,928.91 626.05,928.58 C625.54,928.24 624.69,928.44 624.00,928.20 C623.31,927.96 622.68,927.23 621.92,927.13 C621.15,927.03 620.13,927.59 619.40,927.60Z" fill="url(#ribL)" stroke="#33191a" stroke-width="1.45" stroke-linejoin="round"/>
<path d="M532.80,1016.60 A34.5,34.5 0 0 1 601.80,1016.60" fill="none" stroke="#0d0d0d" stroke-width="2.0"/>
<path d="M568.84,1017.33 L579.90,989.90 L565.76,1015.87 Z" fill="#9b3a5c"/>
<path d="M567.41,1018.50 L601.00,1014.60 L567.19,1014.70 Z" fill="#f3a22a"/>
<path d="M567.33,1017.20 L600.00,1015.20 L567.27,1016.00 Z" fill="#f6c64a"/>
<line x1="531.80" y1="1016.90" x2="602.80" y2="1016.90" stroke="#0d0d0d" stroke-width="3.0" />
<circle cx="567.30" cy="1016.30" r="2.6" fill="#111" stroke="none" stroke-width="0"/>
<text x="566.30" y="977.80" font-size="12.2" text-anchor="middle" font-weight="normal" font-style="normal" fill="#231f20" >0.5</text>
<text x="523.40" y="1021.00" font-size="12.2" text-anchor="middle" font-weight="normal" font-style="normal" fill="#231f20" >0</text>
<text x="610.40" y="1021.00" font-size="12.2" text-anchor="middle" font-weight="normal" font-style="normal" fill="#231f20" >1</text>
<text x="567.30" y="1036.00" font-size="12.6" text-anchor="middle" fill="#231f20"><tspan font-style="italic">k</tspan><tspan font-size="9.2" dy="2.6">eff</tspan></text>
<line x1="556.30" y1="1041.00" x2="578.30" y2="1041.00" stroke="#231f20" stroke-width="0.9" />
<text x="567.30" y="1052.60" font-size="12.6" text-anchor="middle" fill="#231f20"><tspan font-style="italic">k</tspan><tspan font-size="9.2" dy="2.6">cat</tspan></text>
<line x1="60.80" y1="1061.60" x2="618.00" y2="1061.60" stroke="#000" stroke-width="2.7" />
<path d="M616.4,1048.9 L638.9,1061.6 L616.4,1074.5 Z" fill="#000"/>
<text x="340.60" y="1082.60" font-size="12.9" text-anchor="middle" font-weight="normal" font-style="normal" fill="#231f20" ><tspan font-family="Liberation Serif">μ</tspan> increases through increases in effective catalytic rate (<tspan font-style="italic">k</tspan><tspan font-size="9.3" dy="2.6">eff</tspan><tspan dy="-2.6">)</tspan></text>

</svg>
</body></html>
